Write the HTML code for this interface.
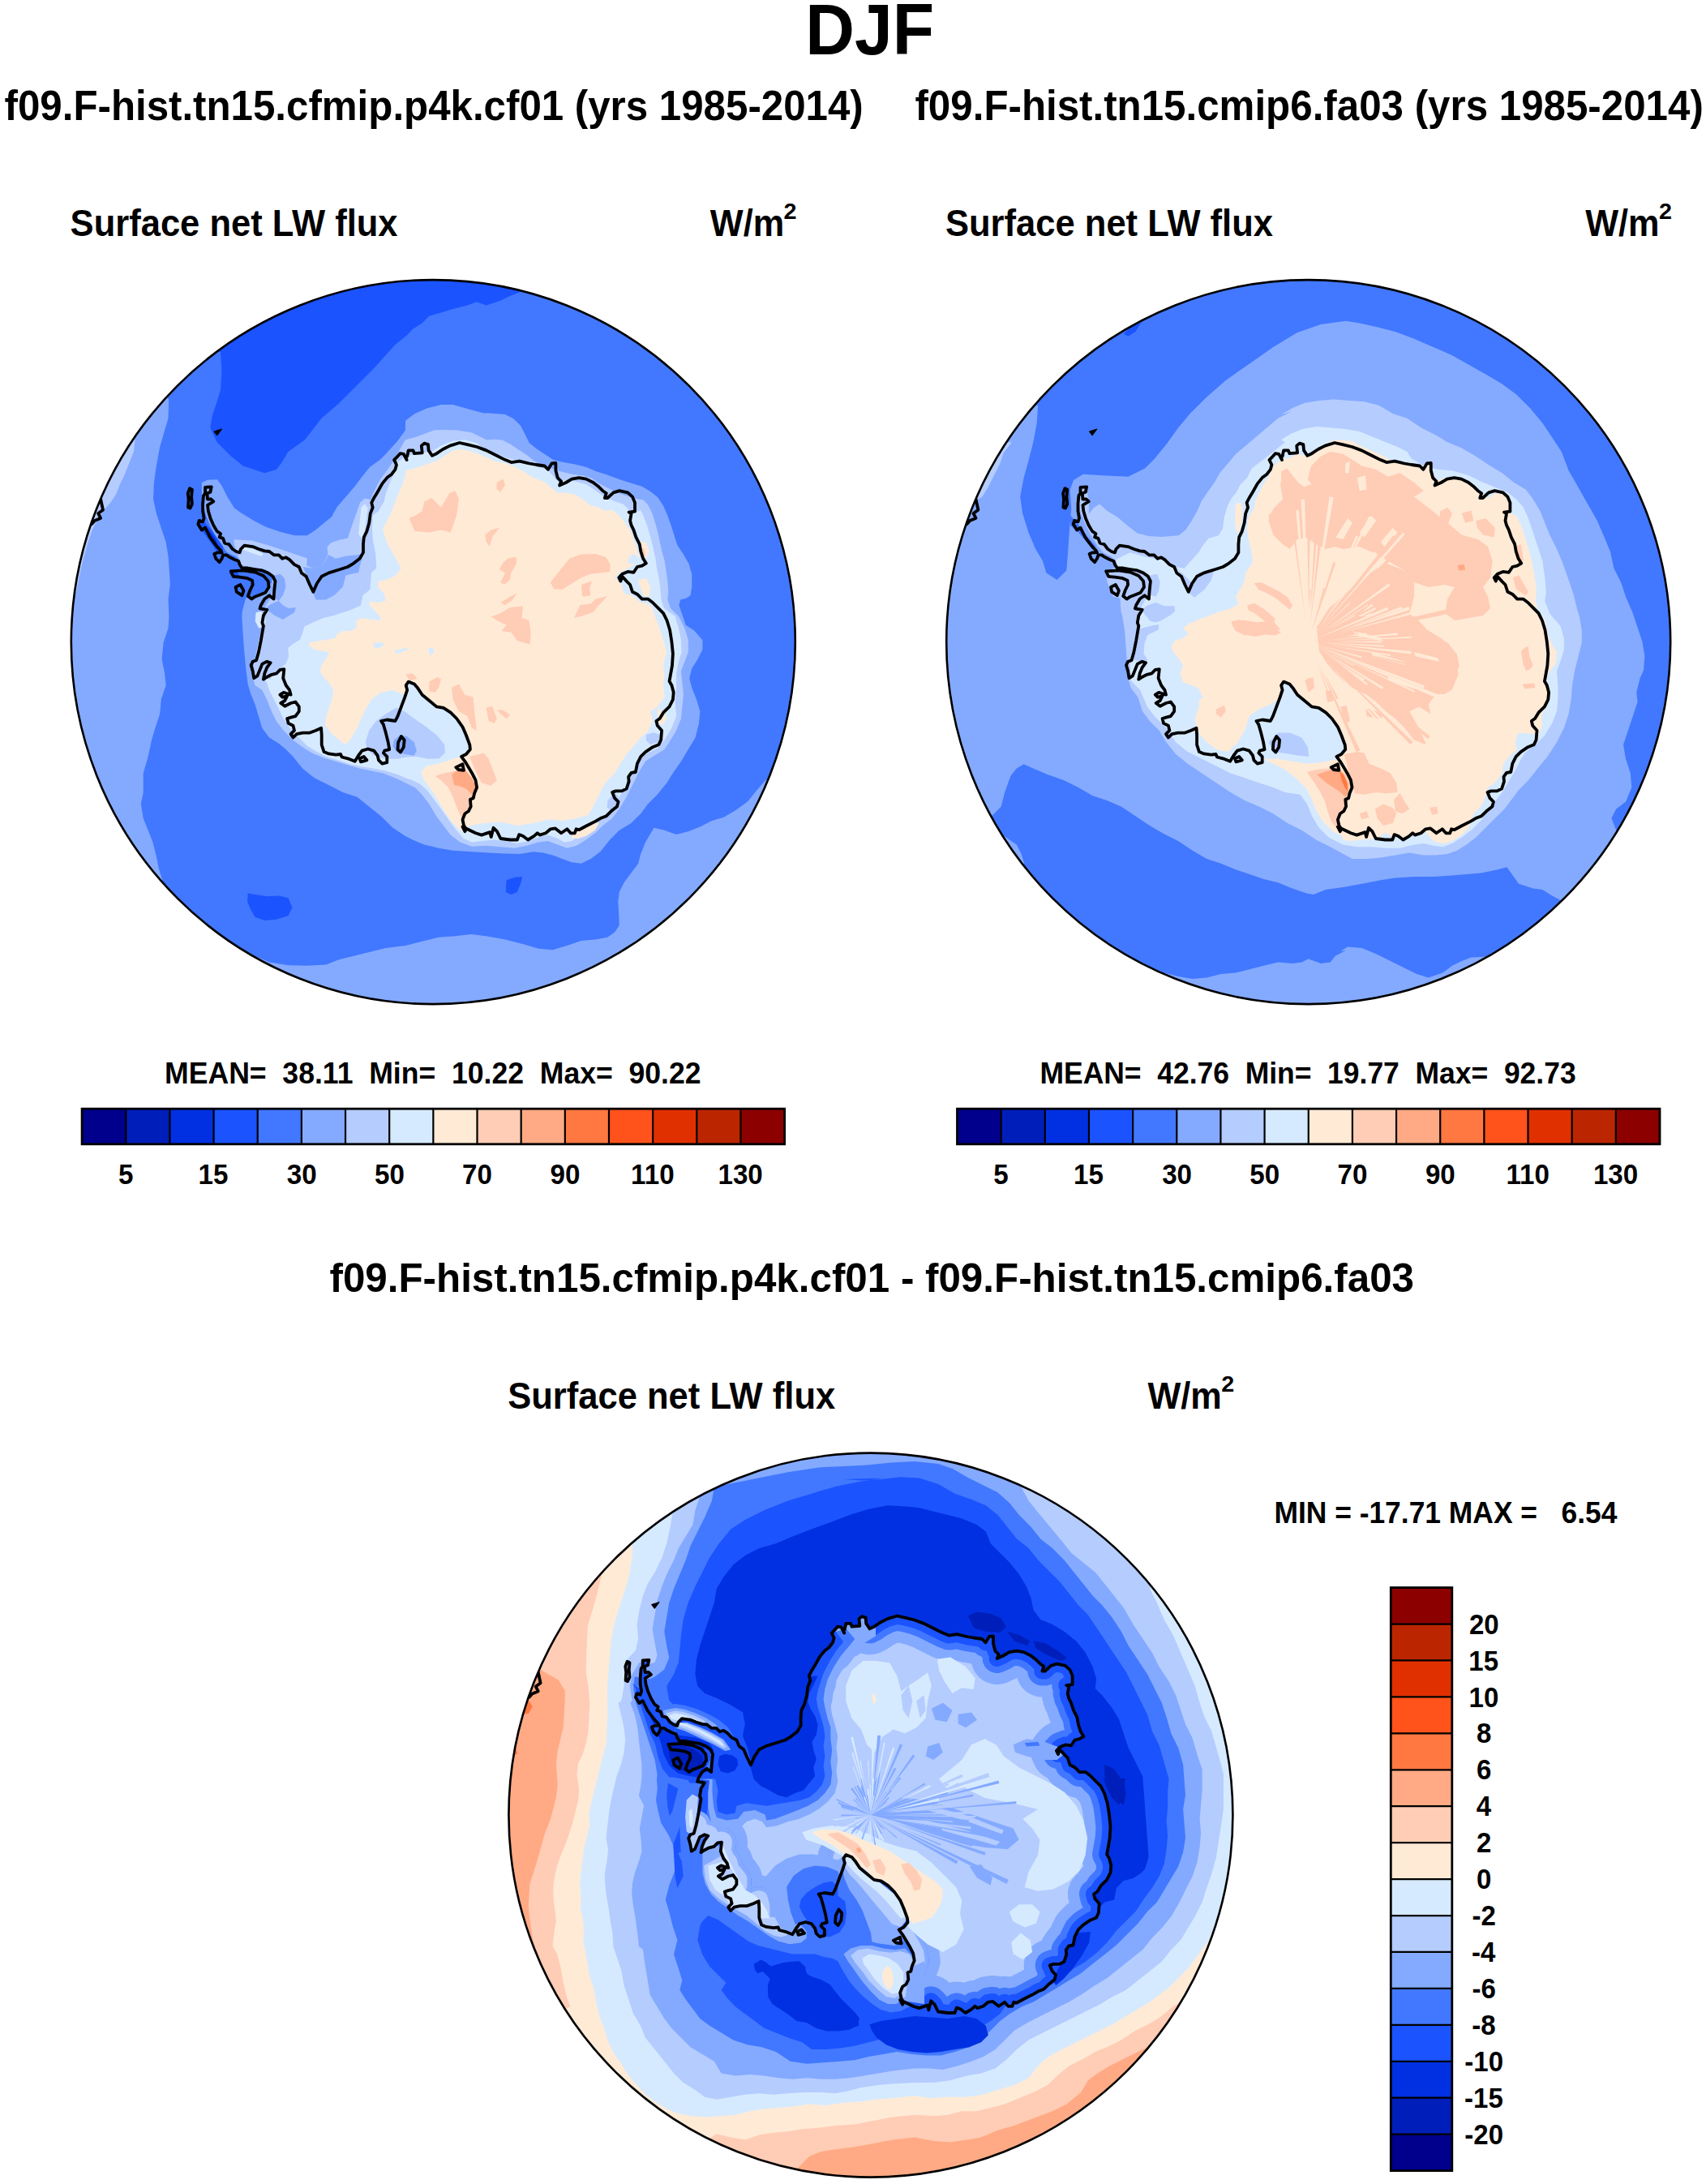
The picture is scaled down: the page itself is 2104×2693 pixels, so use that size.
<!DOCTYPE html>
<html><head><meta charset="utf-8"><title>DJF Surface net LW flux</title>
<style>html,body{margin:0;padding:0;background:#fff}svg{display:block}</style></head>
<body>
<svg width="2104" height="2693" viewBox="0 0 2104 2693" font-family="'Liberation Sans', Arial, Helvetica, sans-serif" font-weight="bold" fill="#000">
<defs>
<clipPath id="clip1"><circle cx="534.3" cy="791.6" r="446.5"/></clipPath>
<clipPath id="clip2"><circle cx="1613.7" cy="791.6" r="446.5"/></clipPath>
<clipPath id="clip3"><circle cx="1073.9" cy="2238.1" r="446.5"/></clipPath>
<clipPath id="coast1"><path d="M500.1,562.7 501.6,567.1 497.8,559.8 493.4,559.2 489.0,564.2 486.1,567.1 489.0,573.0 487.5,578.9 483.1,584.7 477.3,589.1 471.4,596.4 465.6,606.7 461.2,614.0 458.2,619.9 459.7,625.8 456.8,633.1 455.3,644.8 452.4,655.1 448.8,662.4 448.0,671.2 448.0,681.4 443.6,688.8 436.2,694.6 428.9,699.0 417.2,702.8 405.5,706.4 396.7,710.8 390.8,719.5 386.4,729.8 382.0,721.0 377.6,710.8 371.8,706.4 368.8,699.0 363.0,696.1 357.1,690.2 352.7,687.3 348.3,688.8 343.9,684.4 338.1,684.4 332.2,680.0 326.3,679.4 319.0,677.0 311.7,674.1 301.4,672.6 297.0,677.0 295.6,681.4 291.2,680.0 286.8,677.0 282.4,671.2 277.1,669.7 275.1,663.9 270.7,662.4 272.1,658.0 267.7,655.1 263.3,647.7 259.5,638.9 256.9,630.2 256.0,622.8 263.3,618.4 260.4,615.5 256.0,615.5 255.4,608.2 259.5,606.7 260.7,600.3 253.1,600.8 253.1,608.2 251.0,611.1 250.1,621.4 250.1,630.2 251.6,638.9 250.1,643.3 245.7,641.9 244.3,646.3 248.7,653.6 253.1,650.7 256.0,656.5 258.9,662.4 263.3,668.3 267.7,674.1 272.1,678.5 273.6,681.4 267.7,681.4 264.2,682.9 266.3,688.8 270.7,693.2 273.6,688.8 275.1,684.4 279.4,684.4 283.8,687.3 289.7,690.2 294.1,691.7 295.6,696.1 298.5,700.5 305.8,700.5 314.6,702.0 323.4,703.4 330.7,706.4 336.6,710.8 339.5,716.6 338.1,729.8 337.5,738.6 332.2,734.2 326.3,738.6 321.9,745.9 320.5,750.3 329.3,751.8 324.9,759.1 323.4,767.9 324.9,771.7 321.9,789.3 319.0,804.0 316.1,814.2 311.7,815.7 309.6,820.1 311.7,827.4 313.2,836.2 317.5,833.3 320.5,825.9 323.4,818.6 329.3,815.7 333.7,817.2 329.3,823.0 326.3,830.3 324.9,837.7 329.3,834.7 335.1,831.8 341.0,830.3 345.4,825.9 350.4,825.1 349.2,836.2 352.7,845.0 357.1,850.9 358.6,856.7 354.2,855.3 349.8,853.8 345.4,856.7 348.3,859.6 354.2,858.2 351.3,864.0 346.3,867.0 351.3,870.8 358.6,867.0 364.4,865.5 368.8,871.4 368.8,877.2 364.4,883.1 358.6,884.6 354.2,886.0 355.6,891.9 361.5,894.8 363.0,900.7 358.6,905.1 361.5,909.5 365.9,905.1 373.2,903.6 382.0,903.6 389.4,900.7 396.1,897.7 396.7,906.5 396.7,918.3 399.6,927.1 405.5,929.4 414.3,930.6 420.1,930.0 421.6,933.5 428.9,935.3 437.7,938.8 442.1,931.5 446.5,925.6 453.8,923.5 461.2,925.6 465.6,931.5 467.0,937.3 471.4,941.7 477.3,940.2 477.3,932.9 472.9,928.5 474.3,925.6 480.2,924.1 478.7,915.3 475.8,903.6 472.9,893.4 470.0,889.0 477.3,887.5 487.5,889.0 490.5,883.1 494.9,871.4 499.3,859.6 502.2,850.9 500.7,845.0 503.7,840.6 511.0,843.5 514.8,847.9 520.7,856.7 529.5,864.0 538.3,871.4 547.0,872.8 555.8,878.7 563.2,886.0 570.5,896.3 574.9,906.5 579.3,918.3 579.9,924.1 574.9,930.0 569.0,932.9 573.4,938.8 577.8,946.1 582.2,953.4 586.6,962.2 588.1,971.0 585.1,978.3 583.7,984.2 579.9,985.7 580.7,994.5 577.8,1000.3 573.4,1003.3 570.5,1010.6 572.0,1017.9 574.9,1022.3 573.4,1025.2 570.5,1019.4 579.3,1023.8 586.6,1027.3 593.9,1029.6 604.2,1026.1 605.7,1032.0 608.6,1020.8 613.0,1025.2 617.4,1034.0 629.1,1035.5 637.9,1035.5 640.2,1029.1 645.2,1031.1 651.1,1035.5 658.4,1031.1 662.8,1027.3 665.7,1029.6 673.1,1027.3 678.9,1022.3 684.8,1021.4 692.1,1027.3 699.4,1022.3 703.8,1027.3 708.8,1027.3 710.6,1022.3 714.1,1023.2 722.9,1018.5 734.6,1012.6 740.5,1009.1 747.8,1006.2 753.7,1000.3 761.0,994.5 762.5,988.6 758.1,984.2 755.1,976.9 759.5,975.4 766.9,975.4 772.7,972.5 775.6,963.7 775.1,957.8 778.6,952.8 783.9,952.0 785.9,941.7 790.3,932.9 796.2,927.1 805.0,921.2 812.3,918.3 815.2,912.4 816.1,900.7 810.8,894.8 809.4,889.0 813.7,886.0 818.1,878.7 825.5,871.4 829.9,862.6 830.7,853.8 828.4,845.0 825.5,840.0 826.9,832.4 829.0,820.7 829.9,806.0 828.4,791.3 826.1,776.7 822.5,765.0 818.1,756.2 810.8,748.9 805.0,743.0 799.1,738.6 791.8,738.6 785.9,732.7 780.0,729.8 777.1,721.0 772.7,716.6 767.4,710.8 765.4,716.6 763.3,712.2 767.4,707.8 774.2,704.9 781.5,705.8 785.9,699.0 791.8,697.6 796.8,694.6 793.2,688.8 790.3,680.0 788.8,671.2 784.4,662.4 781.5,653.6 778.6,647.7 777.1,641.9 778.6,633.1 775.6,631.6 783.0,630.7 783.0,619.9 780.0,612.6 774.2,607.3 763.9,605.2 756.6,607.3 749.3,614.0 745.8,614.0 747.8,608.2 743.4,605.2 737.5,599.4 731.7,595.0 722.9,590.6 714.1,589.1 705.3,590.6 698.0,595.0 690.1,598.5 692.1,593.5 687.7,589.1 685.4,580.3 685.4,570.9 680.4,571.5 676.0,578.9 671.6,574.5 661.3,573.0 652.6,571.5 640.8,568.6 630.6,570.1 623.2,567.1 611.5,561.3 599.8,555.4 588.1,551.0 576.3,548.1 566.7,546.0 554.9,549.6 546.2,554.0 537.4,559.8 533.0,561.9 528.6,555.4 528.0,548.1 523.3,546.6 519.8,549.6 520.7,558.3 511.0,559.2 509.5,555.4 503.7,555.4 502.2,562.7Z"/></clipPath>
<clipPath id="coast2"><path d="M1579.5,562.7 1581.0,567.1 1577.2,559.8 1572.8,559.2 1568.4,564.2 1565.5,567.1 1568.4,573.0 1566.9,578.9 1562.5,584.7 1556.7,589.1 1550.8,596.4 1545.0,606.7 1540.6,614.0 1537.6,619.9 1539.1,625.8 1536.2,633.1 1534.7,644.8 1531.8,655.1 1528.2,662.4 1527.4,671.2 1527.4,681.4 1523.0,688.8 1515.6,694.6 1508.3,699.0 1496.6,702.8 1484.9,706.4 1476.1,710.8 1470.2,719.5 1465.8,729.8 1461.4,721.0 1457.0,710.8 1451.2,706.4 1448.2,699.0 1442.4,696.1 1436.5,690.2 1432.1,687.3 1427.7,688.8 1423.3,684.4 1417.5,684.4 1411.6,680.0 1405.7,679.4 1398.4,677.0 1391.1,674.1 1380.8,672.6 1376.4,677.0 1375.0,681.4 1370.6,680.0 1366.2,677.0 1361.8,671.2 1356.5,669.7 1354.5,663.9 1350.1,662.4 1351.5,658.0 1347.1,655.1 1342.7,647.7 1338.9,638.9 1336.3,630.2 1335.4,622.8 1342.7,618.4 1339.8,615.5 1335.4,615.5 1334.8,608.2 1338.9,606.7 1340.1,600.3 1332.5,600.8 1332.5,608.2 1330.4,611.1 1329.5,621.4 1329.5,630.2 1331.0,638.9 1329.5,643.3 1325.1,641.9 1323.7,646.3 1328.1,653.6 1332.5,650.7 1335.4,656.5 1338.3,662.4 1342.7,668.3 1347.1,674.1 1351.5,678.5 1353.0,681.4 1347.1,681.4 1343.6,682.9 1345.7,688.8 1350.1,693.2 1353.0,688.8 1354.5,684.4 1358.8,684.4 1363.2,687.3 1369.1,690.2 1373.5,691.7 1375.0,696.1 1377.9,700.5 1385.2,700.5 1394.0,702.0 1402.8,703.4 1410.1,706.4 1416.0,710.8 1418.9,716.6 1417.5,729.8 1416.9,738.6 1411.6,734.2 1405.7,738.6 1401.3,745.9 1399.9,750.3 1408.7,751.8 1404.3,759.1 1402.8,767.9 1404.3,771.7 1401.3,789.3 1398.4,804.0 1395.5,814.2 1391.1,815.7 1389.0,820.1 1391.1,827.4 1392.6,836.2 1396.9,833.3 1399.9,825.9 1402.8,818.6 1408.7,815.7 1413.1,817.2 1408.7,823.0 1405.7,830.3 1404.3,837.7 1408.7,834.7 1414.5,831.8 1420.4,830.3 1424.8,825.9 1429.8,825.1 1428.6,836.2 1432.1,845.0 1436.5,850.9 1438.0,856.7 1433.6,855.3 1429.2,853.8 1424.8,856.7 1427.7,859.6 1433.6,858.2 1430.7,864.0 1425.7,867.0 1430.7,870.8 1438.0,867.0 1443.8,865.5 1448.2,871.4 1448.2,877.2 1443.8,883.1 1438.0,884.6 1433.6,886.0 1435.0,891.9 1440.9,894.8 1442.4,900.7 1438.0,905.1 1440.9,909.5 1445.3,905.1 1452.6,903.6 1461.4,903.6 1468.8,900.7 1475.5,897.7 1476.1,906.5 1476.1,918.3 1479.0,927.1 1484.9,929.4 1493.7,930.6 1499.5,930.0 1501.0,933.5 1508.3,935.3 1517.1,938.8 1521.5,931.5 1525.9,925.6 1533.2,923.5 1540.6,925.6 1545.0,931.5 1546.4,937.3 1550.8,941.7 1556.7,940.2 1556.7,932.9 1552.3,928.5 1553.7,925.6 1559.6,924.1 1558.1,915.3 1555.2,903.6 1552.3,893.4 1549.4,889.0 1556.7,887.5 1566.9,889.0 1569.9,883.1 1574.3,871.4 1578.7,859.6 1581.6,850.9 1580.1,845.0 1583.1,840.6 1590.4,843.5 1594.2,847.9 1600.1,856.7 1608.9,864.0 1617.7,871.4 1626.4,872.8 1635.2,878.7 1642.6,886.0 1649.9,896.3 1654.3,906.5 1658.7,918.3 1659.3,924.1 1654.3,930.0 1648.4,932.9 1652.8,938.8 1657.2,946.1 1661.6,953.4 1666.0,962.2 1667.5,971.0 1664.5,978.3 1663.1,984.2 1659.3,985.7 1660.1,994.5 1657.2,1000.3 1652.8,1003.3 1649.9,1010.6 1651.4,1017.9 1654.3,1022.3 1652.8,1025.2 1649.9,1019.4 1658.7,1023.8 1666.0,1027.3 1673.3,1029.6 1683.6,1026.1 1685.1,1032.0 1688.0,1020.8 1692.4,1025.2 1696.8,1034.0 1708.5,1035.5 1717.3,1035.5 1719.6,1029.1 1724.6,1031.1 1730.5,1035.5 1737.8,1031.1 1742.2,1027.3 1745.1,1029.6 1752.5,1027.3 1758.3,1022.3 1764.2,1021.4 1771.5,1027.3 1778.8,1022.3 1783.2,1027.3 1788.2,1027.3 1790.0,1022.3 1793.5,1023.2 1802.3,1018.5 1814.0,1012.6 1819.9,1009.1 1827.2,1006.2 1833.1,1000.3 1840.4,994.5 1841.9,988.6 1837.5,984.2 1834.5,976.9 1838.9,975.4 1846.3,975.4 1852.1,972.5 1855.0,963.7 1854.5,957.8 1858.0,952.8 1863.3,952.0 1865.3,941.7 1869.7,932.9 1875.6,927.1 1884.4,921.2 1891.7,918.3 1894.6,912.4 1895.5,900.7 1890.2,894.8 1888.8,889.0 1893.1,886.0 1897.5,878.7 1904.9,871.4 1909.3,862.6 1910.1,853.8 1907.8,845.0 1904.9,840.0 1906.3,832.4 1908.4,820.7 1909.3,806.0 1907.8,791.3 1905.5,776.7 1901.9,765.0 1897.5,756.2 1890.2,748.9 1884.4,743.0 1878.5,738.6 1871.2,738.6 1865.3,732.7 1859.4,729.8 1856.5,721.0 1852.1,716.6 1846.8,710.8 1844.8,716.6 1842.7,712.2 1846.8,707.8 1853.6,704.9 1860.9,705.8 1865.3,699.0 1871.2,697.6 1876.2,694.6 1872.6,688.8 1869.7,680.0 1868.2,671.2 1863.8,662.4 1860.9,653.6 1858.0,647.7 1856.5,641.9 1858.0,633.1 1855.0,631.6 1862.4,630.7 1862.4,619.9 1859.4,612.6 1853.6,607.3 1843.3,605.2 1836.0,607.3 1828.7,614.0 1825.2,614.0 1827.2,608.2 1822.8,605.2 1816.9,599.4 1811.1,595.0 1802.3,590.6 1793.5,589.1 1784.7,590.6 1777.4,595.0 1769.5,598.5 1771.5,593.5 1767.1,589.1 1764.8,580.3 1764.8,570.9 1759.8,571.5 1755.4,578.9 1751.0,574.5 1740.7,573.0 1732.0,571.5 1720.2,568.6 1710.0,570.1 1702.6,567.1 1690.9,561.3 1679.2,555.4 1667.5,551.0 1655.7,548.1 1646.1,546.0 1634.3,549.6 1625.6,554.0 1616.8,559.8 1612.4,561.9 1608.0,555.4 1607.4,548.1 1602.7,546.6 1599.2,549.6 1600.1,558.3 1590.4,559.2 1588.9,555.4 1583.1,555.4 1581.6,562.7Z"/></clipPath>
<clipPath id="coast3"><path d="M1039.7,2009.2 1041.2,2013.6 1037.4,2006.3 1033.0,2005.7 1028.6,2010.7 1025.7,2013.6 1028.6,2019.5 1027.1,2025.4 1022.7,2031.2 1016.9,2035.6 1011.0,2042.9 1005.2,2053.2 1000.8,2060.5 997.8,2066.4 999.3,2072.3 996.4,2079.6 994.9,2091.3 992.0,2101.6 988.4,2108.9 987.6,2117.7 987.6,2127.9 983.2,2135.3 975.8,2141.1 968.5,2145.5 956.8,2149.3 945.1,2152.9 936.3,2157.3 930.4,2166.0 926.0,2176.3 921.6,2167.5 917.2,2157.3 911.4,2152.9 908.4,2145.5 902.6,2142.6 896.7,2136.7 892.3,2133.8 887.9,2135.3 883.5,2130.9 877.7,2130.9 871.8,2126.5 865.9,2125.9 858.6,2123.5 851.3,2120.6 841.0,2119.1 836.6,2123.5 835.2,2127.9 830.8,2126.5 826.4,2123.5 822.0,2117.7 816.7,2116.2 814.7,2110.4 810.3,2108.9 811.7,2104.5 807.3,2101.6 802.9,2094.2 799.1,2085.4 796.5,2076.7 795.6,2069.3 802.9,2064.9 800.0,2062.0 795.6,2062.0 795.0,2054.7 799.1,2053.2 800.3,2046.8 792.7,2047.3 792.7,2054.7 790.6,2057.6 789.7,2067.9 789.7,2076.7 791.2,2085.4 789.7,2089.8 785.3,2088.4 783.9,2092.8 788.3,2100.1 792.7,2097.2 795.6,2103.0 798.5,2108.9 802.9,2114.8 807.3,2120.6 811.7,2125.0 813.2,2127.9 807.3,2127.9 803.8,2129.4 805.9,2135.3 810.3,2139.7 813.2,2135.3 814.7,2130.9 819.0,2130.9 823.4,2133.8 829.3,2136.7 833.7,2138.2 835.2,2142.6 838.1,2147.0 845.4,2147.0 854.2,2148.5 863.0,2149.9 870.3,2152.9 876.2,2157.3 879.1,2163.1 877.7,2176.3 877.1,2185.1 871.8,2180.7 865.9,2185.1 861.5,2192.4 860.1,2196.8 868.9,2198.3 864.5,2205.6 863.0,2214.4 864.5,2218.2 861.5,2235.8 858.6,2250.5 855.7,2260.7 851.3,2262.2 849.2,2266.6 851.3,2273.9 852.8,2282.7 857.1,2279.8 860.1,2272.4 863.0,2265.1 868.9,2262.2 873.3,2263.7 868.9,2269.5 865.9,2276.8 864.5,2284.2 868.9,2281.2 874.7,2278.3 880.6,2276.8 885.0,2272.4 890.0,2271.6 888.8,2282.7 892.3,2291.5 896.7,2297.4 898.2,2303.2 893.8,2301.8 889.4,2300.3 885.0,2303.2 887.9,2306.1 893.8,2304.7 890.9,2310.5 885.9,2313.5 890.9,2317.3 898.2,2313.5 904.0,2312.0 908.4,2317.9 908.4,2323.7 904.0,2329.6 898.2,2331.1 893.8,2332.5 895.2,2338.4 901.1,2341.3 902.6,2347.2 898.2,2351.6 901.1,2356.0 905.5,2351.6 912.8,2350.1 921.6,2350.1 929.0,2347.2 935.7,2344.2 936.3,2353.0 936.3,2364.8 939.2,2373.6 945.1,2375.9 953.9,2377.1 959.7,2376.5 961.2,2380.0 968.5,2381.8 977.3,2385.3 981.7,2378.0 986.1,2372.1 993.4,2370.0 1000.8,2372.1 1005.2,2378.0 1006.6,2383.8 1011.0,2388.2 1016.9,2386.7 1016.9,2379.4 1012.5,2375.0 1013.9,2372.1 1019.8,2370.6 1018.3,2361.8 1015.4,2350.1 1012.5,2339.9 1009.6,2335.5 1016.9,2334.0 1027.1,2335.5 1030.1,2329.6 1034.5,2317.9 1038.9,2306.1 1041.8,2297.4 1040.3,2291.5 1043.3,2287.1 1050.6,2290.0 1054.4,2294.4 1060.3,2303.2 1069.1,2310.5 1077.9,2317.9 1086.6,2319.3 1095.4,2325.2 1102.8,2332.5 1110.1,2342.8 1114.5,2353.0 1118.9,2364.8 1119.5,2370.6 1114.5,2376.5 1108.6,2379.4 1113.0,2385.3 1117.4,2392.6 1121.8,2399.9 1126.2,2408.7 1127.7,2417.5 1124.7,2424.8 1123.3,2430.7 1119.5,2432.2 1120.3,2441.0 1117.4,2446.8 1113.0,2449.8 1110.1,2457.1 1111.6,2464.4 1114.5,2468.8 1113.0,2471.7 1110.1,2465.9 1118.9,2470.3 1126.2,2473.8 1133.5,2476.1 1143.8,2472.6 1145.3,2478.5 1148.2,2467.3 1152.6,2471.7 1157.0,2480.5 1168.7,2482.0 1177.5,2482.0 1179.8,2475.6 1184.8,2477.6 1190.7,2482.0 1198.0,2477.6 1202.4,2473.8 1205.3,2476.1 1212.7,2473.8 1218.5,2468.8 1224.4,2467.9 1231.7,2473.8 1239.0,2468.8 1243.4,2473.8 1248.4,2473.8 1250.2,2468.8 1253.7,2469.7 1262.5,2465.0 1274.2,2459.1 1280.1,2455.6 1287.4,2452.7 1293.3,2446.8 1300.6,2441.0 1302.1,2435.1 1297.7,2430.7 1294.7,2423.4 1299.1,2421.9 1306.5,2421.9 1312.3,2419.0 1315.2,2410.2 1314.7,2404.3 1318.2,2399.3 1323.5,2398.5 1325.5,2388.2 1329.9,2379.4 1335.8,2373.6 1344.6,2367.7 1351.9,2364.8 1354.8,2358.9 1355.7,2347.2 1350.4,2341.3 1349.0,2335.5 1353.3,2332.5 1357.7,2325.2 1365.1,2317.9 1369.5,2309.1 1370.3,2300.3 1368.0,2291.5 1365.1,2286.5 1366.5,2278.9 1368.6,2267.2 1369.5,2252.5 1368.0,2237.8 1365.7,2223.2 1362.1,2211.5 1357.7,2202.7 1350.4,2195.4 1344.6,2189.5 1338.7,2185.1 1331.4,2185.1 1325.5,2179.2 1319.6,2176.3 1316.7,2167.5 1312.3,2163.1 1307.0,2157.3 1305.0,2163.1 1302.9,2158.7 1307.0,2154.3 1313.8,2151.4 1321.1,2152.3 1325.5,2145.5 1331.4,2144.1 1336.4,2141.1 1332.8,2135.3 1329.9,2126.5 1328.4,2117.7 1324.0,2108.9 1321.1,2100.1 1318.2,2094.2 1316.7,2088.4 1318.2,2079.6 1315.2,2078.1 1322.6,2077.2 1322.6,2066.4 1319.6,2059.1 1313.8,2053.8 1303.5,2051.7 1296.2,2053.8 1288.9,2060.5 1285.4,2060.5 1287.4,2054.7 1283.0,2051.7 1277.1,2045.9 1271.3,2041.5 1262.5,2037.1 1253.7,2035.6 1244.9,2037.1 1237.6,2041.5 1229.7,2045.0 1231.7,2040.0 1227.3,2035.6 1225.0,2026.8 1225.0,2017.4 1220.0,2018.0 1215.6,2025.4 1211.2,2021.0 1200.9,2019.5 1192.2,2018.0 1180.4,2015.1 1170.2,2016.6 1162.8,2013.6 1151.1,2007.8 1139.4,2001.9 1127.7,1997.5 1115.9,1994.6 1106.3,1992.5 1094.5,1996.1 1085.8,2000.5 1077.0,2006.3 1072.6,2008.4 1068.2,2001.9 1067.6,1994.6 1062.9,1993.1 1059.4,1996.1 1060.3,2004.8 1050.6,2005.7 1049.1,2001.9 1043.3,2001.9 1041.8,2009.2Z"/></clipPath>
</defs>
<rect width="2104" height="2693" fill="#fff"/>
<text xml:space="preserve" transform="translate(993.33,67.10) scale(0.9403,1)" font-size="89.42" >DJF</text>
<text xml:space="preserve" transform="translate(5.56,147.90) scale(0.9548,1)" font-size="51.59" >f09.F-hist.tn15.cfmip.p4k.cf01 (yrs 1985-2014)</text>
<text xml:space="preserve" transform="translate(1128.46,147.90) scale(0.9556,1)" font-size="51.59" >f09.F-hist.tn15.cmip6.fa03 (yrs 1985-2014)</text>
<text xml:space="preserve" transform="translate(406.46,1592.50) scale(0.9954,1)" font-size="49.57" >f09.F-hist.tn15.cfmip.p4k.cf01 - f09.F-hist.tn15.cmip6.fa03</text>
<text xml:space="preserve" transform="translate(86.59,290.80) scale(0.9479,1)" font-size="45.94" >Surface net LW flux</text>
<text xml:space="preserve" transform="translate(875.80,290.80) scale(0.9359,1)" font-size="46.23" >W/m</text>
<text xml:space="preserve" transform="translate(966.59,269.70) scale(1.0113,1)" font-size="28.43" >2</text>
<text xml:space="preserve" transform="translate(1165.99,290.80) scale(0.9479,1)" font-size="45.94" >Surface net LW flux</text>
<text xml:space="preserve" transform="translate(1955.20,290.80) scale(0.9359,1)" font-size="46.23" >W/m</text>
<text xml:space="preserve" transform="translate(2045.99,269.70) scale(1.0113,1)" font-size="28.43" >2</text>
<text xml:space="preserve" transform="translate(626.19,1737.30) scale(0.9479,1)" font-size="45.94" >Surface net LW flux</text>
<text xml:space="preserve" transform="translate(1415.40,1737.30) scale(0.9359,1)" font-size="46.23" >W/m</text>
<text xml:space="preserve" transform="translate(1506.19,1716.20) scale(1.0113,1)" font-size="28.43" >2</text>
<text xml:space="preserve" transform="translate(203.09,1336.40) scale(0.9783,1)" font-size="36.38" >MEAN=  38.11  Min=  10.22  Max=  90.22</text>
<text xml:space="preserve" transform="translate(1282.49,1336.40) scale(0.9751,1)" font-size="36.38" >MEAN=  42.76  Min=  19.77  Max=  92.73</text>
<text xml:space="preserve" transform="translate(1571.40,1877.80) scale(0.9580,1)" font-size="36.96" >MIN = -17.71 MAX =   6.54</text>
<g clip-path="url(#clip1)">
<rect x="85.79999999999995" y="343.1" width="897.0" height="897.0" fill="#4278ff"/>
<path d="M226.5,433.8 272.0,433.8 273.4,457.2 272.0,480.7 267.6,495.3 261.7,512.9 259.4,527.6 267.6,545.2 285.2,562.7 299.8,574.5 326.2,583.3 340.8,578.9 346.7,571.5 355.5,556.9 376.0,542.2 396.5,515.8 417.0,498.3 440.5,474.8 461.0,454.3 487.4,425.0 502.0,413.3 508.8,405.9 520.5,398.6 529.3,389.8 544.0,385.4 558.6,381.0 576.2,376.6 587.9,372.2 599.6,376.6 617.2,370.8 628.9,364.9 640.7,360.5 651.5,351.7 651.5,310.7 226.5,310.7Z" fill="#1b53ff"/>
<path d="M305.7,1101.4 314.5,1102.9 329.1,1105.3 343.8,1104.4 355.5,1107.3 360.5,1119.0 355.5,1129.3 340.8,1133.7 326.2,1135.1 314.5,1130.8 308.6,1120.5 305.1,1111.7Z" fill="#1b53ff"/>
<path d="M624.6,1085.3 634.8,1081.8 644.2,1080.9 642.1,1089.7 637.7,1100.0 630.4,1102.9 623.7,1100.0Z" fill="#1b53ff"/>
<path d="M191.4,471.9 208.1,492.4 207.5,515.8 203.1,530.5 197.2,551.0 192.8,574.5 189.9,595.0 189.0,615.5 192.8,633.1 198.7,650.7 204.6,668.3 207.5,685.8 209.0,706.4 209.8,721.0 207.5,738.6 208.4,760.0 207.5,774.6 201.6,792.2 199.6,812.7 203.1,830.3 204.6,845.0 198.7,862.6 197.2,880.2 191.4,897.7 187.0,912.4 182.6,932.9 176.7,953.4 176.7,976.9 173.8,991.5 176.7,1009.1 182.6,1023.8 188.4,1038.4 192.8,1056.0 195.8,1070.7 200.2,1085.3 167.9,1131.3 50.7,1131.3 50.7,457.2Z" fill="#84aaff"/>
<path d="M153.3,530.5 166.5,542.2 165.0,556.9 159.1,571.5 153.3,586.2 148.9,595.0 143.0,609.6 137.2,618.4 128.4,628.7 121.0,638.9 113.7,653.6 107.8,671.2 102.0,691.7 97.6,712.2 94.1,729.8 65.3,729.8 65.3,530.5Z" fill="#b5ccff"/>
<path d="M294.8,1170.3 332.1,1186.4 355.5,1190.2 379.0,1190.8 402.4,1189.4 417.1,1183.5 446.4,1176.2 475.7,1168.9 500.0,1165.9 517.6,1161.5 541.0,1155.7 561.5,1154.2 580.6,1152.1 599.6,1154.2 623.1,1158.6 646.5,1164.5 664.1,1169.7 681.7,1171.2 699.3,1165.9 716.9,1160.1 734.5,1158.6 749.1,1155.7 757.9,1149.8 763.8,1141.0 763.2,1126.4 762.3,1111.7 763.8,1100.0 769.6,1088.3 778.4,1076.5 787.2,1064.8 790.2,1053.1 796.0,1038.4 804.8,1023.8 806.3,1020.8 819.5,1023.8 834.1,1029.1 848.8,1025.2 863.4,1019.4 878.1,1012.1 892.7,1007.7 907.4,998.9 922.0,988.6 933.8,974.0 942.6,963.7 947.5,959.3 1012.9,959.3 1012.9,1287.5 294.8,1287.5Z" fill="#84aaff"/>
<path d="M500.0,518.8 511.7,510.0 526.4,503.5 544.0,499.1 558.6,498.9 576.2,504.1 596.7,509.4 600.0,509.2 610.6,510.1 622.9,511.0 633.4,516.3 642.2,525.1 647.5,535.6 652.8,546.2 661.5,553.2 672.1,560.2 682.6,567.3 695.0,569.9 709.0,572.5 723.1,576.1 735.4,581.3 749.5,585.7 763.5,591.0 777.6,595.4 791.7,599.8 802.2,605.9 811.0,613.0 818.0,623.5 823.3,635.8 827.7,648.1 832.1,662.2 835.6,672.8 842.7,683.3 849.7,695.6 853.2,707.9 853.2,723.8 851.5,734.3 846.2,737.8 839.1,739.6 837.4,746.6 845.8,770.8 856.1,777.6 866.4,789.3 866.4,801.0 860.5,812.8 853.2,824.5 850.2,836.2 853.2,847.9 859.0,862.6 863.4,877.2 862.0,891.9 857.6,909.5 848.8,924.1 840.0,938.8 829.7,953.4 822.4,965.2 810.7,979.8 798.9,991.5 790.2,1003.3 778.4,1015.0 763.8,1023.8 752.1,1035.5 740.3,1050.2 728.6,1058.9 716.9,1064.8 705.2,1063.3 693.4,1058.9 681.7,1054.5 670.0,1051.6 658.3,1050.2 640.7,1053.1 623.1,1052.5 602.6,1051.6 582.1,1050.2 558.6,1048.7 541.0,1045.8 523.4,1041.4 508.8,1035.5 500.0,1031.1 484.5,1020.8 469.8,1006.2 455.1,994.5 440.5,982.7 422.9,976.9 405.3,968.1 387.7,959.3 373.1,947.6 361.4,932.9 352.6,924.1 343.8,916.8 332.1,909.5 323.3,897.7 318.9,883.1 314.5,868.4 308.6,853.8 305.7,843.5 303.3,824.5 301.3,804.0 299.8,783.4 298.3,760.0 298.9,753.4 300.7,746.4 303.3,737.6 313.9,735.8 326.2,728.8 335.0,718.3 335.8,709.5 327.9,703.3 310.3,700.7 298.0,698.9 296.3,691.9 291.0,686.6 280.4,681.3 273.4,672.5 266.4,662.0 259.3,647.9 254.1,635.6 250.6,621.5 248.8,609.2 248.8,595.2 255.8,591.7 268.1,591.3 273.4,598.7 280.4,612.8 289.2,626.8 299.8,633.9 313.9,642.6 327.9,649.7 345.5,655.8 363.1,660.2 378.9,660.2 389.5,653.2 400.0,644.4 408.8,637.4 415.8,625.1 426.4,612.8 436.9,600.4 447.5,586.4 456.3,575.8 468.6,567.0 475.6,560.0 490.3,543.7 500.0,530.5Z" fill="#84aaff"/>
<path d="M500.0,542.2 511.7,539.3 523.4,534.9 535.2,530.5 546.9,529.9 564.5,530.5 582.1,533.4 600.0,542.6 608.8,541.8 619.3,542.6 629.9,547.9 640.4,555.0 651.0,562.0 659.8,569.0 670.3,574.3 680.9,577.8 691.4,581.3 705.5,584.8 719.6,586.6 730.1,590.1 740.7,597.2 751.2,602.4 761.8,607.7 772.3,611.2 782.9,614.7 793.4,616.5 798.7,621.8 804.0,632.3 807.5,642.9 811.0,655.2 813.6,667.5 816.3,679.8 819.8,692.1 821.6,704.4 823.3,716.7 824.2,729.0 823.3,739.6 826.8,750.1 837.0,760.0 844.4,774.7 848.8,789.3 848.8,804.0 844.4,815.7 840.0,827.4 841.4,842.1 842.9,856.7 841.4,871.4 840.0,886.0 834.1,900.7 825.3,915.3 819.5,924.1 804.8,932.9 796.0,938.8 788.7,950.5 781.4,965.2 772.6,982.7 763.8,997.4 755.0,1009.1 743.3,1017.9 734.5,1026.7 722.7,1035.5 711.0,1042.8 699.3,1045.8 687.6,1041.4 675.8,1037.0 664.1,1038.4 649.5,1042.8 634.8,1045.8 617.2,1044.3 599.6,1042.8 582.1,1043.7 567.4,1038.4 555.7,1029.6 546.9,1017.9 538.1,1006.2 529.3,991.5 520.5,979.8 511.7,971.0 500.0,965.2 487.4,959.3 472.7,953.4 458.1,950.5 443.4,947.6 428.8,943.2 414.1,938.8 399.5,934.4 384.8,928.5 373.1,921.2 361.4,912.4 349.6,900.7 340.8,889.0 335.0,877.2 329.1,862.6 323.3,850.9 314.5,845.0 311.5,833.3 313.0,818.6 317.4,798.1 321.8,777.6 323.8,760.0 324.4,751.7 327.9,746.4 335.0,735.8 336.7,718.3 335.8,707.7 327.9,702.4 310.3,699.8 298.0,697.2 292.8,683.1 289.2,672.5 288.4,665.2 310.3,666.4 331.4,672.5 352.5,679.6 378.9,688.4 378.0,697.2 385.9,700.7 398.3,697.2 404.4,684.0 403.5,674.3 408.8,669.0 419.4,665.5 429.0,663.7 431.7,655.0 436.1,642.6 440.5,630.3 444.0,619.8 450.1,614.5 457.2,616.3 459.8,609.2 468.6,591.7 479.1,577.6 486.2,567.0 489.7,560.0Z" fill="#b5ccff"/>
<path d="M373.6,698.9 378.9,711.2 385.9,730.6 389.5,739.4 401.8,739.4 412.3,734.1 422.9,723.5 426.4,709.5 433.4,707.7 442.2,705.9 444.0,697.2 448.4,683.1 442.2,684.0 426.4,685.7 414.1,688.7 405.3,684.0 398.3,697.2 385.9,700.7Z" fill="#84aaff"/>
<path d="M338.5,709.5 345.5,707.7 350.8,713.0 352.5,723.5 349.0,734.1 343.7,741.1 338.5,737.6 335.8,727.0Z" fill="#84aaff"/>
<path d="M327.9,750.8 331.4,753.4 338.5,758.7 349.0,764.0 354.3,760.5 363.1,755.2 364.8,749.0 356.1,749.9 349.0,746.4 343.7,741.1 338.5,742.9 331.4,746.4Z" fill="#84aaff"/>
<path d="M500.0,562.7 517.6,558.3 532.2,556.9 544.0,549.6 558.6,543.7 573.3,542.2 587.9,546.6 600.0,555.8 610.6,558.5 622.9,563.7 635.2,567.3 652.8,572.5 675.6,579.6 687.9,593.6 698.5,591.9 709.0,593.6 723.1,597.2 733.6,604.2 745.9,613.0 758.3,618.3 768.8,621.8 775.8,628.8 782.9,632.3 789.9,628.8 793.4,635.8 798.7,649.9 802.2,662.2 805.7,676.3 808.4,688.6 810.1,700.9 812.8,713.2 814.5,727.3 815.4,739.6 818.9,750.1 832.6,760.0 837.0,774.7 840.0,789.3 840.6,804.0 837.0,815.7 834.1,830.3 834.1,847.9 832.6,865.5 834.1,883.1 828.3,897.7 819.5,912.4 810.7,922.7 798.9,928.5 790.2,935.8 782.8,947.6 775.5,962.2 766.7,978.3 757.9,991.5 749.1,1003.3 737.4,1013.5 725.7,1022.3 714.0,1031.1 705.2,1037.0 696.4,1038.4 687.6,1034.0 675.8,1029.6 664.1,1032.6 652.4,1037.0 637.7,1039.9 623.1,1037.0 608.4,1035.5 593.8,1037.0 582.1,1038.4 571.8,1034.0 563.0,1023.8 554.2,1012.1 544.0,997.4 535.2,985.7 526.4,974.0 517.6,966.6 508.8,962.2 500.0,959.3 490.3,954.9 475.7,950.5 461.0,947.6 446.4,945.2 431.7,942.3 417.0,937.3 402.4,932.9 390.7,927.1 378.9,919.7 370.2,910.9 361.4,903.6 355.5,894.8 349.6,886.0 343.8,874.3 337.9,862.6 332.1,850.9 329.1,842.1 326.2,836.2 333.2,837.8 338.5,829.0 345.5,823.8 352.5,818.5 356.1,809.7 355.2,799.1 361.3,793.9 370.1,788.6 372.8,781.6 375.4,772.8 385.9,767.5 398.3,762.2 412.3,758.7 422.9,755.2 433.4,751.7 444.9,746.4 447.5,734.1 456.3,727.0 457.2,718.3 458.0,705.9 464.2,700.7 463.3,683.1 459.8,665.5 458.9,651.4 459.8,635.6 466.8,630.3 473.9,618.0 475.6,609.2 480.9,595.2 486.2,582.9 489.7,570.6Z" fill="#d6eaff"/>
<path d="M298.0,674.3 310.3,676.1 324.4,683.1 322.6,685.7 308.6,681.3 298.9,677.8Z" fill="#d6eaff"/>
<path d="M445.7,625.1 450.1,621.5 453.6,626.8 451.0,647.9 447.5,665.5 442.2,658.5 444.0,639.1Z" fill="#d6eaff"/>
<path d="M315.6,755.2 322.6,753.4 327.9,764.0 326.2,772.8 319.1,774.5 314.7,765.7Z" fill="#d6eaff"/>
<path d="M450.8,915.3 455.1,900.7 463.9,889.0 475.7,880.2 488.9,872.8 499.1,877.2 510.8,886.0 525.5,896.3 538.7,906.5 548.3,918.3 548.9,928.5 541.6,935.3 528.4,935.8 513.8,932.9 502.0,933.5 490.3,935.8 475.7,935.8 461.0,931.5 452.8,924.1Z" fill="#b5ccff"/>
<path d="M485.9,912.4 493.2,906.5 502.0,908.0 510.8,915.3 513.8,925.6 510.8,931.5 499.1,930.0 488.9,927.1 484.5,919.7Z" fill="#84aaff"/>
<path d="M807.7,760.0 804.8,750.3 798.9,744.5 790.2,743.0 781.4,735.7 772.6,729.8 763.8,718.1 757.9,712.2 763.8,706.4 775.5,700.5 781.4,696.1 788.7,688.8 785.8,677.0 781.4,665.3 777.0,653.6 777.6,653.4 775.8,651.7 770.6,644.6 763.5,635.8 754.7,628.8 745.9,629.7 737.2,625.3 728.4,623.5 719.6,616.5 709.0,609.5 698.5,607.7 687.9,607.7 679.1,600.7 670.3,593.6 659.8,590.1 651.0,584.8 642.2,579.6 631.7,574.3 621.1,570.8 610.6,569.0 600.0,563.7 593.8,561.3 582.1,556.9 570.3,554.0 558.6,555.4 546.9,562.7 538.1,568.6 529.3,571.5 520.5,574.5 511.7,577.4 500.0,580.3 500.2,586.4 495.0,600.4 489.7,612.8 484.4,626.8 479.1,639.1 472.1,651.4 475.6,665.5 482.7,679.6 489.7,691.9 495.0,700.7 487.9,709.5 477.4,714.7 466.8,716.5 466.0,723.5 473.9,732.3 475.6,741.1 466.8,742.9 456.3,742.0 455.4,746.4 463.3,753.4 468.6,760.5 469.5,764.9 458.0,764.0 445.7,762.2 438.7,765.7 440.5,772.8 433.4,778.0 422.9,778.0 415.8,781.6 414.1,786.8 405.3,788.6 393.0,790.3 382.4,792.1 380.7,795.6 387.7,800.9 398.3,802.7 406.2,804.4 403.5,809.7 400.0,815.0 396.5,820.2 394.7,827.3 398.3,834.3 405.3,841.3 410.6,850.1 412.3,860.0 412.6,847.9 408.3,865.5 402.4,883.1 400.9,894.8 411.2,906.5 425.8,918.3 431.7,912.4 440.5,897.7 449.3,877.2 458.1,862.6 469.8,853.8 484.5,850.9 499.1,856.7 502.1,850.9 500.6,845.0 503.5,840.6 510.8,843.5 514.7,847.9 520.5,856.7 529.3,864.0 538.1,871.4 546.9,872.8 555.7,878.7 563.0,886.0 570.3,896.3 574.7,906.5 579.1,918.3 579.7,924.1 574.7,930.0 568.9,932.9 558.6,935.8 541.0,941.7 526.4,944.6 519.1,952.0 523.4,962.2 532.2,974.0 541.0,988.6 549.8,1003.3 558.6,1015.0 567.4,1023.8 573.3,1025.2 579.1,1017.9 596.7,1015.0 617.2,1013.5 637.7,1017.9 658.3,1015.0 675.8,1010.6 693.4,1012.1 711.0,1009.1 725.7,1004.7 731.5,994.5 737.4,982.7 743.3,971.0 749.1,962.2 757.9,953.4 765.2,941.7 772.6,930.0 781.4,919.7 790.2,909.5 798.9,902.1 804.8,889.0 801.9,877.2 810.7,871.4 819.5,859.6 818.0,845.0 819.5,833.3 818.0,818.6 822.4,804.0 818.0,789.3 813.6,774.7 807.7,760.0Z" fill="#ffead6"/>
<path d="M789.0,667.5 796.9,669.2 800.5,679.8 796.9,688.6 793.4,686.8Z" fill="#ffead6"/>
<path d="M786.4,715.0 796.9,713.2 802.2,723.8 800.5,736.1 793.4,734.3Z" fill="#ffead6"/>
<path d="M781.1,682.4 789.0,688.6 782.9,695.6 774.1,693.9 775.8,686.8Z" fill="#d6eaff"/>
<path d="M765.3,709.7 775.8,706.2 786.4,709.7 788.1,718.5 779.4,723.8 775.8,734.3 768.8,730.8 767.0,720.2Z" fill="#d6eaff"/>
<path d="M705.5,1023.8 712.5,1023.8 723.1,1018.5 733.6,1013.2 738.9,1015.0 733.6,1023.8 723.1,1030.8 712.5,1034.3 705.5,1033.4Z" fill="#ffead6"/>
<path d="M811.0,872.5 819.8,879.6 822.4,886.6 818.0,893.6 811.9,891.9Z" fill="#ffead6"/>
<path d="M796.9,905.9 805.7,903.3 814.5,905.9 812.8,914.7 802.2,918.3 796.9,913.0Z" fill="#b5ccff"/>
<path d="M749.5,986.8 758.3,978.0 762.7,981.6 760.0,993.9 753.0,999.1 748.6,995.6Z" fill="#b5ccff"/>
<path d="M460.7,793.0 472.1,792.1 473.0,796.5 465.1,800.0 460.7,797.4Z" fill="#d6eaff"/>
<path d="M486.2,802.7 502.0,798.3 502.9,800.9 489.7,806.2Z" fill="#d6eaff"/>
<path d="M528.4,799.1 533.7,798.3 535.4,805.3 530.1,807.9Z" fill="#d6eaff"/>
<path d="M504.4,638.9 511.7,636.0 520.5,630.2 523.4,618.4 532.2,614.0 544.0,625.8 554.2,608.2 561.5,605.2 565.9,615.5 563.0,636.0 555.7,656.5 544.0,653.6 529.3,656.5 511.7,655.1Z" fill="#ffccb5"/>
<path d="M612.8,595.0 620.2,590.6 623.1,597.9 617.2,606.7 612.3,602.3Z" fill="#ffccb5"/>
<path d="M598.2,659.5 605.5,653.6 615.8,650.7 607.0,662.4 604.0,674.1 599.6,668.3Z" fill="#ffccb5"/>
<path d="M626.0,688.8 636.3,686.4 637.2,694.6 630.4,706.4 629.0,715.1 621.6,721.0 617.2,718.1 623.1,706.4 615.8,702.0 620.2,694.6Z" fill="#ffccb5"/>
<path d="M678.8,718.1 690.5,703.4 702.2,688.8 716.9,683.5 734.5,682.9 747.7,687.3 752.6,696.1 752.1,704.9 740.3,706.4 728.6,707.8 716.9,712.2 705.2,719.5 693.4,726.9 683.2,726.3Z" fill="#ffccb5"/>
<path d="M716.9,721.0 730.1,716.6 727.1,725.4 728.6,734.2 718.3,735.7Z" fill="#ffccb5"/>
<path d="M715.4,745.9 728.6,744.5 734.5,738.6 749.1,735.1 737.4,747.4 731.5,754.7 719.8,759.1 708.1,762.0Z" fill="#ffccb5"/>
<path d="M605.5,760.6 617.2,756.2 629.0,748.9 645.1,747.4 643.6,762.0 652.4,765.0 654.7,779.6 653.9,794.3 646.5,792.8 637.7,789.9 630.4,779.6 618.7,778.2 624.6,770.8 615.8,766.4Z" fill="#ffccb5"/>
<path d="M617.2,743.0 629.0,735.7 637.7,731.3 631.9,740.1 623.1,745.9Z" fill="#ffccb5"/>
<path d="M790.7,675.6 794.5,677.0 796.0,685.8 792.5,684.4Z" fill="#ffccb5"/>
<path d="M500.0,831.8 508.8,830.3 514.7,836.8 505.9,839.1Z" fill="#ffccb5"/>
<path d="M529.3,840.6 539.6,834.7 544.0,837.7 541.0,847.9 536.6,853.8 529.3,852.3Z" fill="#ffccb5"/>
<path d="M557.2,847.9 565.9,843.5 573.3,856.7 583.5,859.6 585.0,877.2 587.9,900.7 582.1,897.7 576.2,883.1 565.9,877.2 558.6,862.6Z" fill="#ffccb5"/>
<path d="M599.6,872.8 607.0,870.8 612.8,886.0 609.9,891.9 602.6,889.0Z" fill="#ffccb5"/>
<path d="M612.8,874.9 620.2,875.8 629.0,881.6 624.6,886.0 617.2,880.2Z" fill="#ffccb5"/>
<path d="M579.1,932.9 596.7,928.5 602.6,935.8 608.4,950.5 612.8,962.2 605.5,968.7 593.8,965.2 587.9,953.4Z" fill="#ffccb5"/>
<path d="M536.6,957.0 546.9,953.4 563.0,950.5 573.3,947.6 583.5,962.2 587.9,971.0 583.5,984.2 579.7,994.5 573.3,1003.3 568.9,1009.1 563.0,994.5 558.6,982.7 552.8,971.0 544.0,962.2Z" fill="#ffccb5"/>
<path d="M557.2,954.9 563.0,950.5 573.3,949.0 582.1,959.3 587.3,971.0 582.1,979.8 574.7,972.5 567.4,969.6 560.1,968.1Z" fill="#ffaa84"/>
<path d="M243.5,640.9 250.6,642.6 259.3,651.4 268.1,663.7 275.2,674.3 275.2,683.1 268.1,681.3 261.1,670.8 252.3,658.5 245.3,649.7Z" fill="#1b53ff"/>
<path d="M252.3,647.9 259.3,655.0 266.4,665.5 269.9,676.1 264.6,672.5 257.6,662.0Z" fill="#0030e1"/>
<path d="M282.2,705.9 292.8,705.9 296.3,711.2 287.5,713.0Z" fill="#1b53ff"/>
<path d="M500.1,562.7 501.6,567.1 497.8,559.8 493.4,559.2 489.0,564.2 486.1,567.1 489.0,573.0 487.5,578.9 483.1,584.7 477.3,589.1 471.4,596.4 465.6,606.7 461.2,614.0 458.2,619.9 459.7,625.8 456.8,633.1 455.3,644.8 452.4,655.1 448.8,662.4 448.0,671.2 448.0,681.4 443.6,688.8 436.2,694.6 428.9,699.0 417.2,702.8 405.5,706.4 396.7,710.8 390.8,719.5 386.4,729.8 382.0,721.0 377.6,710.8 371.8,706.4 368.8,699.0 363.0,696.1 357.1,690.2 352.7,687.3 348.3,688.8 343.9,684.4 338.1,684.4 332.2,680.0 326.3,679.4 319.0,677.0 311.7,674.1 301.4,672.6 297.0,677.0 295.6,681.4 291.2,680.0 286.8,677.0 282.4,671.2 277.1,669.7 275.1,663.9 270.7,662.4 272.1,658.0 267.7,655.1 263.3,647.7 259.5,638.9 256.9,630.2 256.0,622.8 263.3,618.4 260.4,615.5 256.0,615.5 255.4,608.2 259.5,606.7 260.7,600.3 253.1,600.8 253.1,608.2 251.0,611.1 250.1,621.4 250.1,630.2 251.6,638.9 250.1,643.3 245.7,641.9 244.3,646.3 248.7,653.6 253.1,650.7 256.0,656.5 258.9,662.4 263.3,668.3 267.7,674.1 272.1,678.5 273.6,681.4 267.7,681.4 264.2,682.9 266.3,688.8 270.7,693.2 273.6,688.8 275.1,684.4 279.4,684.4 283.8,687.3 289.7,690.2 294.1,691.7 295.6,696.1 298.5,700.5 305.8,700.5 314.6,702.0 323.4,703.4 330.7,706.4 336.6,710.8 339.5,716.6 338.1,729.8 337.5,738.6 332.2,734.2 326.3,738.6 321.9,745.9 320.5,750.3 329.3,751.8 324.9,759.1 323.4,767.9 324.9,771.7 321.9,789.3 319.0,804.0 316.1,814.2 311.7,815.7 309.6,820.1 311.7,827.4 313.2,836.2 317.5,833.3 320.5,825.9 323.4,818.6 329.3,815.7 333.7,817.2 329.3,823.0 326.3,830.3 324.9,837.7 329.3,834.7 335.1,831.8 341.0,830.3 345.4,825.9 350.4,825.1 349.2,836.2 352.7,845.0 357.1,850.9 358.6,856.7 354.2,855.3 349.8,853.8 345.4,856.7 348.3,859.6 354.2,858.2 351.3,864.0 346.3,867.0 351.3,870.8 358.6,867.0 364.4,865.5 368.8,871.4 368.8,877.2 364.4,883.1 358.6,884.6 354.2,886.0 355.6,891.9 361.5,894.8 363.0,900.7 358.6,905.1 361.5,909.5 365.9,905.1 373.2,903.6 382.0,903.6 389.4,900.7 396.1,897.7 396.7,906.5 396.7,918.3 399.6,927.1 405.5,929.4 414.3,930.6 420.1,930.0 421.6,933.5 428.9,935.3 437.7,938.8 442.1,931.5 446.5,925.6 453.8,923.5 461.2,925.6 465.6,931.5 467.0,937.3 471.4,941.7 477.3,940.2 477.3,932.9 472.9,928.5 474.3,925.6 480.2,924.1 478.7,915.3 475.8,903.6 472.9,893.4 470.0,889.0 477.3,887.5 487.5,889.0 490.5,883.1 494.9,871.4 499.3,859.6 502.2,850.9 500.7,845.0 503.7,840.6 511.0,843.5 514.8,847.9 520.7,856.7 529.5,864.0 538.3,871.4 547.0,872.8 555.8,878.7 563.2,886.0 570.5,896.3 574.9,906.5 579.3,918.3 579.9,924.1 574.9,930.0 569.0,932.9 573.4,938.8 577.8,946.1 582.2,953.4 586.6,962.2 588.1,971.0 585.1,978.3 583.7,984.2 579.9,985.7 580.7,994.5 577.8,1000.3 573.4,1003.3 570.5,1010.6 572.0,1017.9 574.9,1022.3 573.4,1025.2 570.5,1019.4 579.3,1023.8 586.6,1027.3 593.9,1029.6 604.2,1026.1 605.7,1032.0 608.6,1020.8 613.0,1025.2 617.4,1034.0 629.1,1035.5 637.9,1035.5 640.2,1029.1 645.2,1031.1 651.1,1035.5 658.4,1031.1 662.8,1027.3 665.7,1029.6 673.1,1027.3 678.9,1022.3 684.8,1021.4 692.1,1027.3 699.4,1022.3 703.8,1027.3 708.8,1027.3 710.6,1022.3 714.1,1023.2 722.9,1018.5 734.6,1012.6 740.5,1009.1 747.8,1006.2 753.7,1000.3 761.0,994.5 762.5,988.6 758.1,984.2 755.1,976.9 759.5,975.4 766.9,975.4 772.7,972.5 775.6,963.7 775.1,957.8 778.6,952.8 783.9,952.0 785.9,941.7 790.3,932.9 796.2,927.1 805.0,921.2 812.3,918.3 815.2,912.4 816.1,900.7 810.8,894.8 809.4,889.0 813.7,886.0 818.1,878.7 825.5,871.4 829.9,862.6 830.7,853.8 828.4,845.0 825.5,840.0 826.9,832.4 829.0,820.7 829.9,806.0 828.4,791.3 826.1,776.7 822.5,765.0 818.1,756.2 810.8,748.9 805.0,743.0 799.1,738.6 791.8,738.6 785.9,732.7 780.0,729.8 777.1,721.0 772.7,716.6 767.4,710.8 765.4,716.6 763.3,712.2 767.4,707.8 774.2,704.9 781.5,705.8 785.9,699.0 791.8,697.6 796.8,694.6 793.2,688.8 790.3,680.0 788.8,671.2 784.4,662.4 781.5,653.6 778.6,647.7 777.1,641.9 778.6,633.1 775.6,631.6 783.0,630.7 783.0,619.9 780.0,612.6 774.2,607.3 763.9,605.2 756.6,607.3 749.3,614.0 745.8,614.0 747.8,608.2 743.4,605.2 737.5,599.4 731.7,595.0 722.9,590.6 714.1,589.1 705.3,590.6 698.0,595.0 690.1,598.5 692.1,593.5 687.7,589.1 685.4,580.3 685.4,570.9 680.4,571.5 676.0,578.9 671.6,574.5 661.3,573.0 652.6,571.5 640.8,568.6 630.6,570.1 623.2,567.1 611.5,561.3 599.8,555.4 588.1,551.0 576.3,548.1 566.7,546.0 554.9,549.6 546.2,554.0 537.4,559.8 533.0,561.9 528.6,555.4 528.0,548.1 523.3,546.6 519.8,549.6 520.7,558.3 511.0,559.2 509.5,555.4 503.7,555.4 502.2,562.7ZM284.7,704.3 300.0,703.4 314.6,705.5 324.9,709.9 330.7,716.6 331.6,723.9 327.2,730.7 321.1,733.3 314.6,735.7 310.2,738.6 305.8,735.1 308.2,728.3 311.7,721.0 311.1,715.7 304.4,712.8 295.6,711.6 287.7,710.8ZM290.6,723.9 296.4,721.0 300.5,728.3 298.5,734.2 291.8,729.8ZM234.0,602.3 236.9,603.8 236.1,612.6 236.9,621.4 234.6,626.6 232.0,625.8 232.6,615.5 231.7,608.2ZM494.9,908.0 498.7,912.4 497.8,921.2 494.0,927.6 490.5,924.1 491.1,915.3ZM443.6,935.3 448.8,932.9 452.4,937.3 445.0,939.4ZM562.3,946.1 570.5,942.3 572.0,949.9 565.2,949.0ZM124.1,615.5 127.0,628.7 121.2,633.1 124.1,638.9 116.8,641.9 113.0,646.3" fill="none" stroke="#000" stroke-width="3.8" stroke-linejoin="round" stroke-linecap="round"/>
<path d="M263.9,532.0 273.6,529.0 267.7,537.0Z" fill="#000" stroke="#000" stroke-width="1"/>
</g>
<circle cx="534.3" cy="791.6" r="446.5" fill="none" stroke="#000" stroke-width="2.6"/>
<g clip-path="url(#clip2)">
<rect x="1165.2" y="343.1" width="897.0" height="897.0" fill="#84aaff"/>
<path d="M1280.2,499.7 1278.7,521.7 1274.3,545.2 1268.4,568.6 1262.6,589.1 1258.2,612.6 1261.1,633.1 1268.4,656.5 1277.2,677.0 1286.0,691.7 1290.4,706.4 1303.6,715.1 1315.3,703.4 1316.8,685.8 1318.3,662.4 1319.7,644.8 1321.2,627.2 1319.7,603.8 1324.1,592.1 1335.8,584.7 1359.3,586.2 1391.5,587.7 1412.1,577.4 1423.8,565.7 1438.4,548.1 1453.1,527.6 1467.7,510.0 1488.3,489.5 1511.7,469.0 1541.0,448.4 1570.3,427.9 1599.6,410.3 1628.9,400.1 1660.0,395.7 1676.7,398.6 1697.2,403.0 1720.7,408.9 1744.1,417.7 1767.6,427.9 1791.0,438.2 1814.5,451.4 1835.0,463.1 1852.6,473.4 1870.2,486.5 1887.7,504.1 1902.4,521.7 1914.1,539.3 1925.8,556.9 1934.6,580.3 1946.4,600.8 1958.1,621.4 1969.8,641.9 1978.6,662.4 1985.9,680.0 1990.3,700.5 1999.1,718.1 2005.0,735.7 2013.8,756.2 2019.6,773.8 2025.5,791.4 2028.4,808.9 2027.0,826.5 2022.6,836.2 2018.2,853.8 2019.6,865.5 2013.8,883.1 2007.9,900.7 2002.0,918.3 2005.0,935.8 2010.8,953.4 2012.3,971.0 2005.0,988.6 1993.2,997.4 1987.4,1009.1 1993.2,1023.8 2019.6,1038.4 2107.5,1023.8 2107.5,291.1 1599.6,281.4 1218.6,281.4 1218.6,499.7Z" fill="#4278ff"/>
<path d="M1385.7,411.8 1394.5,403.0 1407.7,397.2 1400.3,408.9 1391.5,414.7Z" fill="#1b53ff"/>
<path d="M1204.0,1023.8 1224.5,1004.7 1234.7,994.5 1239.1,976.9 1246.5,956.4 1253.8,947.6 1262.6,942.3 1274.3,947.6 1291.9,954.9 1312.4,962.2 1330.0,971.0 1347.6,981.3 1365.2,987.1 1382.7,994.5 1400.3,1006.2 1417.9,1017.9 1435.5,1028.2 1453.1,1037.0 1470.7,1048.7 1488.3,1058.9 1505.8,1064.8 1523.4,1072.1 1541.0,1078.0 1558.6,1083.9 1576.2,1088.3 1593.8,1095.6 1611.3,1101.4 1620.1,1102.9 1634.8,1097.0 1656.2,1094.1 1679.6,1089.7 1703.1,1085.3 1720.7,1082.4 1744.1,1080.9 1767.6,1080.9 1791.0,1079.5 1808.6,1078.0 1826.2,1076.5 1843.8,1073.0 1858.4,1069.2 1865.8,1079.5 1873.1,1089.7 1890.7,1095.6 1902.4,1097.0 1914.1,1104.4 1925.3,1110.2 1961.0,1141.0 1843.8,1199.6 1832.1,1179.7 1814.5,1180.6 1802.7,1185.0 1791.0,1190.8 1779.3,1199.6 1761.7,1205.5 1747.1,1201.1 1732.4,1193.8 1714.8,1185.0 1697.2,1176.2 1679.6,1168.9 1662.1,1167.4 1647.4,1176.2 1638.6,1186.4 1629.8,1187.9 1612.2,1182.0 1606.4,1183.5 1594.7,1186.4 1580.0,1185.0 1660.0,1171.8 1646.5,1179.1 1640.7,1186.4 1628.9,1187.9 1614.3,1182.0 1605.5,1186.4 1593.8,1187.9 1576.2,1186.4 1558.6,1190.8 1541.0,1195.2 1523.4,1199.6 1505.8,1201.1 1488.3,1205.5 1470.7,1207.0 1453.1,1204.0 1435.5,1199.6 1394.5,1228.9 1189.3,1111.7Z" fill="#4278ff"/>
<path d="M1218.6,1017.9 1240.6,1032.6 1253.8,1041.4 1259.6,1053.1 1263.2,1064.8 1247.9,1082.4 1204.0,1023.8Z" fill="#84aaff"/>
<path d="M1247.9,545.2 1237.7,558.3 1233.3,571.5 1225.9,586.2 1218.6,600.8 1211.3,612.6 1204.0,617.0 1189.3,617.0 1189.3,545.2Z" fill="#b5ccff"/>
<path d="M1320.0,635.6 1327.0,642.6 1334.1,653.2 1342.9,663.7 1351.7,674.3 1346.4,676.1 1337.6,665.5 1328.8,655.0 1320.0,647.9Z" fill="#4278ff"/>
<path d="M1580.0,511.5 1594.7,502.7 1609.3,496.8 1626.9,493.9 1644.5,492.4 1665.0,493.9 1682.6,495.3 1700.2,499.7 1717.7,510.0 1735.3,515.8 1752.9,527.6 1770.5,536.4 1785.2,545.2 1802.7,552.5 1820.3,562.7 1837.9,574.5 1852.6,583.3 1867.2,595.0 1881.9,603.8 1890.7,615.5 1899.5,630.2 1905.3,644.8 1911.2,659.5 1920.0,677.0 1927.3,694.6 1934.6,715.1 1940.5,732.7 1944.9,750.3 1947.8,760.0 1950.8,777.6 1950.8,792.2 1946.4,809.8 1942.0,827.4 1939.0,845.0 1937.6,862.6 1934.6,880.2 1928.8,897.7 1920.0,915.3 1908.3,932.9 1896.5,947.6 1884.8,962.2 1873.1,974.0 1864.3,985.7 1855.5,997.4 1843.8,1009.1 1832.1,1020.8 1820.3,1032.6 1808.6,1041.4 1796.9,1048.7 1785.2,1053.1 1770.5,1054.5 1755.8,1054.5 1738.3,1051.6 1720.7,1054.5 1703.1,1057.5 1685.5,1058.9 1667.9,1058.9 1640.7,1044.3 1623.1,1035.5 1605.5,1023.8 1587.9,1015.0 1570.3,1003.3 1552.7,994.5 1535.1,987.1 1517.6,976.9 1500.0,965.2 1482.4,953.4 1464.8,941.7 1450.2,930.0 1438.4,915.3 1429.6,900.7 1417.9,889.0 1409.1,877.2 1403.3,859.6 1394.5,847.9 1391.5,836.2 1390.1,818.6 1388.6,798.1 1387.1,777.6 1384.2,760.0 1382.4,753.4 1381.5,737.6 1372.8,735.8 1365.7,718.3 1364.0,705.9 1372.8,700.7 1378.0,698.9 1374.5,691.9 1371.0,686.6 1360.4,681.3 1353.4,672.5 1344.6,658.5 1337.6,644.4 1332.3,630.3 1330.6,618.0 1330.6,605.7 1334.1,602.2 1340.2,604.0 1342.9,618.0 1342.9,633.9 1348.1,626.8 1356.0,621.5 1365.7,630.3 1378.0,637.4 1390.3,647.9 1402.6,657.6 1416.7,661.1 1432.5,662.0 1453.6,660.2 1462.4,653.2 1469.5,642.6 1476.5,630.3 1481.8,618.0 1488.8,607.5 1497.6,595.2 1504.6,582.9 1515.2,570.6 1524.0,560.0 1576.2,515.8 1593.8,507.1Z" fill="#b5ccff"/>
<path d="M1580.0,542.2 1591.7,534.9 1606.4,529.0 1624.0,526.1 1641.5,527.6 1659.1,529.0 1676.7,532.0 1694.3,539.3 1709.0,545.2 1723.6,551.0 1735.3,556.9 1741.2,565.7 1755.8,574.5 1773.4,578.9 1791.0,580.3 1811.5,586.2 1829.1,595.0 1843.8,600.8 1858.4,606.7 1870.2,615.5 1878.9,625.8 1884.8,638.9 1890.7,656.5 1896.5,674.1 1902.4,691.7 1905.3,712.2 1906.8,729.8 1905.3,741.5 1911.2,756.2 1914.1,760.0 1924.4,771.7 1928.8,786.4 1928.8,801.0 1924.4,815.7 1920.0,827.4 1921.4,845.0 1921.4,862.6 1920.0,877.2 1914.1,891.9 1905.3,906.5 1893.6,918.3 1881.9,927.1 1876.0,935.8 1870.2,947.6 1861.4,962.2 1852.6,976.9 1843.8,988.6 1835.0,1000.3 1826.2,1012.1 1814.5,1023.8 1802.7,1032.6 1791.0,1039.9 1779.3,1044.3 1767.6,1042.8 1755.8,1039.9 1744.1,1041.4 1726.5,1045.8 1709.0,1045.8 1691.4,1044.3 1673.8,1044.3 1656.2,1041.4 1638.6,1032.6 1626.9,1020.8 1618.1,1006.2 1612.2,991.5 1603.4,979.8 1585.0,976.9 1570.3,971.0 1552.7,965.2 1535.1,959.3 1517.6,953.4 1500.0,944.6 1482.4,935.8 1464.8,927.1 1450.2,915.3 1438.4,897.7 1423.8,883.1 1415.0,871.4 1406.2,850.9 1394.5,839.1 1393.9,815.0 1402.6,776.3 1404.4,753.4 1415.0,735.8 1416.7,718.3 1415.8,707.7 1407.9,702.4 1390.3,700.7 1378.0,698.9 1376.3,690.1 1393.9,681.3 1411.4,686.6 1432.5,690.1 1450.1,698.9 1460.7,700.7 1474.7,684.8 1478.3,681.3 1483.5,672.5 1490.6,663.7 1502.9,660.2 1508.1,651.4 1509.9,637.4 1513.4,625.1 1518.7,614.5 1525.7,605.7 1529.3,597.9 1538.1,589.1 1543.9,577.4 1555.7,568.6 1570.3,556.9 1585.0,545.2Z" fill="#d6eaff"/>
<path d="M1450.1,698.9 1458.9,711.2 1465.1,730.6 1473.0,736.7 1485.3,727.0 1493.2,716.5 1496.7,705.9 1495.8,700.7 1478.3,705.9 1469.5,718.3Z" fill="#b5ccff"/>
<path d="M1407.9,751.7 1415.0,746.4 1425.5,742.9 1436.1,747.3 1448.4,747.3 1449.2,753.4 1443.1,758.7 1432.5,764.9 1425.5,767.5 1418.5,765.7 1411.4,756.9Z" fill="#b5ccff"/>
<path d="M1418.5,709.5 1427.3,707.7 1430.8,718.3 1429.0,728.8 1425.5,735.8 1418.5,734.1 1415.8,723.5Z" fill="#b5ccff"/>
<path d="M1402.6,776.3 1415.0,772.8 1429.0,770.1 1429.0,776.3 1415.0,783.3 1411.4,793.9 1410.6,806.2 1415.0,813.2 1411.4,820.2 1404.4,815.0 1397.4,813.2 1400.9,788.6Z" fill="#b5ccff"/>
<path d="M1564.5,915.3 1576.2,903.6 1590.8,903.6 1605.5,909.5 1612.8,921.2 1614.3,932.9 1599.6,931.5 1582.0,928.5 1570.3,927.1Z" fill="#b5ccff"/>
<path d="M1902.4,762.0 1890.7,747.4 1896.5,750.3 1893.6,741.5 1895.1,726.9 1892.1,706.4 1887.7,685.8 1881.9,665.3 1876.0,647.7 1870.2,636.0 1862.8,633.1 1861.4,621.4 1855.5,609.6 1843.8,608.2 1835.0,614.0 1826.2,609.6 1814.5,597.9 1799.8,590.6 1785.2,589.1 1770.5,592.1 1767.6,583.3 1761.7,571.5 1752.9,574.5 1738.3,573.0 1717.7,568.6 1697.2,558.3 1676.7,549.6 1667.9,543.7 1647.4,542.2 1635.7,546.6 1624.0,555.4 1612.2,562.7 1600.5,559.8 1591.7,564.2 1580.0,567.1 1569.7,575.8 1566.2,584.6 1559.1,595.2 1553.9,605.7 1548.6,616.3 1546.8,626.8 1539.8,637.4 1538.0,651.4 1539.8,665.5 1543.3,679.6 1545.1,693.6 1536.3,705.9 1534.5,718.3 1529.2,727.0 1524.0,735.8 1527.5,744.6 1518.7,749.9 1506.4,753.4 1492.3,758.7 1478.3,764.0 1465.9,769.2 1458.9,774.5 1465.9,781.6 1458.9,786.8 1448.4,790.3 1444.8,797.4 1448.4,806.2 1453.6,811.5 1458.9,820.2 1455.4,830.8 1458.9,841.3 1469.5,844.9 1478.3,848.4 1483.5,860.0 1479.5,862.6 1478.0,874.3 1473.6,886.0 1476.5,900.7 1485.3,912.4 1500.0,924.1 1514.6,927.1 1526.4,915.3 1535.1,900.7 1541.0,883.1 1552.7,874.3 1567.4,868.4 1576.2,862.6 1582.1,850.9 1580.6,845.0 1583.5,840.6 1590.8,843.5 1594.7,847.9 1600.5,856.7 1609.3,864.0 1618.1,871.4 1626.9,872.8 1635.7,878.7 1643.0,886.0 1650.3,896.3 1654.7,906.5 1659.1,918.3 1659.7,924.1 1654.7,930.0 1648.9,932.9 1653.3,938.8 1657.7,946.1 1662.1,953.4 1666.5,962.2 1667.9,971.0 1665.0,978.3 1663.5,984.2 1659.7,985.7 1660.6,994.5 1657.7,1000.3 1653.3,1003.3 1650.3,1010.6 1651.8,1017.9 1654.7,1025.2 1656.2,1035.5 1665.0,1037.0 1679.6,1035.5 1697.2,1034.0 1709.0,1026.7 1717.7,1032.6 1732.4,1032.6 1744.1,1028.2 1755.8,1023.8 1761.7,1029.6 1767.6,1037.0 1779.3,1039.9 1791.0,1037.0 1802.7,1029.6 1811.5,1020.8 1814.5,1012.1 1817.4,1003.3 1826.2,994.5 1832.1,982.7 1835.0,971.0 1843.8,965.2 1852.6,953.4 1854.0,941.7 1861.4,932.9 1870.2,924.1 1868.7,912.4 1873.1,903.6 1890.7,905.1 1898.0,903.6 1902.4,894.8 1900.9,883.1 1908.3,868.4 1909.7,853.8 1906.8,836.2 1911.2,827.4 1918.5,818.6 1920.0,804.0 1911.2,789.3 1908.3,777.6 1903.9,760.0Z" fill="#ffead6"/>
<path d="M1558.6,935.8 1576.2,935.8 1593.8,938.8 1611.3,941.7 1628.9,940.2 1643.6,937.3 1658.2,933.5 1661.2,924.1 1670.0,935.8 1675.8,959.3 1670.0,988.6 1655.3,1017.9 1660.0,1032.6 1643.6,1025.2 1631.9,1013.5 1623.1,998.9 1617.2,984.2 1611.3,972.5 1599.6,960.8 1585.0,949.0 1570.3,941.7Z" fill="#ffead6"/>
<path d="M1524.0,621.5 1530.1,619.8 1532.8,630.3 1531.0,644.4 1527.5,658.5 1524.0,651.4 1523.1,637.4Z" fill="#ffead6"/>
<path d="M1640.7,556.9 1656.2,559.8 1667.9,567.1 1679.6,574.5 1697.2,578.9 1711.9,587.7 1726.5,583.3 1744.1,595.0 1755.8,605.2 1744.1,612.6 1755.8,621.4 1770.5,633.1 1785.2,644.8 1802.7,659.5 1823.3,665.3 1835.0,674.1 1840.8,691.7 1837.9,712.2 1829.1,723.9 1835.0,735.7 1837.9,750.3 1829.1,759.1 1811.5,762.0 1794.0,765.0 1782.2,756.2 1785.2,738.6 1794.0,723.9 1782.2,721.0 1761.7,723.9 1744.1,718.1 1732.4,703.4 1711.9,691.7 1697.2,682.9 1676.7,674.1 1656.2,677.0 1646.5,674.1 1634.8,677.0 1623.1,671.2 1611.4,662.4 1599.6,665.3 1590.8,677.0 1582.1,671.2 1570.3,659.5 1564.5,641.9 1570.3,627.2 1582.1,615.5 1579.1,597.9 1582.1,583.3 1590.8,586.2 1599.6,597.9 1611.4,595.0 1617.2,574.5 1628.9,562.7Z" fill="#ffccb5"/>
<path d="M1624.0,773.8 1638.6,750.3 1662.1,729.8 1685.5,709.3 1709.0,694.6 1732.4,703.4 1744.1,718.1 1744.1,735.7 1738.3,756.2 1755.8,773.8 1779.3,788.4 1796.9,808.9 1798.3,832.4 1791.0,850.0 1782.2,855.8 1767.6,855.8 1755.8,840.0 1744.1,823.6 1720.7,808.9 1703.1,797.2 1679.6,797.2 1656.2,808.9 1638.6,820.7 1626.9,803.1Z" fill="#ffccb5"/>
<path d="M1776.4,630.2 1785.2,625.8 1791.0,633.1 1785.2,647.7 1774.9,644.8Z" fill="#ffccb5"/>
<path d="M1802.7,633.1 1814.5,629.6 1817.4,641.9 1807.1,644.8Z" fill="#ffccb5"/>
<path d="M1820.3,641.9 1832.1,638.9 1843.8,650.7 1842.3,662.4 1829.1,659.5 1821.8,650.7Z" fill="#ffccb5"/>
<path d="M1868.7,674.1 1876.0,671.2 1878.9,691.7 1871.6,690.2Z" fill="#ffccb5"/>
<path d="M1865.8,712.2 1873.1,709.3 1884.8,729.8 1881.9,734.2 1870.2,726.9Z" fill="#ffccb5"/>
<path d="M1876.0,803.1 1881.9,797.2 1890.7,820.7 1884.8,826.5 1878.9,820.7Z" fill="#ffccb5"/>
<path d="M1597.6,583.3 1609.3,586.2 1618.1,597.9 1609.3,603.8 1599.1,597.9Z" fill="#ffead6"/>
<path d="M1659.1,571.5 1665.0,568.6 1663.5,583.3 1659.1,583.3Z" fill="#ffead6"/>
<path d="M1673.8,589.1 1684.0,586.2 1685.5,603.8 1676.7,605.2Z" fill="#ffead6"/>
<path d="M1647.4,662.4 1662.1,638.9 1667.9,644.8 1656.2,665.3Z" fill="#ffead6"/>
<path d="M1676.7,656.5 1691.4,636.0 1697.2,641.9 1682.6,662.4Z" fill="#ffead6"/>
<path d="M1703.1,668.3 1717.7,650.7 1723.6,656.5 1709.0,677.0Z" fill="#ffead6"/>
<path d="M1667.9,765.0 1691.4,744.5 1697.2,750.3 1676.7,770.8Z" fill="#ffead6"/>
<path d="M1691.4,779.6 1717.7,759.1 1723.6,765.0 1700.2,785.5Z" fill="#ffead6"/>
<path d="M1744.1,806.0 1770.5,797.2 1773.4,803.1 1750.0,811.9Z" fill="#ffead6"/>
<path d="M1752.9,817.7 1779.3,811.9 1782.2,817.7 1755.8,826.5Z" fill="#ffead6"/>
<path d="M1797.5,697.0 1805.7,696.1 1807.1,702.8 1799.2,703.4Z" fill="#ffaa84"/>
<path d="M1519.0,768.8 1532.2,764.4 1549.8,767.3 1570.3,765.9 1579.1,776.1 1564.5,782.0 1549.8,780.5 1535.1,783.4 1523.4,777.6Z" fill="#ffccb5"/>
<path d="M1500.0,874.3 1510.2,869.9 1511.7,877.2 1505.8,884.6 1500.0,880.2Z" fill="#ffccb5"/>
<path d="M1611.3,836.8 1619.6,835.6 1620.7,844.4 1612.8,845.6Z" fill="#ffccb5"/>
<path d="M1634.8,852.3 1642.1,850.9 1644.2,864.0 1637.1,866.1Z" fill="#ffccb5"/>
<path d="M1546.8,719.1 1555.6,718.3 1566.2,723.5 1576.7,728.8 1587.3,735.8 1594.3,746.4 1590.8,751.7 1582.0,744.6 1573.2,737.6 1562.7,731.4 1552.1,727.0Z" fill="#ffccb5"/>
<path d="M1538.0,746.4 1546.8,743.8 1557.4,749.9 1566.2,756.9 1573.2,764.0 1566.2,771.0 1557.4,764.0 1548.6,756.9 1539.8,752.5Z" fill="#ffccb5"/>
<path d="M1518.7,766.6 1527.5,764.0 1539.8,767.5 1552.1,771.0 1566.2,772.8 1580.2,779.8 1573.2,783.3 1559.1,782.4 1548.6,785.1 1538.0,783.3 1527.5,778.0 1520.5,772.8Z" fill="#ffccb5"/>
<path d="M1580.2,581.1 1587.3,577.6 1594.3,586.4 1601.3,595.2 1608.4,600.4 1617.2,596.9 1620.0,600.4 1620.0,658.5 1611.9,663.7 1604.9,660.2 1594.3,665.5 1590.8,676.1 1587.3,665.5 1580.2,663.7 1573.2,655.0 1566.2,644.4 1564.4,635.6 1573.2,626.8 1582.0,618.0 1583.8,605.7 1580.2,593.4Z" fill="#ffccb5"/>
<path d="M1624.0,771.7 1638.6,765.9 1656.2,760.0 1744.1,760.0 1755.8,771.7 1767.6,786.4 1785.2,792.2 1796.9,806.9 1799.8,821.5 1791.0,836.2 1785.2,850.9 1770.5,856.7 1761.7,868.4 1764.6,880.2 1750.0,871.4 1738.3,877.2 1750.0,897.7 1758.8,918.3 1744.1,912.4 1732.4,897.7 1720.7,886.0 1709.0,877.2 1697.2,865.5 1685.5,856.7 1667.9,847.9 1656.2,839.1 1644.5,827.4 1632.8,812.8 1626.9,792.2Z" fill="#ffccb5"/>
<path d="M1609.3,839.1 1618.1,835.6 1621.0,847.9 1613.7,853.8Z" fill="#ffccb5"/>
<path d="M1635.7,853.8 1643.0,852.3 1644.5,864.0 1638.0,865.5Z" fill="#ffccb5"/>
<path d="M1653.3,871.4 1660.6,869.9 1665.0,889.0 1659.1,891.9Z" fill="#ffccb5"/>
<path d="M1684.0,872.8 1694.3,875.8 1706.0,880.2 1703.1,887.5 1691.4,884.6 1685.5,883.1Z" fill="#ffccb5"/>
<path d="M1657.7,930.0 1673.8,927.1 1682.6,928.5 1688.4,941.7 1703.1,947.6 1714.8,953.4 1722.1,965.2 1723.6,976.9 1709.0,978.3 1697.2,976.9 1682.6,979.8 1670.9,978.3 1667.9,965.2 1662.1,947.6Z" fill="#ffccb5"/>
<path d="M1719.2,985.7 1726.5,978.3 1732.4,988.6 1738.3,997.4 1729.5,1003.3 1720.7,1000.3Z" fill="#ffccb5"/>
<path d="M1695.8,997.4 1706.0,991.5 1717.7,995.9 1722.1,1003.3 1717.7,1015.0 1706.0,1017.9 1698.7,1009.1Z" fill="#ffccb5"/>
<path d="M1676.7,1003.3 1685.5,1000.3 1688.4,1007.7 1679.6,1010.6Z" fill="#ffccb5"/>
<path d="M1763.2,995.9 1772.0,994.5 1773.4,1003.3 1766.1,1004.7Z" fill="#ffccb5"/>
<path d="M1876.0,804.0 1884.8,796.6 1886.3,812.8 1889.2,823.0 1881.9,827.4 1878.9,815.7Z" fill="#ffccb5"/>
<path d="M1877.5,843.5 1892.1,842.6 1893.6,847.9 1880.4,849.4Z" fill="#ffccb5"/>
<path d="M1612.2,952.0 1624.0,949.0 1638.6,947.6 1650.3,946.1 1659.1,953.4 1665.0,965.2 1667.3,974.0 1663.5,985.7 1659.7,994.5 1654.7,1003.3 1650.3,1012.1 1648.9,1022.3 1641.5,1012.1 1637.2,1000.3 1634.2,988.6 1628.4,976.9 1621.0,965.2Z" fill="#ffccb5"/>
<path d="M1667.9,777.6 1703.1,786.4 1706.0,790.8 1670.9,783.4Z" fill="#ffead6"/>
<path d="M1691.4,804.0 1732.4,815.7 1733.9,820.1 1692.8,809.8Z" fill="#ffead6"/>
<path d="M1744.1,804.0 1773.4,811.3 1774.9,815.7 1745.6,809.2Z" fill="#ffead6"/>
<path d="M1711.9,833.3 1744.1,845.0 1744.1,849.4 1711.9,839.1Z" fill="#ffead6"/>
<path d="M1624.0,954.9 1638.6,950.5 1650.3,947.6 1657.7,954.9 1662.1,965.2 1663.5,976.9 1659.1,982.7 1653.3,976.9 1644.5,971.0 1635.7,965.2Z" fill="#ffaa84"/>
<path d="M1651.8,950.5 1656.8,954.9 1661.5,965.2 1662.1,975.4 1658.5,971.0 1654.7,962.2Z" fill="#ff7842"/>
<path d="M1606.8,752.3 1591.2,674.9 1594.9,674.3Z" fill="#ffead6"/>
<path d="M1610.1,764.3 1589.6,622.2 1592.6,621.8Z" fill="#ffccb5"/>
<path d="M1612.8,781.1 1598.1,629.3 1601.8,628.9Z" fill="#ffead6"/>
<path d="M1612.8,769.4 1604.5,616.1 1609.1,615.9Z" fill="#ffead6"/>
<path d="M1613.8,749.3 1612.0,635.6 1616.2,635.6Z" fill="#ffccb5"/>
<path d="M1614.9,751.8 1614.8,727.0 1616.6,727.0Z" fill="#ffccb5"/>
<path d="M1616.0,758.2 1621.4,655.0 1624.8,655.2Z" fill="#ffccb5"/>
<path d="M1616.2,769.0 1628.0,646.2 1632.1,646.6Z" fill="#ffccb5"/>
<path d="M1616.6,773.3 1639.5,612.3 1644.7,613.2Z" fill="#ffead6"/>
<path d="M1615.4,782.8 1631.1,695.6 1633.5,696.1Z" fill="#ffead6"/>
<path d="M1623.2,749.7 1633.6,695.8 1636.8,696.6Z" fill="#ffead6"/>
<path d="M1625.7,744.0 1634.1,706.8 1636.1,707.3Z" fill="#ffead6"/>
<path d="M1618.4,775.9 1632.4,724.7 1634.4,725.3Z" fill="#ffccb5"/>
<path d="M1616.6,782.6 1644.4,693.0 1647.4,694.0Z" fill="#ffccb5"/>
<path d="M1622.8,766.8 1638.1,722.7 1639.7,723.3Z" fill="#ffead6"/>
<path d="M1628.4,756.9 1646.1,713.6 1647.5,714.1Z" fill="#ffead6"/>
<path d="M1634.5,746.6 1672.5,660.5 1675.4,661.8Z" fill="#ffead6"/>
<path d="M1633.5,751.5 1688.5,636.3 1691.6,637.9Z" fill="#ffead6"/>
<path d="M1617.8,784.0 1665.0,692.9 1667.6,694.3Z" fill="#ffead6"/>
<path d="M1630.6,764.3 1659.3,716.6 1660.3,717.3Z" fill="#ffead6"/>
<path d="M1631.3,766.3 1676.0,700.7 1677.4,701.7Z" fill="#ffead6"/>
<path d="M1619.6,783.7 1695.0,679.9 1698.0,682.2Z" fill="#ffead6"/>
<path d="M1621.6,782.0 1718.6,660.1 1722.8,663.6Z" fill="#ffccb5"/>
<path d="M1622.1,782.0 1730.0,656.7 1732.6,659.0Z" fill="#ffead6"/>
<path d="M1629.0,776.0 1739.1,659.4 1742.8,663.0Z" fill="#ffccb5"/>
<path d="M1617.9,787.6 1664.5,743.1 1665.2,743.9Z" fill="#ffead6"/>
<path d="M1645.9,764.8 1683.0,732.7 1684.2,734.0Z" fill="#ffccb5"/>
<path d="M1652.7,762.1 1691.0,731.1 1692.9,733.7Z" fill="#ffccb5"/>
<path d="M1627.5,781.8 1712.5,719.5 1714.4,722.2Z" fill="#ffead6"/>
<path d="M1633.1,779.4 1686.7,745.2 1687.4,746.3Z" fill="#ffead6"/>
<path d="M1639.9,776.4 1670.5,757.9 1671.2,759.2Z" fill="#ffead6"/>
<path d="M1643.8,775.4 1707.1,739.3 1708.9,742.5Z" fill="#ffccb5"/>
<path d="M1655.7,771.7 1735.8,731.7 1737.3,734.9Z" fill="#ffccb5"/>
<path d="M1618.3,789.7 1711.0,748.4 1712.4,751.8Z" fill="#ffead6"/>
<path d="M1660.6,774.4 1728.4,748.1 1729.3,750.5Z" fill="#ffead6"/>
<path d="M1649.6,779.6 1737.2,748.0 1738.6,752.1Z" fill="#ffead6"/>
<path d="M1647.9,782.0 1770.3,746.0 1771.3,749.4Z" fill="#ffead6"/>
<path d="M1619.0,790.5 1782.3,751.8 1783.6,757.5Z" fill="#ffccb5"/>
<path d="M1618.2,790.8 1674.6,780.4 1674.8,781.7Z" fill="#ffccb5"/>
<path d="M1657.7,785.3 1684.6,780.2 1684.9,782.6Z" fill="#ffead6"/>
<path d="M1638.9,789.3 1723.6,780.3 1723.9,782.9Z" fill="#ffead6"/>
<path d="M1645.3,790.2 1741.0,784.8 1741.0,786.7Z" fill="#ffead6"/>
<path d="M1646.0,791.5 1703.6,790.3 1703.6,792.4Z" fill="#ffead6"/>
<path d="M1624.3,792.2 1706.9,795.8 1706.8,797.8Z" fill="#ffead6"/>
<path d="M1637.9,794.1 1740.6,802.9 1740.2,806.5Z" fill="#ffead6"/>
<path d="M1637.2,795.4 1715.0,807.1 1714.7,808.9Z" fill="#ffead6"/>
<path d="M1643.8,798.2 1788.9,827.8 1788.0,831.6Z" fill="#ffccb5"/>
<path d="M1657.5,802.9 1689.2,810.2 1688.7,811.8Z" fill="#ffccb5"/>
<path d="M1622.5,794.1 1679.7,809.4 1679.1,811.5Z" fill="#ffead6"/>
<path d="M1640.2,800.4 1785.4,846.8 1784.1,850.6Z" fill="#ffccb5"/>
<path d="M1620.6,794.3 1757.0,845.6 1755.7,848.9Z" fill="#ffead6"/>
<path d="M1629.3,798.2 1774.5,856.7 1772.6,861.3Z" fill="#ffead6"/>
<path d="M1623.0,795.9 1744.9,851.9 1744.1,853.7Z" fill="#ffead6"/>
<path d="M1623.0,796.4 1670.1,820.2 1669.5,821.3Z" fill="#ffead6"/>
<path d="M1638.7,805.5 1738.2,859.5 1737.1,861.5Z" fill="#ffccb5"/>
<path d="M1624.9,798.6 1706.2,847.3 1704.6,849.9Z" fill="#ffead6"/>
<path d="M1637.3,807.7 1683.1,837.5 1681.7,839.5Z" fill="#ffead6"/>
<path d="M1652.2,819.5 1686.8,843.1 1685.5,844.9Z" fill="#ffead6"/>
<path d="M1645.4,816.7 1763.6,907.7 1761.0,911.0Z" fill="#ffccb5"/>
<path d="M1632.3,808.1 1667.4,838.6 1666.6,839.5Z" fill="#ffccb5"/>
<path d="M1638.0,815.4 1742.6,914.8 1739.4,918.1Z" fill="#ffccb5"/>
<path d="M1636.9,816.4 1728.8,911.9 1725.9,914.6Z" fill="#ffead6"/>
<path d="M1643.6,825.8 1716.0,906.5 1713.8,908.4Z" fill="#ffead6"/>
<path d="M1642.4,828.7 1730.6,937.7 1725.5,941.6Z" fill="#ffead6"/>
<path d="M1618.3,797.9 1704.4,915.3 1701.8,917.2Z" fill="#ffead6"/>
<path d="M1616.6,796.0 1687.2,900.7 1684.5,902.4Z" fill="#ffead6"/>
<path d="M1623.5,808.4 1648.5,850.4 1647.5,851.0Z" fill="#ffead6"/>
<path d="M1634.4,832.0 1650.5,860.7 1648.1,861.9Z" fill="#ffccb5"/>
<path d="M1624.8,815.9 1677.5,925.3 1672.9,927.4Z" fill="#ffccb5"/>
<path d="M1624.4,819.3 1640.1,857.7 1638.6,858.3Z" fill="#ffccb5"/>
<path d="M1579.5,562.7 1581.0,567.1 1577.2,559.8 1572.8,559.2 1568.4,564.2 1565.5,567.1 1568.4,573.0 1566.9,578.9 1562.5,584.7 1556.7,589.1 1550.8,596.4 1545.0,606.7 1540.6,614.0 1537.6,619.9 1539.1,625.8 1536.2,633.1 1534.7,644.8 1531.8,655.1 1528.2,662.4 1527.4,671.2 1527.4,681.4 1523.0,688.8 1515.6,694.6 1508.3,699.0 1496.6,702.8 1484.9,706.4 1476.1,710.8 1470.2,719.5 1465.8,729.8 1461.4,721.0 1457.0,710.8 1451.2,706.4 1448.2,699.0 1442.4,696.1 1436.5,690.2 1432.1,687.3 1427.7,688.8 1423.3,684.4 1417.5,684.4 1411.6,680.0 1405.7,679.4 1398.4,677.0 1391.1,674.1 1380.8,672.6 1376.4,677.0 1375.0,681.4 1370.6,680.0 1366.2,677.0 1361.8,671.2 1356.5,669.7 1354.5,663.9 1350.1,662.4 1351.5,658.0 1347.1,655.1 1342.7,647.7 1338.9,638.9 1336.3,630.2 1335.4,622.8 1342.7,618.4 1339.8,615.5 1335.4,615.5 1334.8,608.2 1338.9,606.7 1340.1,600.3 1332.5,600.8 1332.5,608.2 1330.4,611.1 1329.5,621.4 1329.5,630.2 1331.0,638.9 1329.5,643.3 1325.1,641.9 1323.7,646.3 1328.1,653.6 1332.5,650.7 1335.4,656.5 1338.3,662.4 1342.7,668.3 1347.1,674.1 1351.5,678.5 1353.0,681.4 1347.1,681.4 1343.6,682.9 1345.7,688.8 1350.1,693.2 1353.0,688.8 1354.5,684.4 1358.8,684.4 1363.2,687.3 1369.1,690.2 1373.5,691.7 1375.0,696.1 1377.9,700.5 1385.2,700.5 1394.0,702.0 1402.8,703.4 1410.1,706.4 1416.0,710.8 1418.9,716.6 1417.5,729.8 1416.9,738.6 1411.6,734.2 1405.7,738.6 1401.3,745.9 1399.9,750.3 1408.7,751.8 1404.3,759.1 1402.8,767.9 1404.3,771.7 1401.3,789.3 1398.4,804.0 1395.5,814.2 1391.1,815.7 1389.0,820.1 1391.1,827.4 1392.6,836.2 1396.9,833.3 1399.9,825.9 1402.8,818.6 1408.7,815.7 1413.1,817.2 1408.7,823.0 1405.7,830.3 1404.3,837.7 1408.7,834.7 1414.5,831.8 1420.4,830.3 1424.8,825.9 1429.8,825.1 1428.6,836.2 1432.1,845.0 1436.5,850.9 1438.0,856.7 1433.6,855.3 1429.2,853.8 1424.8,856.7 1427.7,859.6 1433.6,858.2 1430.7,864.0 1425.7,867.0 1430.7,870.8 1438.0,867.0 1443.8,865.5 1448.2,871.4 1448.2,877.2 1443.8,883.1 1438.0,884.6 1433.6,886.0 1435.0,891.9 1440.9,894.8 1442.4,900.7 1438.0,905.1 1440.9,909.5 1445.3,905.1 1452.6,903.6 1461.4,903.6 1468.8,900.7 1475.5,897.7 1476.1,906.5 1476.1,918.3 1479.0,927.1 1484.9,929.4 1493.7,930.6 1499.5,930.0 1501.0,933.5 1508.3,935.3 1517.1,938.8 1521.5,931.5 1525.9,925.6 1533.2,923.5 1540.6,925.6 1545.0,931.5 1546.4,937.3 1550.8,941.7 1556.7,940.2 1556.7,932.9 1552.3,928.5 1553.7,925.6 1559.6,924.1 1558.1,915.3 1555.2,903.6 1552.3,893.4 1549.4,889.0 1556.7,887.5 1566.9,889.0 1569.9,883.1 1574.3,871.4 1578.7,859.6 1581.6,850.9 1580.1,845.0 1583.1,840.6 1590.4,843.5 1594.2,847.9 1600.1,856.7 1608.9,864.0 1617.7,871.4 1626.4,872.8 1635.2,878.7 1642.6,886.0 1649.9,896.3 1654.3,906.5 1658.7,918.3 1659.3,924.1 1654.3,930.0 1648.4,932.9 1652.8,938.8 1657.2,946.1 1661.6,953.4 1666.0,962.2 1667.5,971.0 1664.5,978.3 1663.1,984.2 1659.3,985.7 1660.1,994.5 1657.2,1000.3 1652.8,1003.3 1649.9,1010.6 1651.4,1017.9 1654.3,1022.3 1652.8,1025.2 1649.9,1019.4 1658.7,1023.8 1666.0,1027.3 1673.3,1029.6 1683.6,1026.1 1685.1,1032.0 1688.0,1020.8 1692.4,1025.2 1696.8,1034.0 1708.5,1035.5 1717.3,1035.5 1719.6,1029.1 1724.6,1031.1 1730.5,1035.5 1737.8,1031.1 1742.2,1027.3 1745.1,1029.6 1752.5,1027.3 1758.3,1022.3 1764.2,1021.4 1771.5,1027.3 1778.8,1022.3 1783.2,1027.3 1788.2,1027.3 1790.0,1022.3 1793.5,1023.2 1802.3,1018.5 1814.0,1012.6 1819.9,1009.1 1827.2,1006.2 1833.1,1000.3 1840.4,994.5 1841.9,988.6 1837.5,984.2 1834.5,976.9 1838.9,975.4 1846.3,975.4 1852.1,972.5 1855.0,963.7 1854.5,957.8 1858.0,952.8 1863.3,952.0 1865.3,941.7 1869.7,932.9 1875.6,927.1 1884.4,921.2 1891.7,918.3 1894.6,912.4 1895.5,900.7 1890.2,894.8 1888.8,889.0 1893.1,886.0 1897.5,878.7 1904.9,871.4 1909.3,862.6 1910.1,853.8 1907.8,845.0 1904.9,840.0 1906.3,832.4 1908.4,820.7 1909.3,806.0 1907.8,791.3 1905.5,776.7 1901.9,765.0 1897.5,756.2 1890.2,748.9 1884.4,743.0 1878.5,738.6 1871.2,738.6 1865.3,732.7 1859.4,729.8 1856.5,721.0 1852.1,716.6 1846.8,710.8 1844.8,716.6 1842.7,712.2 1846.8,707.8 1853.6,704.9 1860.9,705.8 1865.3,699.0 1871.2,697.6 1876.2,694.6 1872.6,688.8 1869.7,680.0 1868.2,671.2 1863.8,662.4 1860.9,653.6 1858.0,647.7 1856.5,641.9 1858.0,633.1 1855.0,631.6 1862.4,630.7 1862.4,619.9 1859.4,612.6 1853.6,607.3 1843.3,605.2 1836.0,607.3 1828.7,614.0 1825.2,614.0 1827.2,608.2 1822.8,605.2 1816.9,599.4 1811.1,595.0 1802.3,590.6 1793.5,589.1 1784.7,590.6 1777.4,595.0 1769.5,598.5 1771.5,593.5 1767.1,589.1 1764.8,580.3 1764.8,570.9 1759.8,571.5 1755.4,578.9 1751.0,574.5 1740.7,573.0 1732.0,571.5 1720.2,568.6 1710.0,570.1 1702.6,567.1 1690.9,561.3 1679.2,555.4 1667.5,551.0 1655.7,548.1 1646.1,546.0 1634.3,549.6 1625.6,554.0 1616.8,559.8 1612.4,561.9 1608.0,555.4 1607.4,548.1 1602.7,546.6 1599.2,549.6 1600.1,558.3 1590.4,559.2 1588.9,555.4 1583.1,555.4 1581.6,562.7ZM1364.1,704.3 1379.4,703.4 1394.0,705.5 1404.3,709.9 1410.1,716.6 1411.0,723.9 1406.6,730.7 1400.5,733.3 1394.0,735.7 1389.6,738.6 1385.2,735.1 1387.6,728.3 1391.1,721.0 1390.5,715.7 1383.8,712.8 1375.0,711.6 1367.1,710.8ZM1370.0,723.9 1375.8,721.0 1379.9,728.3 1377.9,734.2 1371.2,729.8ZM1313.4,602.3 1316.3,603.8 1315.5,612.6 1316.3,621.4 1314.0,626.6 1311.4,625.8 1312.0,615.5 1311.1,608.2ZM1574.3,908.0 1578.1,912.4 1577.2,921.2 1573.4,927.6 1569.9,924.1 1570.5,915.3ZM1523.0,935.3 1528.2,932.9 1531.8,937.3 1524.4,939.4ZM1641.7,946.1 1649.9,942.3 1651.4,949.9 1644.6,949.0ZM1203.5,615.5 1206.4,628.7 1200.6,633.1 1203.5,638.9 1196.2,641.9 1192.4,646.3" fill="none" stroke="#000" stroke-width="3.8" stroke-linejoin="round" stroke-linecap="round"/>
<path d="M1343.3,532.0 1353.0,529.0 1347.1,537.0Z" fill="#000" stroke="#000" stroke-width="1"/>
</g>
<circle cx="1613.7" cy="791.6" r="446.5" fill="none" stroke="#000" stroke-width="2.6"/>
<g clip-path="url(#clip3)">
<rect x="625.4000000000001" y="1789.6" width="897.0" height="897.0" fill="#d6eaff"/>
<path d="M779.7,1901.8 779.7,1917.9 776.8,1938.4 772.4,1956.0 766.5,1973.6 760.7,1991.2 756.3,2008.7 753.4,2026.3 751.9,2043.9 750.4,2061.5 749.0,2079.1 749.0,2096.7 749.2,2100.0 749.2,2117.6 748.4,2135.2 747.5,2151.0 743.1,2166.8 739.6,2180.9 736.1,2195.0 732.5,2209.0 729.0,2223.1 726.4,2237.2 727.3,2251.2 723.7,2265.3 720.2,2279.4 718.5,2293.4 716.7,2307.5 715.0,2323.3 716.7,2337.4 715.8,2351.5 718.5,2365.5 720.2,2379.6 719.3,2390.1 720.2,2400.0 721.1,2401.1 724.0,2418.7 727.0,2436.3 732.8,2453.8 735.8,2471.4 740.2,2489.0 746.0,2503.7 750.4,2518.3 757.7,2533.0 766.5,2544.7 775.3,2559.4 785.6,2571.1 795.8,2582.8 807.6,2591.6 822.2,2600.4 836.9,2606.2 854.5,2609.2 872.1,2610.6 889.6,2609.2 907.2,2607.7 924.8,2603.3 942.4,2600.4 960.0,2598.9 977.6,2597.5 998.1,2594.5 1018.6,2596.0 1039.1,2593.1 1059.6,2591.6 1080.1,2588.7 1100.7,2587.2 1127.9,2584.3 1148.4,2587.2 1169.0,2585.7 1192.4,2585.7 1212.9,2582.8 1230.5,2576.9 1251.0,2571.1 1268.6,2562.3 1277.4,2550.6 1289.1,2538.8 1303.8,2530.0 1321.4,2521.3 1338.9,2512.5 1356.5,2503.7 1374.1,2494.9 1388.8,2486.1 1403.4,2477.3 1418.1,2468.5 1429.8,2459.7 1441.5,2450.9 1453.2,2439.2 1465.0,2427.5 1473.8,2415.7 1482.6,2404.0 1491.3,2392.3 1500.1,2371.8 1538.2,2339.5 1596.9,2749.9 532.1,2749.9 532.1,1873.9 779.7,1873.9Z" fill="#ffead6"/>
<path d="M741.6,1944.3 735.8,1967.7 729.9,1988.2 724.9,2004.3 724.0,2020.5 723.2,2041.0 722.6,2061.5 725.5,2079.1 727.0,2096.7 727.3,2100.0 726.4,2117.6 725.5,2135.2 722.9,2149.2 718.5,2163.3 713.2,2173.9 711.4,2187.9 714.1,2205.5 713.2,2219.6 709.7,2233.6 706.2,2247.7 701.8,2261.8 697.4,2274.1 692.1,2286.4 687.7,2298.7 684.2,2312.8 682.4,2326.8 682.4,2340.9 684.2,2355.0 685.9,2369.0 683.3,2383.1 681.5,2400.0 687.4,2409.9 691.8,2427.5 694.7,2445.1 699.1,2462.6 703.5,2474.4 678.6,2486.1 532.1,2456.8 532.1,1903.2 741.6,1917.9Z" fill="#ffccb5"/>
<path d="M854.5,2650.2 883.8,2631.2 901.4,2635.6 918.9,2638.5 936.5,2632.6 954.1,2629.7 971.7,2628.2 989.3,2625.3 1009.8,2623.8 1030.3,2620.9 1053.8,2619.4 1077.2,2615.0 1100.7,2610.6 1127.9,2607.7 1151.4,2609.2 1169.0,2607.7 1186.5,2603.3 1204.1,2603.3 1221.7,2598.9 1239.3,2594.5 1256.9,2587.2 1274.5,2579.9 1292.1,2571.1 1303.8,2559.4 1318.4,2547.6 1336.0,2538.8 1350.7,2530.0 1365.3,2524.2 1382.9,2515.4 1400.5,2503.7 1418.1,2494.9 1432.7,2486.1 1445.9,2474.4 1479.6,2456.8 1538.2,2749.9 825.2,2749.9Z" fill="#ffccb5"/>
<path d="M649.3,2043.9 668.4,2060.0 688.9,2071.8 696.8,2084.9 696.5,2100.0 695.6,2114.1 694.7,2129.9 691.2,2144.0 687.7,2159.8 685.9,2173.9 686.8,2187.9 687.7,2202.0 685.9,2216.1 682.4,2230.1 678.0,2245.9 672.8,2258.3 670.1,2267.0 665.7,2282.9 662.2,2295.2 657.8,2309.2 653.4,2323.3 652.5,2337.4 651.7,2351.5 653.4,2365.5 655.2,2379.6 657.8,2395.4 664.0,2409.9 532.1,2398.2 532.1,2020.5Z" fill="#ffaa84"/>
<path d="M957.0,2691.2 984.9,2672.2 998.1,2659.0 1012.7,2653.1 1030.3,2650.2 1053.8,2647.3 1077.2,2642.9 1100.7,2638.5 1127.9,2635.6 1151.4,2640.0 1171.9,2641.4 1192.4,2638.5 1210.0,2635.6 1230.5,2626.8 1251.0,2620.9 1274.5,2612.1 1297.9,2603.3 1315.5,2594.5 1333.1,2579.9 1341.9,2565.2 1353.6,2556.4 1368.3,2547.6 1385.8,2538.8 1403.4,2530.0 1418.1,2522.7 1450.3,2515.4 1479.6,2749.9 942.4,2749.9Z" fill="#ffaa84"/>
<path d="M643.4,2093.7 650.8,2095.2 656.6,2104.0 652.2,2112.8 643.4,2114.3Z" fill="#ff7842"/>
<path d="M628.8,2153.8 636.1,2155.3 638.2,2162.6 630.3,2165.5Z" fill="#ff7842"/>
<path d="M829.6,1865.1 826.6,1882.7 822.2,1903.2 816.4,1920.8 807.6,1938.4 798.8,1953.1 792.9,1967.7 788.5,1985.3 785.6,2002.9 787.1,2020.5 784.1,2035.1 775.3,2043.9 770.9,2058.6 769.5,2079.1 766.5,2096.7 762.4,2100.0 765.9,2114.1 769.5,2129.9 771.2,2145.7 769.5,2161.5 765.9,2175.6 760.7,2189.7 757.2,2203.7 753.6,2219.6 751.0,2235.4 749.2,2251.2 747.5,2267.0 750.1,2281.1 748.4,2295.2 745.7,2311.0 746.6,2326.8 748.4,2340.9 751.0,2355.0 752.8,2369.0 755.4,2383.1 756.3,2400.0 760.7,2412.8 766.5,2430.4 769.5,2448.0 775.3,2465.6 781.2,2483.2 790.0,2497.8 795.8,2512.5 807.6,2527.1 819.3,2541.8 831.0,2556.4 842.7,2568.1 857.4,2576.9 869.1,2585.7 883.8,2588.7 901.4,2585.7 918.9,2582.8 936.5,2581.3 954.1,2582.8 971.7,2581.3 992.2,2579.9 1012.7,2579.9 1030.3,2581.3 1045.0,2578.4 1062.6,2574.0 1083.1,2571.1 1100.7,2569.6 1127.9,2568.1 1151.4,2568.1 1171.9,2565.2 1192.4,2559.4 1210.0,2556.4 1227.6,2550.6 1242.2,2538.8 1254.0,2527.1 1268.6,2515.4 1286.2,2506.6 1303.8,2497.8 1321.4,2489.0 1338.9,2480.2 1356.5,2471.4 1371.2,2462.6 1388.8,2453.8 1403.4,2442.1 1418.1,2430.4 1432.7,2418.7 1444.5,2404.0 1456.2,2392.3 1465.0,2377.6 1473.8,2363.0 1482.6,2345.4 1488.4,2327.8 1494.3,2310.2 1500.1,2289.7 1503.1,2269.2 1506.0,2251.6 1508.9,2231.1 1508.9,2210.6 1508.9,2187.5 1506.0,2175.8 1500.1,2155.3 1494.3,2134.8 1485.5,2117.2 1479.6,2099.6 1473.8,2079.1 1465.0,2058.6 1456.2,2038.1 1447.4,2017.5 1435.7,1997.0 1426.9,1976.5 1418.1,1958.9 1450.3,1873.9 1215.8,1698.1 795.8,1698.1Z" fill="#b5ccff"/>
<path d="M863.3,1844.6 857.4,1862.2 854.5,1879.8 845.7,1894.4 836.9,1909.1 831.0,1923.7 822.2,1941.3 816.4,1956.0 810.5,1973.6 807.6,1991.2 804.6,2008.7 807.6,2026.3 810.5,2041.0 807.6,2049.8 798.8,2052.7 788.5,2049.8 779.7,2064.4 776.8,2079.1 779.7,2096.7 777.4,2100.0 782.7,2114.1 786.2,2129.9 787.9,2145.7 789.7,2161.5 791.4,2175.6 791.4,2191.4 789.7,2205.5 787.9,2214.3 794.1,2226.6 791.4,2240.7 788.8,2254.7 790.6,2268.8 791.4,2282.9 787.9,2295.2 783.5,2307.5 780.0,2321.6 779.1,2335.6 780.9,2349.7 783.5,2363.8 785.3,2377.8 787.0,2390.1 787.9,2400.0 792.9,2404.0 795.8,2424.5 798.8,2442.1 801.7,2459.7 810.5,2474.4 819.3,2489.0 828.1,2500.7 839.8,2512.5 851.5,2524.2 866.2,2533.0 880.8,2541.8 889.6,2556.4 907.2,2559.4 924.8,2557.9 942.4,2559.4 960.0,2562.3 977.6,2563.8 995.1,2562.3 1012.7,2563.8 1030.3,2563.8 1047.9,2562.3 1065.5,2559.4 1083.1,2556.4 1100.7,2553.5 1127.9,2550.6 1145.5,2550.6 1163.1,2552.0 1180.7,2547.6 1198.3,2541.8 1212.9,2535.9 1227.6,2527.1 1239.3,2515.4 1251.0,2503.7 1265.7,2494.9 1283.3,2486.1 1300.8,2477.3 1318.4,2468.5 1333.1,2459.7 1350.7,2448.0 1365.3,2439.2 1380.0,2427.5 1394.6,2415.7 1409.3,2404.0 1421.0,2389.4 1432.7,2377.6 1444.5,2363.0 1453.2,2348.3 1462.0,2330.7 1470.8,2313.2 1476.7,2295.6 1479.6,2278.0 1481.1,2260.4 1479.6,2242.8 1481.1,2225.2 1482.6,2207.7 1482.6,2181.7 1476.7,2164.1 1470.8,2143.6 1462.0,2126.0 1456.2,2108.4 1450.3,2090.8 1441.5,2073.2 1429.8,2055.6 1421.0,2038.1 1409.3,2020.5 1397.6,2002.9 1385.8,1982.4 1374.1,1967.7 1362.4,1953.1 1350.7,1938.4 1336.0,1926.7 1321.4,1915.0 1309.6,1900.3 1295.0,1882.7 1280.3,1865.1 1268.6,1850.5 1258.3,1831.4 1245.2,1727.4 854.5,1727.4Z" fill="#84aaff"/>
<path d="M880.8,1834.4 877.9,1850.5 869.1,1871.0 860.3,1888.6 851.5,1906.2 845.7,1923.7 838.3,1941.3 831.0,1958.9 825.2,1976.5 822.2,1994.1 819.3,2011.7 822.2,2029.3 825.2,2043.9 819.3,2058.6 807.6,2067.4 801.7,2070.3 782.7,2067.4 781.2,2082.0 784.1,2099.6 790.0,2117.2 795.8,2134.8 801.7,2152.4 807.6,2169.9 810.5,2187.5 810.5,2193.0 812.0,2210.6 813.4,2228.2 819.3,2245.8 828.1,2266.3 831.0,2275.1 836.9,2289.7 831.0,2310.2 825.2,2324.9 820.8,2342.5 825.2,2357.1 829.6,2374.7 835.4,2392.3 831.0,2409.9 836.9,2427.5 841.3,2442.1 838.3,2453.8 845.7,2465.6 854.5,2477.3 863.3,2489.0 875.0,2497.8 889.6,2506.6 904.3,2515.4 921.9,2521.3 939.5,2524.2 957.0,2530.0 974.6,2541.8 995.1,2544.7 1015.7,2543.2 1036.2,2541.8 1053.8,2540.3 1071.3,2535.9 1088.9,2533.0 1106.5,2530.0 1125.0,2533.0 1142.6,2534.4 1160.2,2534.4 1177.7,2530.0 1195.3,2524.2 1210.0,2515.4 1221.7,2503.7 1233.4,2491.9 1245.2,2483.2 1259.8,2474.4 1274.5,2468.5 1289.1,2459.7 1303.8,2450.9 1318.4,2442.1 1333.1,2433.3 1347.7,2421.6 1362.4,2409.9 1377.0,2398.2 1391.7,2383.5 1403.4,2371.8 1415.1,2357.1 1426.9,2345.4 1435.7,2330.7 1444.5,2316.1 1453.2,2301.4 1459.1,2283.9 1462.0,2266.3 1460.6,2248.7 1459.1,2231.1 1462.0,2213.5 1459.1,2175.8 1453.2,2155.3 1444.5,2137.7 1438.6,2117.2 1432.7,2099.6 1423.9,2082.0 1415.1,2064.4 1403.4,2046.8 1391.7,2029.3 1382.9,2011.7 1371.2,1994.1 1359.5,1979.4 1347.7,1967.7 1336.0,1953.1 1324.3,1938.4 1312.6,1923.7 1297.9,1909.1 1283.3,1897.4 1271.5,1882.7 1256.9,1868.1 1245.2,1853.4 1230.5,1840.2 1210.0,1830.0 1192.4,1821.2 1174.8,1810.9 1157.2,1805.1 1127.9,1802.1 1098.6,1803.6 1069.3,1806.5 1040.0,1808.0 1009.8,1809.4 971.7,1815.3 927.7,1824.1 898.4,1830.0Z" fill="#4278ff"/>
<path d="M1088.9,1822.6 1059.6,1827.0 1030.3,1832.9 1001.0,1841.7 971.7,1850.5 942.4,1862.2 918.9,1873.9 901.4,1885.6 886.7,1903.2 875.0,1920.8 866.2,1938.4 857.4,1956.0 848.6,1976.5 842.7,1997.0 839.8,2017.5 838.3,2035.1 836.9,2049.8 831.0,2064.4 822.2,2079.1 825.2,2096.7 836.9,2108.4 854.5,2117.2 872.1,2126.0 889.6,2137.7 913.1,2167.0 913.1,2324.9 869.1,2363.0 863.3,2374.7 860.3,2392.3 866.2,2409.9 875.0,2424.5 886.7,2436.3 895.5,2445.1 889.6,2453.8 898.4,2465.6 907.2,2474.4 918.9,2483.2 930.7,2491.9 942.4,2500.7 957.0,2506.6 971.7,2512.5 989.3,2518.3 1001.0,2527.1 1018.6,2527.1 1036.2,2525.6 1053.8,2522.7 1071.3,2518.3 1088.9,2513.9 1106.5,2509.5 1119.1,2516.9 1139.6,2516.9 1157.2,2515.4 1174.8,2512.5 1192.4,2508.1 1207.1,2500.7 1221.7,2491.9 1233.4,2483.2 1239.3,2474.4 1251.0,2468.5 1265.7,2462.6 1280.3,2456.8 1295.0,2448.0 1309.6,2439.2 1324.3,2427.5 1338.9,2418.7 1353.6,2407.0 1365.3,2395.2 1377.0,2380.6 1388.8,2368.8 1400.5,2357.1 1412.2,2339.5 1421.0,2327.8 1429.8,2313.2 1435.7,2298.5 1438.6,2280.9 1440.1,2263.3 1438.6,2245.8 1440.1,2228.2 1440.1,2210.6 1441.5,2193.4 1435.7,2172.9 1429.8,2152.4 1421.0,2134.8 1415.1,2114.3 1406.4,2096.7 1397.6,2079.1 1388.8,2061.5 1377.0,2043.9 1365.3,2026.3 1353.6,2008.7 1341.9,1991.2 1330.2,1979.4 1318.4,1964.8 1306.7,1950.1 1295.0,1938.4 1280.3,1923.7 1268.6,1909.1 1254.0,1897.4 1242.2,1882.7 1230.5,1868.1 1215.8,1856.3 1198.3,1849.0 1177.7,1841.7 1157.2,1830.0 1133.8,1822.6 1110.3,1821.2 1086.9,1824.1 1063.4,1825.6 1040.0,1824.1Z" fill="#1b53ff"/>
<path d="M785.6,2082.0 790.0,2102.5 795.8,2120.1 801.7,2137.7 810.5,2155.3 819.3,2172.9 825.2,2190.5 826.6,2208.0 823.7,2225.6 825.2,2243.2 829.6,2266.7 831.0,2286.0 832.5,2313.5 835.4,2328.2 842.7,2313.5 839.8,2286.0 838.3,2254.9 842.7,2225.6 851.5,2196.3 869.1,2181.7 877.9,2167.0 872.1,2152.4 842.7,2146.5 825.2,2126.0 810.5,2108.4 798.8,2093.7 792.9,2079.1Z" fill="#1b53ff"/>
<path d="M926.3,2172.9 921.9,2155.3 916.0,2140.6 918.9,2126.0 916.0,2111.3 901.4,2102.5 883.8,2093.7 869.1,2087.9 860.3,2079.1 857.4,2064.4 858.9,2046.8 863.3,2029.3 869.1,2011.7 875.0,1994.1 880.8,1976.5 883.8,1958.9 892.6,1944.3 904.3,1929.6 918.9,1917.9 936.5,1909.1 957.0,1903.2 977.6,1894.4 1001.0,1885.6 1024.5,1876.9 1047.9,1868.1 1071.3,1860.7 1094.8,1856.3 1120.0,1857.8 1133.8,1859.3 1151.4,1863.7 1169.0,1868.1 1186.5,1872.5 1204.1,1879.8 1215.8,1888.6 1221.7,1903.2 1233.4,1915.0 1245.2,1926.7 1256.9,1941.3 1265.7,1956.0 1271.5,1970.6 1274.5,1985.3 1283.3,1997.0 1297.9,2002.9 1312.6,2011.7 1327.2,2023.4 1338.9,2038.1 1347.7,2055.6 1352.1,2070.3 1350.7,2082.0 1359.5,2090.8 1371.2,2105.5 1380.0,2120.1 1385.8,2137.7 1391.7,2155.3 1400.5,2172.9 1409.3,2190.5 1416.6,2289.7 1412.2,2304.4 1406.4,2310.2 1397.6,2316.1 1385.8,2319.0 1377.0,2327.8 1374.1,2342.5 1362.4,2345.4 1356.5,2351.3 1333.1,2310.2 1157.2,2108.4 1059.6,2108.4 1001.0,2167.0Z" fill="#0030e1"/>
<path d="M930.7,2424.5 939.5,2417.2 951.2,2424.5 965.8,2420.1 983.4,2418.7 992.2,2427.5 998.1,2439.2 1009.8,2445.1 1021.5,2453.8 1033.2,2465.6 1045.0,2474.4 1056.7,2486.1 1059.6,2497.8 1047.9,2500.7 1030.3,2503.7 1012.7,2500.7 998.1,2494.9 986.4,2486.1 971.7,2477.3 957.0,2474.4 948.3,2462.6 946.8,2448.0 951.2,2436.3 942.4,2430.4 933.6,2433.3Z" fill="#0030e1"/>
<path d="M1072.2,2496.3 1086.9,2491.9 1107.4,2489.0 1127.9,2486.1 1148.4,2487.5 1169.0,2489.0 1189.5,2486.1 1204.1,2489.0 1215.8,2497.8 1218.8,2509.5 1210.0,2518.3 1195.3,2524.2 1177.7,2527.1 1160.2,2530.0 1142.6,2531.5 1125.0,2530.0 1107.4,2527.1 1092.8,2521.3 1081.0,2512.5 1075.2,2503.7Z" fill="#0030e1"/>
<path d="M1328.7,2383.5 1344.8,2382.0 1343.3,2395.2 1334.5,2411.3 1322.8,2427.5 1312.6,2439.2 1302.3,2448.0 1297.9,2442.1 1305.2,2427.5 1314.0,2411.3 1319.9,2396.7Z" fill="#0030e1"/>
<path d="M1193.9,1992.6 1204.1,1987.6 1221.7,1989.7 1234.9,1995.6 1240.8,2005.8 1233.4,2013.1 1215.8,2011.7 1201.2,2007.3Z" fill="#001eb9"/>
<path d="M1242.2,2011.7 1256.9,2016.1 1270.1,2023.4 1267.1,2029.3 1251.0,2023.4Z" fill="#001eb9"/>
<path d="M1274.5,2023.4 1289.1,2026.3 1303.8,2035.1 1315.5,2043.9 1309.6,2048.3 1292.1,2041.0 1277.4,2032.2Z" fill="#001eb9"/>
<path d="M1362.4,2175.8 1374.1,2181.7 1384.4,2196.3 1388.8,2211.0 1385.8,2225.6 1377.0,2219.8 1368.3,2205.1 1362.4,2190.5Z" fill="#001eb9"/>
<path d="M1360.9,2193.0 1387.3,2193.0 1387.3,2207.7 1380.0,2225.2 1371.2,2216.4 1365.3,2204.7Z" fill="#001eb9"/>
<path d="M780.0,2075.6 787.0,2087.9 794.1,2103.7 799.3,2119.6 804.6,2135.4 808.1,2151.2 811.7,2167.0 816.9,2181.1 825.7,2191.7 838.0,2196.9 853.9,2198.7 864.4,2198.7 871.4,2175.8 867.9,2149.5 832.8,2137.2 806.4,2114.3 790.6,2084.4Z" fill="#1b53ff"/>
<path d="M783.5,2084.4 790.6,2091.4 797.6,2105.5 802.9,2119.6 809.9,2133.6 815.2,2149.5 818.7,2163.5 825.7,2177.6 836.3,2186.4 850.3,2189.9 862.6,2191.7 871.4,2175.8 867.9,2149.5 832.8,2137.2 806.4,2114.3 792.3,2087.9Z" fill="#0030e1"/>
<path d="M824.0,2154.7 832.8,2151.2 846.8,2153.0 857.4,2158.3 866.2,2165.3 867.9,2175.8 857.4,2182.9 846.8,2184.6 834.5,2181.1 827.5,2172.3Z" fill="#001eb9"/>
<path d="M809.9,2191.4 810.8,2205.5 809.0,2219.6 811.7,2233.6 815.2,2247.7 824.0,2261.8 830.1,2275.0 836.3,2258.3 841.6,2244.2 846.8,2230.1 848.6,2219.6 853.9,2205.5 848.6,2195.0 831.0,2191.4Z" fill="#4278ff"/>
<path d="M824.0,2198.5 836.3,2205.5 832.8,2219.6 829.2,2233.6 825.7,2238.9 823.1,2226.6 822.2,2212.5Z" fill="#1b53ff"/>
<path d="M836.3,2284.6 846.8,2282.9 854.7,2282.9 853.9,2291.7 846.8,2295.2 839.8,2293.4Z" fill="#4278ff"/>
<path d="M846.8,2219.6 853.9,2212.5 860.9,2216.1 860.0,2233.6 857.4,2251.2 853.9,2263.5 846.8,2258.3 845.1,2240.7Z" fill="#b5ccff"/>
<path d="M849.5,2233.6 853.0,2230.1 854.7,2240.7 853.9,2254.7 850.3,2251.2Z" fill="#d6eaff"/>
<path d="M867.9,2296.9 878.5,2290.8 889.0,2293.4 894.3,2302.2 908.4,2316.3 920.0,2328.6 929.5,2346.2 920.0,2349.7 908.4,2346.2 894.3,2342.7 880.2,2333.9 871.5,2321.6 867.1,2309.2Z" fill="#b5ccff"/>
<path d="M875.0,2307.5 883.8,2298.7 890.8,2304.0 901.3,2318.0 908.4,2328.6 901.3,2337.4 889.0,2333.9 878.5,2323.3Z" fill="#d6eaff"/>
<path d="M813.4,2103.7 832.8,2101.1 845.1,2102.9 860.0,2107.6 875.0,2114.3 887.3,2121.3 897.8,2130.1 906.6,2144.2 903.1,2146.8 892.5,2137.2 878.5,2132.8 839.8,2124.8 827.5,2127.5 816.9,2121.3Z" fill="#4278ff"/>
<path d="M817.8,2109.0 832.8,2106.0 843.3,2107.6 857.4,2112.2 871.4,2118.7 882.0,2125.7 889.0,2133.6 885.5,2135.4 875.0,2131.0 862.6,2128.4 839.8,2123.1 829.2,2125.7 821.3,2121.3Z" fill="#84aaff"/>
<path d="M821.3,2112.5 832.8,2109.4 842.4,2110.8 855.6,2115.2 867.9,2121.3 875.0,2127.5 871.4,2129.2 862.6,2126.6 850.3,2123.1 839.8,2121.3 831.0,2124.0 824.0,2119.6Z" fill="#b5ccff"/>
<path d="M824.8,2115.2 832.8,2112.5 841.5,2113.9 853.9,2118.2 864.4,2123.1 862.6,2124.8 850.3,2121.0 841.5,2118.2 834.5,2121.3 828.4,2119.6Z" fill="#d6eaff"/>
<path d="M929.7,2421.8 938.5,2416.5 945.5,2420.0 952.5,2428.8 961.3,2423.5 973.6,2419.1 985.9,2418.3 993.0,2425.3 994.7,2434.1 1001.8,2437.6 1012.3,2441.1 1022.9,2446.4 1029.9,2455.2 1036.9,2464.0 1045.7,2472.8 1054.5,2481.6 1059.8,2488.6 1058.0,2497.4 1047.5,2502.7 1033.4,2504.4 1019.4,2504.4 1007.0,2500.9 994.7,2493.9 982.4,2492.1 973.6,2485.1 963.1,2478.0 952.5,2471.0 947.3,2462.2 947.3,2451.7 950.8,2441.1 943.7,2434.1 938.5,2428.8 931.4,2430.6Z" fill="#0030e1"/>
<path d="M862.9,2372.5 873.4,2362.0 885.7,2367.3 898.0,2376.1 910.3,2384.8 922.6,2393.6 935.0,2398.9 949.0,2402.4 963.1,2405.9 977.2,2409.5 991.2,2409.5 1005.3,2409.5 1015.8,2413.0 1026.4,2414.7 1033.4,2418.3 1038.7,2428.8 1047.5,2442.9 1056.3,2453.4 1065.1,2462.2 1075.6,2471.0 1086.2,2478.0 1098.5,2481.6 1110.8,2479.8 1121.3,2474.5 1131.9,2471.0 1140.0,2469.2 1121.3,2469.2 1138.9,2418.3 1138.9,2312.8 1051.0,2277.6 945.5,2277.6 892.8,2312.8Z" fill="#4278ff"/>
<path d="M866.4,2282.9 866.4,2295.2 866.4,2309.2 869.9,2323.3 876.9,2335.6 885.7,2344.4 898.0,2353.2 910.3,2362.0 922.6,2369.0 935.0,2377.8 947.3,2386.6 959.6,2393.6 973.6,2397.2 987.7,2395.4 994.7,2390.1 994.7,2381.3 980.7,2365.5 927.9,2312.8 892.8,2277.6 875.2,2274.1Z" fill="#84aaff"/>
<path d="M868.1,2300.4 869.9,2316.3 875.2,2330.3 884.0,2339.1 896.3,2347.9 908.6,2355.0 920.9,2362.0 931.4,2370.8 943.7,2381.3 954.3,2386.6 963.1,2388.4 970.1,2386.6 973.6,2383.1 963.1,2365.5 927.9,2321.5 892.8,2286.4Z" fill="#b5ccff"/>
<path d="M873.4,2300.4 875.2,2318.0 882.2,2330.3 892.8,2337.4 898.0,2344.4 900.7,2352.3 910.3,2349.7 919.1,2346.2 933.2,2342.6 910.3,2312.8 892.8,2295.2Z" fill="#d6eaff"/>
<path d="M987.7,2342.6 994.7,2333.9 1005.3,2326.8 1015.8,2321.5 1026.4,2319.8 1033.4,2326.8 1033.4,2337.4 1042.2,2344.4 1044.0,2358.5 1042.2,2372.5 1035.2,2383.1 1022.9,2388.4 1012.3,2386.6 1005.3,2379.6 998.3,2372.5 991.2,2362.0 985.9,2351.4Z" fill="#1b53ff"/>
<path d="M1038.7,2295.2 1044.0,2286.4 1059.8,2300.4 1073.9,2312.8 1091.5,2326.8 1114.3,2344.4 1119.6,2365.5 1109.0,2377.8 1114.3,2393.6 1103.8,2398.9 1089.7,2397.2 1075.6,2395.4 1073.9,2383.1 1068.6,2369.0 1063.3,2355.0 1056.3,2342.6 1047.5,2330.3 1042.2,2318.0 1038.7,2305.7Z" fill="#84aaff"/>
<path d="M1040.5,2293.4 1044.9,2286.4 1059.8,2300.4 1073.9,2312.8 1091.5,2326.8 1114.3,2344.4 1119.6,2365.5 1110.8,2376.1 1100.2,2372.5 1091.5,2362.0 1082.7,2351.4 1073.9,2340.9 1065.1,2330.3 1056.3,2319.8 1047.5,2311.0 1042.2,2302.2Z" fill="#b5ccff"/>
<path d="M1042.2,2289.9 1045.7,2286.4 1059.8,2300.4 1073.9,2312.8 1091.5,2326.8 1114.3,2344.4 1118.7,2363.7 1110.8,2365.5 1102.0,2355.0 1091.5,2342.6 1080.9,2332.1 1070.3,2323.3 1059.8,2314.5 1051.0,2305.7 1044.9,2298.7Z" fill="#d6eaff"/>
<path d="M1033.4,2409.5 1042.2,2398.9 1056.3,2395.4 1072.1,2393.6 1086.2,2397.2 1100.2,2400.7 1114.3,2398.9 1128.4,2413.0 1121.3,2435.8 1114.3,2467.5 1107.3,2476.3 1095.0,2478.0 1082.7,2472.8 1072.1,2464.0 1061.6,2451.7 1051.0,2437.6 1042.2,2425.3 1035.2,2416.5Z" fill="#4278ff"/>
<path d="M1040.5,2409.5 1049.2,2402.4 1061.6,2398.9 1075.6,2398.9 1089.7,2402.4 1103.8,2404.2 1116.1,2402.4 1128.4,2414.7 1121.3,2435.8 1116.1,2462.2 1105.5,2471.0 1095.0,2471.0 1084.4,2465.7 1073.9,2455.2 1063.3,2442.9 1054.5,2430.6 1045.7,2418.3Z" fill="#84aaff"/>
<path d="M1049.2,2411.2 1058.0,2404.2 1070.3,2402.4 1084.4,2405.9 1098.5,2407.7 1110.8,2405.9 1121.3,2409.5 1126.6,2418.3 1119.6,2437.6 1114.3,2456.9 1103.8,2464.0 1093.2,2462.2 1082.7,2453.4 1072.1,2442.9 1063.3,2430.6 1054.5,2420.0Z" fill="#b5ccff"/>
<path d="M1063.3,2414.7 1072.1,2409.5 1084.4,2411.2 1096.7,2414.7 1107.3,2421.8 1114.3,2432.3 1114.3,2446.4 1109.0,2456.9 1100.2,2458.7 1089.7,2451.7 1079.1,2441.1 1070.3,2428.8 1065.1,2421.8Z" fill="#d6eaff"/>
<path d="M1089.7,2428.8 1095.0,2423.5 1100.2,2430.6 1102.0,2439.4 1100.2,2449.9 1095.0,2453.4 1089.7,2444.6 1087.9,2435.8Z" fill="#ffead6"/>
<g clip-path="url(#coast3)">
<path d="M620.0,1786.0 1499.2,1786.0 1499.2,2665.2 620.0,2665.2Z" fill="#1b53ff"/>
<path d="M842.9,2134.3 843.2,2135.0 843.8,2137.0 845.4,2137.0 846.2,2137.0 847.1,2137.1 864.7,2140.1 865.7,2140.3 866.7,2140.6 874.1,2143.6 874.8,2143.9 875.6,2144.4 876.3,2144.9 882.2,2149.3 882.9,2149.8 883.6,2150.5 884.2,2151.2 884.7,2152.0 885.1,2152.8 888.1,2158.6 888.5,2159.5 888.8,2160.4 889.0,2161.4 889.1,2162.3 889.1,2163.3 889.1,2164.2 887.6,2177.2 887.1,2185.8 886.9,2186.8 886.7,2187.7 886.4,2188.7 886.0,2189.6 885.5,2190.5 884.9,2191.3 884.3,2192.0 883.6,2192.7 882.8,2193.3 881.9,2193.8 881.0,2194.3 880.1,2194.6 879.1,2194.9 878.3,2195.0 878.6,2195.9 878.8,2196.9 878.9,2197.8 878.9,2198.8 878.8,2199.8 878.6,2200.7 878.3,2201.7 877.9,2202.6 877.4,2203.4 874.0,2209.1 873.3,2213.4 873.8,2214.6 874.1,2215.6 874.4,2216.7 874.5,2217.7 874.5,2218.8 874.3,2219.9 871.4,2237.5 871.3,2237.8 868.5,2252.2 869.1,2252.2 870.1,2252.3 871.1,2252.4 872.0,2252.7 876.4,2254.2 877.4,2254.5 878.2,2255.0 879.1,2255.5 879.9,2256.1 880.6,2256.8 881.2,2257.6 881.8,2258.4 882.3,2259.3 882.7,2260.2 882.9,2261.1 883.1,2262.1 883.2,2262.6 883.3,2262.6 888.2,2261.7 889.2,2261.6 890.2,2261.6 891.1,2261.6 892.1,2261.8 893.0,2262.0 894.0,2262.4 894.8,2262.8 895.7,2263.3 896.4,2263.9 897.1,2264.6 897.8,2265.3 898.4,2266.1 898.8,2267.0 899.3,2267.8 899.6,2268.8 899.8,2269.7 899.9,2270.7 900.0,2271.6 899.9,2272.6 899.0,2281.3 901.1,2286.6 904.7,2291.4 905.3,2292.2 905.7,2293.1 906.1,2294.0 906.4,2294.9 907.9,2300.8 908.1,2301.7 908.2,2302.7 908.2,2302.9 908.3,2303.0 909.2,2303.4 910.0,2304.0 910.7,2304.6 911.4,2305.3 912.0,2306.0 916.4,2311.9 917.0,2312.6 917.4,2313.4 917.8,2314.3 918.1,2315.1 918.3,2316.0 918.4,2317.0 918.4,2317.9 918.4,2323.7 918.4,2324.7 918.3,2325.6 918.1,2326.5 917.8,2327.3 917.4,2328.2 917.0,2329.0 916.4,2329.7 912.0,2335.6 911.4,2336.3 910.7,2337.0 910.3,2337.4 910.5,2338.0 910.8,2338.9 911.2,2340.3 911.8,2340.2 912.8,2340.1 919.7,2340.1 925.1,2338.0 931.7,2335.1 932.6,2334.7 933.6,2334.5 934.6,2334.3 935.6,2334.2 936.6,2334.3 937.6,2334.4 938.6,2334.7 939.6,2335.0 940.5,2335.5 941.3,2336.0 942.1,2336.6 942.9,2337.3 943.5,2338.0 944.1,2338.8 944.6,2339.7 945.0,2340.6 945.3,2341.6 945.6,2342.6 945.7,2343.6 946.3,2352.4 946.3,2353.0 946.3,2363.1 947.2,2366.0 947.6,2366.2 954.0,2367.0 958.7,2366.5 959.7,2366.5 960.7,2366.5 961.7,2366.7 962.6,2366.9 963.5,2367.2 964.4,2367.7 965.3,2368.2 966.1,2368.7 966.8,2369.4 967.4,2370.1 968.0,2370.9 968.3,2371.4 970.9,2372.0 972.2,2372.5 973.1,2372.8 973.1,2372.8 973.7,2372.0 978.1,2366.1 978.7,2365.4 979.4,2364.7 980.1,2364.1 980.8,2363.6 981.7,2363.1 982.5,2362.8 983.4,2362.5 990.7,2360.4 991.6,2360.2 992.5,2360.1 993.4,2360.0 994.3,2360.1 995.2,2360.2 996.1,2360.4 1003.5,2362.5 1004.3,2362.8 1005.2,2363.1 1006.0,2363.6 1006.8,2364.1 1007.3,2364.6 1008.1,2364.0 1008.5,2363.7 1005.8,2352.7 1003.3,2344.1 1001.2,2341.0 1000.7,2340.2 1000.3,2339.3 1000.0,2338.4 999.7,2337.4 999.6,2336.4 999.6,2335.5 999.6,2334.5 999.7,2333.5 1000.0,2332.6 1000.3,2331.6 1000.7,2330.7 1001.2,2329.9 1001.8,2329.1 1002.5,2328.4 1003.2,2327.7 1004.0,2327.1 1004.8,2326.6 1005.7,2326.2 1006.6,2325.9 1007.6,2325.7 1014.9,2324.2 1016.0,2324.0 1017.2,2324.0 1018.3,2324.1 1021.3,2324.5 1025.1,2314.4 1029.4,2302.8 1031.4,2296.9 1030.6,2293.9 1030.4,2292.9 1030.3,2291.9 1030.4,2290.8 1030.5,2289.8 1030.7,2288.8 1031.0,2287.8 1031.5,2286.8 1032.0,2285.9 1034.9,2281.6 1035.5,2280.8 1036.2,2280.0 1036.9,2279.4 1037.7,2278.8 1038.5,2278.3 1039.4,2277.9 1040.3,2277.5 1041.2,2277.3 1042.2,2277.2 1043.2,2277.1 1044.1,2277.1 1045.1,2277.3 1046.1,2277.5 1047.0,2277.8 1054.3,2280.7 1055.2,2281.1 1056.0,2281.6 1056.8,2282.2 1057.5,2282.8 1058.2,2283.5 1062.0,2287.9 1062.7,2288.9 1067.8,2296.5 1075.5,2302.9 1082.2,2308.5 1088.3,2309.5 1089.3,2309.7 1090.3,2310.0 1091.3,2310.5 1092.2,2311.0 1101.0,2316.9 1101.8,2317.5 1102.5,2318.1 1109.8,2325.5 1110.4,2326.1 1110.9,2326.7 1118.2,2337.0 1118.8,2337.9 1119.3,2338.8 1123.7,2349.1 1123.8,2349.5 1128.2,2361.3 1128.5,2362.1 1128.7,2362.9 1128.8,2363.8 1129.4,2369.6 1129.5,2370.6 1129.4,2371.6 1129.3,2372.6 1129.0,2373.6 1128.7,2374.5 1128.2,2375.5 1127.7,2376.3 1127.1,2377.1 1122.8,2382.1 1126.0,2387.5 1130.4,2394.8 1130.8,2395.5 1135.2,2404.3 1135.6,2405.2 1135.9,2406.1 1136.1,2407.1 1137.5,2415.9 1137.6,2416.8 1137.7,2417.7 1137.6,2418.6 1137.5,2419.5 1137.3,2420.4 1137.0,2421.2 1134.3,2427.9 1133.0,2433.1 1132.7,2434.1 1132.3,2434.9 1131.9,2435.8 1131.4,2436.6 1130.8,2437.3 1130.1,2438.0 1130.3,2440.0 1130.3,2440.9 1130.3,2441.8 1130.2,2442.8 1130.0,2443.7 1129.7,2444.6 1129.3,2445.4 1126.4,2451.3 1125.8,2452.2 1125.2,2453.0 1124.6,2453.8 1123.8,2454.5 1123.0,2455.1 1121.2,2456.4 1120.5,2458.0 1120.9,2460.1 1123.3,2461.3 1129.9,2464.5 1133.4,2465.6 1138.9,2463.7 1139.2,2462.9 1139.7,2462.1 1140.3,2461.2 1140.9,2460.5 1141.6,2459.8 1142.4,2459.2 1143.3,2458.6 1144.2,2458.2 1145.1,2457.8 1146.1,2457.6 1147.1,2457.4 1148.0,2457.3 1149.0,2457.4 1150.0,2457.5 1151.0,2457.7 1152.0,2458.1 1152.9,2458.5 1153.7,2459.0 1154.5,2459.6 1155.3,2460.3 1159.7,2464.7 1160.4,2465.5 1161.0,2466.3 1161.5,2467.3 1163.5,2471.3 1169.3,2472.0 1170.5,2472.0 1170.8,2471.2 1171.3,2470.3 1171.9,2469.5 1172.5,2468.7 1173.3,2468.0 1174.1,2467.4 1174.9,2466.9 1175.8,2466.4 1176.7,2466.0 1177.7,2465.8 1178.7,2465.6 1179.7,2465.6 1180.7,2465.6 1181.7,2465.7 1182.7,2466.0 1183.7,2466.3 1188.6,2468.4 1189.4,2468.7 1190.1,2469.1 1190.8,2469.6 1191.3,2470.0 1192.1,2469.5 1195.9,2466.2 1196.6,2465.6 1197.5,2465.1 1198.4,2464.6 1199.3,2464.3 1200.2,2464.0 1201.2,2463.9 1202.2,2463.8 1203.2,2463.8 1204.2,2464.0 1205.2,2464.2 1206.1,2464.5 1207.0,2464.9 1207.2,2465.0 1207.7,2464.9 1212.1,2461.2 1212.8,2460.6 1213.6,2460.1 1214.4,2459.7 1215.3,2459.4 1216.1,2459.1 1217.0,2458.9 1222.9,2458.0 1223.9,2457.9 1225.0,2457.9 1226.0,2458.1 1227.0,2458.3 1228.0,2458.6 1228.9,2459.0 1229.8,2459.5 1230.6,2460.1 1232.2,2461.4 1233.4,2460.5 1234.2,2460.0 1235.1,2459.6 1236.0,2459.3 1236.9,2459.0 1237.9,2458.9 1238.9,2458.8 1239.8,2458.8 1240.8,2459.0 1241.7,2459.2 1242.6,2459.5 1243.5,2459.9 1244.3,2460.3 1244.6,2460.5 1245.0,2460.2 1245.9,2459.8 1246.8,2459.4 1247.7,2459.1 1248.7,2458.9 1249.7,2458.8 1250.7,2458.8 1251.6,2458.9 1252.4,2459.1 1257.8,2456.2 1258.0,2456.1 1269.4,2450.4 1274.9,2447.0 1275.6,2446.7 1276.4,2446.3 1281.8,2444.2 1286.2,2439.8 1287.0,2439.0 1289.8,2436.8 1289.3,2436.2 1288.8,2435.3 1288.4,2434.4 1285.4,2427.1 1285.1,2426.2 1284.9,2425.3 1284.8,2424.3 1284.7,2423.4 1284.8,2422.4 1284.9,2421.4 1285.2,2420.5 1285.5,2419.6 1285.9,2418.7 1286.4,2417.9 1286.9,2417.1 1287.6,2416.4 1288.3,2415.8 1289.0,2415.2 1289.8,2414.7 1290.7,2414.2 1291.6,2413.9 1296.0,2412.4 1297.0,2412.1 1298.1,2412.0 1299.1,2411.9 1304.1,2411.9 1304.1,2411.9 1305.1,2409.1 1304.7,2405.3 1304.7,2404.3 1304.7,2403.3 1304.9,2402.3 1305.1,2401.3 1305.5,2400.3 1305.9,2399.4 1306.5,2398.6 1310.0,2393.6 1310.6,2392.8 1311.3,2392.1 1312.1,2391.4 1312.9,2390.9 1313.7,2390.4 1314.6,2390.0 1315.0,2389.9 1315.7,2386.3 1315.9,2385.4 1316.2,2384.5 1316.6,2383.7 1321.0,2374.9 1321.5,2374.0 1322.1,2373.1 1322.8,2372.3 1328.7,2366.5 1329.4,2365.8 1330.2,2365.2 1339.0,2359.4 1339.9,2358.8 1340.8,2358.4 1344.6,2356.9 1345.0,2356.2 1345.4,2350.7 1343.0,2348.0 1342.4,2347.3 1341.8,2346.4 1341.4,2345.6 1341.0,2344.7 1340.7,2343.7 1339.3,2337.9 1339.1,2337.0 1339.0,2336.0 1339.0,2335.1 1339.0,2334.1 1339.2,2333.2 1339.5,2332.3 1339.8,2331.4 1340.2,2330.6 1340.7,2329.8 1341.3,2329.0 1341.9,2328.3 1342.6,2327.7 1343.4,2327.1 1345.9,2325.5 1349.2,2320.1 1349.9,2319.0 1350.7,2318.1 1356.9,2311.9 1359.7,2306.3 1360.2,2301.1 1358.7,2295.4 1356.4,2291.6 1356.0,2290.6 1355.6,2289.7 1355.3,2288.7 1355.1,2287.7 1355.1,2286.7 1355.1,2285.6 1355.3,2284.6 1356.7,2277.1 1358.6,2266.0 1359.4,2252.7 1358.1,2239.1 1355.9,2225.4 1352.8,2215.2 1349.5,2208.6 1343.3,2202.4 1338.0,2197.1 1335.4,2195.1 1331.4,2195.1 1330.4,2195.0 1329.4,2194.9 1328.5,2194.7 1327.5,2194.3 1326.7,2193.9 1325.8,2193.4 1325.0,2192.8 1324.3,2192.2 1319.6,2187.5 1315.2,2185.2 1314.3,2184.8 1313.5,2184.2 1312.8,2183.6 1312.1,2182.9 1311.5,2182.1 1311.0,2181.3 1310.5,2180.4 1310.2,2179.5 1308.0,2172.9 1307.8,2172.7 1307.4,2172.8 1306.5,2173.0 1305.5,2173.1 1304.5,2173.1 1303.5,2173.0 1302.6,2172.8 1301.6,2172.5 1300.7,2172.1 1299.8,2171.7 1299.0,2171.1 1298.3,2170.5 1297.6,2169.8 1296.9,2169.0 1296.4,2168.2 1295.9,2167.3 1293.9,2162.9 1293.5,2162.0 1293.2,2161.1 1293.0,2160.1 1292.9,2159.1 1293.0,2158.1 1293.1,2157.2 1293.3,2156.2 1293.6,2155.2 1294.0,2154.3 1294.4,2153.5 1295.0,2152.6 1295.6,2151.9 1299.7,2147.5 1300.5,2146.8 1301.3,2146.2 1302.1,2145.6 1303.1,2145.1 1309.8,2142.2 1310.8,2141.8 1311.8,2141.6 1312.9,2141.4 1313.9,2141.4 1315.0,2141.5 1316.1,2141.6 1317.1,2140.1 1317.7,2139.3 1318.3,2138.6 1319.0,2138.0 1319.7,2137.4 1320.5,2136.9 1321.3,2136.4 1322.2,2136.1 1322.5,2136.0 1320.4,2129.6 1320.2,2128.9 1320.0,2128.1 1318.8,2120.8 1315.1,2113.4 1314.6,2112.1 1311.8,2103.9 1309.2,2098.7 1308.8,2097.7 1308.5,2096.7 1307.0,2090.8 1306.8,2089.8 1306.7,2088.8 1306.7,2087.7 1306.8,2086.7 1307.3,2084.1 1307.1,2083.9 1306.6,2083.1 1306.1,2082.2 1305.8,2081.3 1305.5,2080.3 1305.3,2079.3 1305.3,2078.4 1305.3,2077.4 1305.4,2076.4 1305.6,2075.4 1305.9,2074.5 1306.3,2073.6 1306.8,2072.8 1307.4,2072.0 1308.0,2071.2 1308.7,2070.5 1309.5,2069.9 1310.3,2069.4 1311.2,2069.0 1312.1,2068.6 1312.6,2068.5 1312.6,2068.3 1311.2,2064.9 1309.1,2063.1 1303.9,2062.0 1301.2,2062.8 1295.6,2067.9 1294.9,2068.5 1294.2,2069.0 1293.4,2069.5 1292.5,2069.8 1291.6,2070.1 1290.7,2070.4 1289.8,2070.5 1288.9,2070.5 1285.4,2070.5 1284.4,2070.5 1283.4,2070.3 1282.4,2070.1 1281.4,2069.7 1280.5,2069.3 1279.7,2068.8 1278.9,2068.2 1278.2,2067.5 1277.5,2066.7 1276.9,2065.9 1276.4,2065.0 1276.0,2064.1 1275.7,2063.2 1275.5,2062.2 1275.4,2061.2 1275.4,2060.2 1275.4,2059.2 1275.6,2058.5 1270.6,2053.5 1266.0,2050.0 1259.4,2046.7 1253.7,2045.8 1248.4,2046.6 1242.7,2050.1 1241.6,2050.6 1233.7,2054.1 1232.8,2054.5 1231.8,2054.8 1230.9,2054.9 1229.9,2055.0 1228.9,2055.0 1227.9,2054.8 1226.9,2054.6 1226.0,2054.3 1225.1,2053.9 1224.2,2053.4 1223.4,2052.8 1222.7,2052.2 1222.0,2051.4 1221.4,2050.7 1220.9,2049.8 1220.5,2048.9 1220.1,2048.0 1219.9,2047.0 1219.7,2046.0 1219.7,2045.1 1219.7,2044.1 1219.9,2043.1 1220.0,2042.4 1219.6,2041.9 1218.9,2041.1 1218.4,2040.2 1218.0,2039.2 1217.7,2038.2 1216.9,2035.3 1216.8,2035.3 1215.8,2035.4 1214.8,2035.3 1213.8,2035.2 1212.8,2035.0 1211.9,2034.6 1211.0,2034.2 1210.1,2033.7 1209.3,2033.1 1208.5,2032.4 1206.5,2030.4 1199.5,2029.4 1199.3,2029.4 1190.5,2027.9 1189.7,2027.7 1179.9,2025.3 1171.6,2026.5 1170.5,2026.6 1169.5,2026.5 1168.5,2026.4 1167.4,2026.2 1166.5,2025.9 1159.1,2022.9 1158.4,2022.6 1146.6,2016.7 1135.4,2011.1 1124.7,2007.1 1113.7,2004.3 1106.7,2002.9 1098.2,2005.4 1090.8,2009.1 1082.5,2014.6 1081.9,2015.0 1081.2,2015.4 1076.8,2017.4 1075.9,2017.8 1074.9,2018.1 1073.9,2018.3 1072.9,2018.4 1071.9,2018.3 1070.9,2018.2 1069.9,2018.0 1069.0,2017.7 1068.0,2017.3 1067.2,2016.8 1066.4,2016.2 1065.6,2015.5 1064.9,2014.8 1064.3,2014.0 1064.3,2014.0 1064.0,2014.1 1063.1,2014.4 1062.1,2014.7 1061.2,2014.8 1051.5,2015.7 1051.0,2015.7 1050.8,2016.4 1050.5,2017.3 1050.1,2018.2 1049.6,2019.1 1049.0,2019.9 1048.4,2020.6 1047.6,2021.3 1046.8,2021.9 1046.0,2022.4 1045.1,2022.8 1044.2,2023.2 1043.2,2023.4 1042.2,2023.6 1041.2,2023.6 1040.2,2023.6 1039.3,2023.4 1038.3,2023.2 1038.0,2023.1 1036.8,2027.8 1036.5,2028.7 1036.2,2029.7 1035.7,2030.5 1035.1,2031.4 1030.7,2037.2 1030.1,2038.0 1029.5,2038.6 1028.7,2039.2 1023.9,2042.9 1019.3,2048.6 1013.8,2058.2 1013.7,2058.4 1009.5,2065.3 1008.4,2067.6 1009.0,2069.8 1009.2,2070.9 1009.3,2071.9 1009.3,2072.9 1009.1,2074.0 1008.9,2075.0 1008.6,2076.0 1006.1,2082.1 1004.8,2092.5 1004.7,2093.3 1004.5,2094.1 1001.6,2104.3 1001.3,2105.1 1001.0,2105.9 998.2,2111.6 997.6,2118.2 997.6,2127.9 997.5,2128.8 997.4,2129.7 997.2,2130.6 996.9,2131.5 996.6,2132.3 996.1,2133.1 991.7,2140.4 991.3,2141.2 990.7,2141.8 990.1,2142.5 989.4,2143.1 982.1,2148.9 981.0,2149.7 973.7,2154.1 972.7,2154.6 971.6,2155.0 959.9,2158.8 959.7,2158.9 948.8,2162.2 943.1,2165.0 939.2,2170.8 935.2,2180.2 934.8,2181.1 934.3,2182.0 933.7,2182.8 933.0,2183.5 932.2,2184.1 931.4,2184.7 930.6,2185.2 929.7,2185.6 928.8,2185.9 927.8,2186.1 926.8,2186.3 925.8,2186.3 924.8,2186.2 923.9,2186.1 922.9,2185.8 922.0,2185.5 921.1,2185.0 920.3,2184.5 919.5,2183.9 918.8,2183.2 918.1,2182.4 917.6,2181.6 917.1,2180.8 912.7,2172.0 912.4,2171.4 909.1,2163.6 905.4,2160.9 904.7,2160.3 904.0,2159.6 903.4,2158.9 902.9,2158.2 902.5,2157.4 902.1,2156.6 900.6,2152.8 898.1,2151.5 897.2,2151.0 896.3,2150.4 895.5,2149.7 890.7,2144.9 890.1,2145.0 889.1,2145.2 888.1,2145.3 887.1,2145.2 886.1,2145.1 885.1,2144.9 884.2,2144.5 883.3,2144.1 882.4,2143.6 881.6,2143.0 880.9,2142.3 879.4,2140.9 877.7,2140.9 876.7,2140.8 875.8,2140.7 874.9,2140.5 874.1,2140.2 873.2,2139.8 872.4,2139.4 871.7,2138.9 868.0,2136.1 864.9,2135.8 863.9,2135.7 862.9,2135.4 855.6,2133.1 854.9,2132.8 848.7,2130.3 845.1,2129.8 844.7,2131.1 844.3,2132.0 843.9,2132.9 843.3,2133.7 842.9,2134.3Z" fill="#4278ff"/>
<path d="M897.1,2163.8 897.0,2165.1 895.6,2177.9 895.0,2186.3 894.8,2188.1 894.4,2189.8 893.9,2191.5 893.2,2193.2 892.3,2194.8 891.2,2196.2 890.0,2197.6 888.7,2198.8 887.3,2199.9 886.7,2200.3 886.7,2201.0 886.3,2202.7 885.8,2204.4 885.1,2206.0 884.3,2207.5 881.7,2211.9 881.6,2212.6 881.9,2213.6 882.3,2215.5 882.5,2217.4 882.4,2219.3 882.2,2221.2 879.3,2238.8 879.2,2239.3 877.8,2246.2 879.0,2246.6 880.6,2247.2 882.2,2248.0 883.7,2249.0 885.1,2250.1 886.4,2251.4 887.6,2252.7 888.2,2253.7 888.6,2253.6 890.3,2253.6 892.1,2253.7 893.8,2254.0 895.5,2254.4 897.1,2255.1 898.7,2255.8 900.2,2256.8 901.6,2257.8 902.9,2259.0 904.0,2260.3 905.1,2261.7 905.9,2263.3 906.7,2264.9 907.2,2266.5 907.7,2268.2 907.9,2269.9 908.0,2271.7 907.9,2273.4 907.2,2280.2 908.1,2282.6 911.1,2286.6 912.1,2288.0 913.0,2289.6 913.7,2291.3 914.2,2293.0 915.5,2298.1 916.1,2298.6 917.3,2299.9 918.4,2301.2 922.8,2307.1 923.8,2308.4 924.6,2309.9 925.2,2311.4 925.8,2313.0 926.1,2314.6 926.4,2316.2 926.4,2317.9 926.4,2323.7 926.4,2325.4 926.1,2327.0 925.8,2328.6 925.6,2329.0 928.5,2327.7 930.2,2327.1 932.0,2326.6 933.8,2326.4 935.6,2326.2 937.4,2326.3 939.2,2326.6 940.9,2327.0 942.6,2327.6 944.3,2328.4 945.8,2329.4 947.3,2330.5 948.6,2331.7 949.8,2333.1 950.8,2334.5 951.7,2336.1 952.5,2337.8 953.1,2339.5 953.4,2341.3 953.7,2343.1 954.2,2351.8 954.3,2353.0 954.3,2358.9 957.9,2358.6 959.7,2358.5 961.5,2358.6 963.2,2358.8 964.9,2359.3 966.6,2359.8 968.2,2360.6 969.7,2361.5 970.9,2362.4 971.7,2361.3 972.8,2360.0 974.0,2358.8 975.3,2357.7 976.6,2356.8 978.1,2356.0 979.7,2355.3 981.3,2354.8 988.6,2352.7 990.2,2352.3 991.8,2352.1 993.4,2352.0 995.1,2352.1 996.7,2352.3 997.4,2352.5 995.9,2347.5 994.6,2345.4 993.7,2343.9 992.9,2342.3 992.3,2340.7 991.9,2339.0 991.6,2337.2 991.6,2335.4 991.6,2333.7 991.9,2331.9 992.3,2330.2 992.9,2328.6 993.7,2327.0 994.6,2325.5 995.6,2324.0 996.8,2322.7 998.1,2321.5 999.5,2320.5 1001.1,2319.6 1002.6,2318.8 1004.3,2318.2 1006.0,2317.8 1013.3,2316.3 1015.4,2316.1 1015.9,2316.0 1017.6,2311.6 1021.9,2300.1 1023.1,2296.6 1022.9,2295.9 1022.5,2294.0 1022.3,2292.2 1022.4,2290.3 1022.6,2288.4 1023.0,2286.6 1023.6,2284.8 1024.4,2283.1 1025.4,2281.5 1028.3,2277.1 1029.3,2275.7 1030.5,2274.4 1031.8,2273.2 1033.2,2272.2 1034.7,2271.3 1036.3,2270.5 1037.9,2269.9 1039.6,2269.5 1041.4,2269.2 1043.1,2269.1 1044.9,2269.2 1046.6,2269.4 1048.3,2269.8 1050.0,2270.4 1057.3,2273.3 1058.8,2274.0 1060.3,2274.9 1061.7,2275.9 1063.0,2277.0 1064.2,2278.2 1068.0,2282.6 1069.4,2284.4 1073.8,2291.1 1080.6,2296.7 1085.6,2300.9 1089.6,2301.6 1091.5,2302.0 1093.3,2302.6 1095.0,2303.4 1096.6,2304.4 1105.4,2310.2 1106.8,2311.3 1108.2,2312.5 1115.5,2319.8 1116.5,2320.9 1117.4,2322.1 1124.7,2332.3 1125.8,2334.0 1126.6,2335.7 1131.0,2346.0 1131.3,2346.7 1135.7,2358.4 1136.2,2359.9 1136.6,2361.4 1136.8,2363.0 1137.4,2368.8 1137.5,2370.6 1137.4,2372.4 1137.1,2374.2 1136.7,2376.0 1136.0,2377.7 1135.2,2379.3 1134.3,2380.8 1133.2,2382.3 1132.6,2383.0 1132.9,2383.3 1137.2,2390.7 1137.9,2391.9 1142.3,2400.7 1143.0,2402.3 1143.6,2404.0 1144.0,2405.8 1145.4,2414.6 1145.6,2416.2 1145.7,2417.8 1145.6,2419.5 1145.3,2421.1 1144.9,2422.7 1144.4,2424.2 1141.9,2430.4 1140.7,2435.1 1140.2,2436.7 1139.6,2438.3 1138.8,2439.8 1138.3,2440.5 1138.3,2440.9 1138.3,2442.6 1138.1,2444.2 1137.7,2445.9 1137.1,2447.5 1136.4,2449.0 1133.5,2454.9 1132.6,2456.5 1132.4,2456.8 1132.9,2457.0 1133.3,2457.2 1133.4,2457.2 1133.9,2456.3 1135.1,2455.0 1136.4,2453.7 1137.8,2452.6 1139.3,2451.7 1141.0,2450.9 1142.6,2450.2 1144.4,2449.8 1146.1,2449.5 1147.9,2449.3 1149.7,2449.4 1151.5,2449.7 1153.3,2450.1 1155.0,2450.7 1156.6,2451.4 1158.1,2452.3 1159.6,2453.4 1160.9,2454.6 1165.3,2459.0 1166.6,2460.4 1167.7,2462.0 1167.8,2462.2 1168.0,2462.0 1169.4,2460.9 1171.0,2459.9 1172.6,2459.1 1174.3,2458.4 1176.0,2458.0 1177.8,2457.7 1179.6,2457.6 1181.4,2457.6 1183.2,2457.9 1185.0,2458.3 1186.7,2458.9 1190.4,2460.4 1190.6,2460.2 1192.0,2459.1 1193.5,2458.1 1195.1,2457.3 1196.8,2456.7 1198.5,2456.2 1200.3,2455.9 1202.1,2455.8 1203.8,2455.8 1205.6,2456.1 1205.7,2456.1 1206.9,2455.1 1208.2,2454.1 1209.6,2453.2 1211.1,2452.4 1212.6,2451.8 1214.2,2451.3 1215.9,2451.0 1221.7,2450.1 1223.6,2449.9 1225.4,2450.0 1227.3,2450.2 1229.1,2450.5 1230.8,2451.1 1232.5,2451.9 1232.7,2452.0 1233.6,2451.7 1235.3,2451.2 1237.0,2450.9 1238.7,2450.8 1240.4,2450.9 1242.2,2451.1 1243.8,2451.5 1244.6,2451.7 1245.8,2451.4 1247.5,2451.0 1249.3,2450.8 1250.8,2450.8 1254.0,2449.1 1254.4,2448.9 1265.5,2443.3 1270.8,2440.2 1272.1,2439.5 1273.4,2438.9 1277.3,2437.3 1279.9,2434.7 1278.0,2430.1 1277.5,2428.4 1277.1,2426.8 1276.8,2425.1 1276.7,2423.3 1276.8,2421.6 1277.1,2419.9 1277.5,2418.2 1278.1,2416.6 1278.8,2415.0 1279.7,2413.5 1280.7,2412.1 1281.8,2410.9 1283.1,2409.7 1284.4,2408.6 1285.9,2407.7 1287.4,2406.9 1289.0,2406.3 1293.4,2404.8 1295.3,2404.3 1296.7,2404.1 1296.8,2402.5 1297.0,2400.6 1297.5,2398.9 1298.2,2397.1 1299.0,2395.5 1300.0,2394.0 1303.5,2389.0 1304.6,2387.6 1305.8,2386.3 1307.1,2385.1 1307.9,2384.6 1308.2,2383.1 1308.8,2381.6 1309.4,2380.2 1313.8,2371.4 1314.8,2369.7 1315.9,2368.1 1317.2,2366.7 1323.0,2360.8 1324.4,2359.6 1325.8,2358.6 1334.6,2352.7 1335.9,2351.9 1335.0,2350.5 1334.1,2349.0 1333.5,2347.4 1333.0,2345.7 1331.5,2339.8 1331.2,2338.2 1331.0,2336.5 1331.0,2334.8 1331.1,2333.1 1331.4,2331.4 1331.9,2329.8 1332.5,2328.2 1333.2,2326.7 1334.1,2325.2 1335.2,2323.9 1336.3,2322.6 1337.6,2321.5 1339.0,2320.5 1340.0,2319.8 1342.3,2315.9 1343.6,2314.1 1345.0,2312.5 1350.3,2307.2 1351.9,2304.0 1352.1,2301.8 1351.2,2298.5 1349.5,2295.6 1348.7,2294.0 1348.0,2292.2 1347.5,2290.5 1347.2,2288.6 1347.1,2286.8 1347.1,2284.9 1347.4,2283.1 1348.8,2275.6 1350.7,2265.1 1351.4,2252.9 1350.1,2240.2 1348.1,2227.2 1345.3,2218.1 1343.0,2213.3 1337.7,2208.1 1332.7,2203.1 1332.7,2203.1 1331.4,2203.1 1329.6,2203.0 1327.9,2202.7 1326.1,2202.3 1324.5,2201.7 1322.9,2201.0 1321.4,2200.1 1319.9,2199.0 1318.6,2197.8 1314.8,2194.0 1311.6,2192.4 1310.1,2191.5 1308.6,2190.5 1307.3,2189.4 1306.0,2188.1 1305.0,2186.7 1304.0,2185.2 1303.2,2183.6 1302.6,2182.0 1302.2,2180.9 1300.6,2180.6 1298.9,2180.1 1297.3,2179.4 1295.7,2178.5 1294.2,2177.5 1292.9,2176.4 1291.6,2175.2 1290.5,2173.8 1289.5,2172.3 1288.7,2170.7 1286.6,2166.3 1286.0,2164.7 1285.4,2163.0 1285.1,2161.2 1285.0,2159.4 1285.0,2157.7 1285.2,2155.9 1285.5,2154.2 1286.1,2152.5 1286.8,2150.8 1287.6,2149.3 1288.6,2147.8 1289.8,2146.4 1293.9,2142.0 1295.2,2140.8 1296.7,2139.6 1298.2,2138.6 1299.9,2137.8 1306.6,2134.9 1308.4,2134.2 1310.2,2133.7 1312.1,2133.5 1312.2,2133.5 1312.5,2133.1 1313.0,2132.6 1312.8,2132.2 1312.4,2130.8 1312.1,2129.4 1311.1,2123.3 1307.9,2116.9 1307.0,2114.6 1304.4,2107.0 1302.1,2102.3 1301.3,2100.5 1300.7,2098.6 1299.3,2092.7 1298.9,2090.9 1298.7,2089.1 1298.7,2087.2 1298.9,2085.7 1298.8,2085.4 1298.2,2083.8 1297.7,2082.1 1297.4,2080.3 1297.3,2078.6 1297.3,2076.8 1297.3,2076.4 1296.9,2076.6 1295.4,2077.3 1293.8,2077.8 1292.2,2078.2 1290.5,2078.5 1288.9,2078.5 1285.4,2078.5 1283.5,2078.4 1281.8,2078.2 1280.0,2077.7 1278.3,2077.1 1276.7,2076.3 1275.2,2075.4 1273.7,2074.3 1272.4,2073.0 1271.2,2071.7 1270.2,2070.2 1269.3,2068.6 1268.5,2067.0 1268.0,2065.3 1267.6,2063.5 1267.4,2061.7 1267.4,2061.6 1265.3,2059.5 1261.8,2056.9 1256.9,2054.4 1253.7,2053.9 1251.2,2054.3 1246.8,2056.9 1244.9,2057.9 1237.0,2061.4 1235.3,2062.1 1233.6,2062.6 1231.8,2062.9 1230.1,2063.0 1228.3,2062.9 1226.5,2062.7 1224.8,2062.3 1223.1,2061.7 1221.4,2061.0 1219.9,2060.1 1218.5,2059.1 1217.1,2057.9 1215.9,2056.6 1214.8,2055.2 1213.9,2053.7 1213.1,2052.1 1212.5,2050.4 1212.0,2048.7 1211.8,2046.9 1211.7,2045.1 1211.7,2044.5 1211.3,2043.8 1210.8,2042.7 1210.6,2042.7 1208.9,2042.1 1207.2,2041.3 1205.7,2040.4 1204.2,2039.3 1202.9,2038.1 1202.7,2037.9 1198.4,2037.3 1198.0,2037.3 1189.2,2035.8 1187.8,2035.5 1179.5,2033.4 1172.7,2034.4 1170.8,2034.6 1169.0,2034.5 1167.1,2034.3 1165.3,2033.9 1163.5,2033.3 1156.2,2030.4 1154.8,2029.7 1143.1,2023.9 1132.2,2018.4 1122.3,2014.7 1111.9,2012.1 1107.0,2011.1 1101.2,2012.8 1094.8,2016.0 1086.9,2021.3 1085.8,2022.0 1084.6,2022.6 1080.2,2024.7 1078.5,2025.4 1076.8,2025.9 1075.0,2026.2 1073.2,2026.4 1071.4,2026.3 1069.6,2026.1 1067.8,2025.7 1066.1,2025.2 1064.4,2024.4 1062.9,2023.5 1061.8,2022.8 1056.4,2023.3 1056.3,2023.4 1055.3,2024.9 1054.1,2026.2 1052.8,2027.4 1051.4,2028.5 1049.8,2029.4 1048.2,2030.2 1046.5,2030.8 1044.8,2031.3 1044.1,2031.4 1044.1,2031.4 1043.4,2033.1 1042.5,2034.7 1041.5,2036.2 1037.1,2042.0 1036.1,2043.3 1034.9,2044.5 1033.5,2045.6 1029.5,2048.6 1025.9,2053.1 1020.8,2062.1 1020.6,2062.5 1016.9,2068.6 1017.1,2069.7 1017.3,2071.6 1017.3,2073.5 1017.0,2075.3 1016.6,2077.2 1016.0,2078.9 1013.9,2084.1 1012.8,2093.5 1012.5,2094.9 1012.2,2096.3 1009.3,2106.5 1008.8,2108.0 1008.2,2109.4 1006.0,2113.8 1005.6,2118.6 1005.6,2127.9 1005.5,2129.6 1005.3,2131.2 1004.9,2132.7 1004.4,2134.3 1003.8,2135.8 1003.0,2137.2 998.6,2144.5 997.7,2145.9 996.7,2147.1 995.6,2148.3 994.4,2149.3 987.1,2155.2 985.1,2156.6 977.8,2161.0 976.0,2161.9 974.1,2162.6 962.4,2166.5 962.0,2166.6 951.7,2169.6 948.6,2171.2 946.3,2174.7 942.6,2183.4 941.8,2185.0 940.9,2186.5 939.8,2187.9 938.6,2189.2 937.2,2190.4 935.8,2191.4 934.2,2192.3 932.6,2193.0 930.9,2193.6 929.2,2194.0 927.4,2194.2 925.7,2194.3 923.9,2194.2 922.1,2193.9 920.4,2193.4 918.8,2192.8 917.2,2192.0 915.7,2191.0 914.3,2189.9 913.0,2188.7 911.8,2187.4 910.8,2185.9 909.9,2184.4 905.5,2175.6 905.1,2174.6 902.6,2168.8 900.6,2167.3 899.3,2166.2 898.1,2165.1 897.1,2163.8Z" fill="#84aaff"/>
<path d="M905.1,2200.5 904.1,2202.3 902.2,2204.9 900.1,2207.3 899.3,2208.1 899.0,2209.1 897.8,2212.0 896.3,2214.7 896.3,2214.8 896.4,2216.7 896.4,2220.1 896.0,2223.5 893.5,2238.9 894.4,2239.6 894.7,2240.0 896.8,2240.3 899.8,2241.1 902.7,2242.2 905.5,2243.6 908.2,2245.2 910.6,2247.1 912.9,2249.3 915.0,2251.6 916.8,2254.1 918.4,2256.8 919.7,2259.6 920.7,2262.6 921.4,2265.6 921.8,2268.7 922.0,2271.8 921.8,2274.9 921.6,2277.2 922.3,2278.2 924.1,2280.8 925.6,2283.6 926.8,2286.5 927.8,2289.6 928.1,2290.9 929.6,2292.8 934.0,2298.7 935.7,2301.1 937.1,2303.7 938.3,2306.4 939.2,2309.2 939.9,2312.0 940.0,2312.6 941.9,2312.9 945.0,2313.6 948.0,2314.7 950.9,2316.1 953.7,2317.8 956.3,2319.7 958.6,2321.9 960.8,2324.3 962.6,2327.0 964.2,2329.8 965.5,2332.7 966.6,2335.8 967.2,2338.9 967.6,2342.1 967.9,2345.6 968.1,2345.6 969.3,2344.9 971.9,2343.4 974.6,2342.2 977.5,2341.3 978.1,2341.1 977.7,2338.6 977.6,2335.4 977.7,2332.3 978.2,2329.2 978.9,2326.2 980.0,2323.2 981.3,2320.4 982.9,2317.7 984.8,2315.2 986.9,2312.8 989.2,2310.7 991.8,2308.9 994.4,2307.2 997.3,2305.9 1000.2,2304.8 1003.3,2304.1 1005.6,2303.6 1008.6,2295.6 1008.4,2292.7 1008.4,2289.3 1008.8,2286.0 1009.5,2282.8 1010.6,2279.6 1012.0,2276.6 1013.7,2273.7 1016.6,2269.3 1018.5,2266.8 1020.6,2264.5 1022.9,2262.4 1025.4,2260.6 1028.0,2259.0 1030.8,2257.6 1033.8,2256.5 1036.8,2255.8 1039.9,2255.3 1043.0,2255.1 1046.1,2255.2 1049.2,2255.6 1052.2,2256.4 1055.2,2257.4 1062.5,2260.3 1065.3,2261.6 1067.9,2263.1 1070.4,2264.9 1072.7,2266.9 1074.8,2269.1 1078.6,2273.5 1081.0,2276.7 1084.3,2281.6 1089.5,2286.0 1091.7,2287.7 1091.9,2287.8 1095.2,2288.5 1098.4,2289.6 1101.5,2291.0 1104.4,2292.7 1113.2,2298.6 1115.7,2300.5 1118.1,2302.6 1125.4,2309.9 1127.2,2311.8 1128.8,2313.9 1136.1,2324.2 1138.0,2327.1 1139.5,2330.2 1143.9,2340.4 1144.4,2341.8 1148.8,2353.5 1149.7,2356.2 1150.3,2358.8 1150.7,2361.6 1151.3,2367.4 1151.5,2370.7 1151.3,2373.9 1150.8,2377.0 1150.0,2380.2 1149.0,2383.0 1149.3,2383.5 1150.4,2385.6 1154.8,2394.4 1156.1,2397.3 1157.1,2400.4 1157.8,2403.5 1159.2,2412.3 1159.6,2415.1 1159.7,2418.1 1159.5,2421.0 1159.0,2423.8 1158.3,2426.7 1157.4,2429.4 1155.3,2434.7 1154.9,2436.1 1157.2,2436.6 1160.2,2437.7 1163.1,2439.0 1165.9,2440.7 1168.4,2442.6 1170.8,2444.7 1170.9,2444.8 1173.0,2444.3 1176.2,2443.8 1179.4,2443.6 1182.7,2443.7 1185.9,2444.1 1188.8,2444.8 1189.5,2444.5 1192.4,2443.4 1195.5,2442.5 1198.6,2442.0 1201.4,2441.8 1202.7,2441.0 1205.3,2439.7 1208.0,2438.6 1210.9,2437.7 1213.8,2437.2 1219.6,2436.3 1222.9,2436.0 1226.2,2436.0 1229.5,2436.3 1232.7,2437.0 1233.6,2437.3 1235.4,2437.0 1238.4,2436.8 1241.5,2436.9 1244.6,2437.3 1244.7,2437.3 1245.4,2437.2 1247.0,2437.0 1247.4,2436.8 1248.2,2436.4 1258.8,2431.1 1263.2,2428.4 1262.9,2426.4 1262.7,2423.3 1262.9,2420.2 1263.3,2417.2 1264.1,2414.2 1265.1,2411.3 1266.4,2408.5 1267.9,2405.9 1269.7,2403.4 1271.8,2401.1 1274.0,2399.0 1276.4,2397.1 1279.0,2395.5 1281.8,2394.1 1284.6,2393.0 1284.8,2393.0 1285.3,2391.6 1286.8,2388.6 1288.5,2385.9 1292.0,2380.9 1294.0,2378.4 1295.7,2376.6 1295.7,2376.5 1296.9,2373.9 1301.3,2365.1 1303.0,2362.1 1305.0,2359.3 1307.3,2356.8 1313.1,2350.9 1315.5,2348.8 1318.0,2346.9 1318.7,2346.5 1317.9,2343.2 1317.3,2340.3 1317.0,2337.3 1317.0,2334.2 1317.2,2331.2 1317.8,2328.2 1318.6,2325.3 1319.7,2322.5 1321.0,2319.8 1322.6,2317.3 1324.5,2314.9 1326.5,2312.6 1328.8,2310.6 1329.5,2310.1 1330.3,2308.7 1332.5,2305.5 1335.1,2302.6 1336.6,2301.1 1336.0,2299.8 1334.7,2296.7 1333.9,2293.5 1333.3,2290.3 1333.1,2287.0 1333.2,2283.7 1333.6,2280.5 1335.1,2273.1 1336.8,2263.4 1337.4,2253.1 1336.3,2242.0 1334.4,2230.4 1332.3,2223.3 1331.4,2221.6 1327.8,2218.0 1326.5,2216.7 1325.1,2216.5 1322.1,2215.7 1319.1,2214.7 1316.3,2213.3 1313.6,2211.7 1311.1,2209.8 1308.7,2207.7 1306.6,2205.5 1305.3,2204.9 1302.6,2203.4 1300.0,2201.6 1297.6,2199.5 1295.5,2197.3 1293.5,2194.8 1291.9,2192.3 1291.3,2192.0 1288.5,2190.5 1285.9,2188.8 1283.4,2186.8 1281.2,2184.5 1279.2,2182.1 1277.5,2179.4 1276.0,2176.6 1273.9,2172.2 1272.7,2169.3 1271.8,2166.3 1271.3,2163.2 1271.0,2160.0 1271.0,2156.9 1271.3,2153.7 1272.0,2150.6 1272.9,2147.6 1274.2,2144.7 1275.7,2141.9 1277.5,2139.3 1279.5,2136.9 1283.6,2132.5 1286.0,2130.2 1288.6,2128.2 1291.3,2126.4 1294.3,2125.0 1295.9,2124.3 1295.4,2123.2 1293.7,2119.0 1291.5,2112.4 1289.6,2108.5 1288.2,2105.3 1287.1,2102.0 1285.7,2096.1 1285.0,2092.9 1285.0,2092.5 1282.1,2092.4 1279.0,2091.9 1275.9,2091.1 1272.8,2090.0 1270.0,2088.6 1267.2,2086.9 1264.7,2085.0 1262.3,2082.8 1260.2,2080.3 1258.4,2077.7 1256.8,2074.9 1255.5,2072.0 1254.5,2068.9 1254.5,2068.9 1254.4,2068.8 1254.3,2068.8 1254.0,2068.9 1250.6,2070.7 1242.7,2074.2 1239.7,2075.4 1236.6,2076.2 1233.5,2076.8 1230.4,2077.0 1227.2,2076.9 1224.0,2076.5 1221.0,2075.8 1217.9,2074.8 1215.1,2073.5 1212.3,2071.9 1209.7,2070.0 1207.4,2067.9 1205.2,2065.6 1203.3,2063.1 1201.6,2060.4 1200.2,2057.5 1199.1,2054.6 1198.6,2052.4 1198.0,2052.1 1196.8,2051.2 1196.4,2051.2 1195.7,2051.1 1186.9,2049.6 1184.4,2049.1 1178.8,2047.7 1174.7,2048.2 1171.4,2048.5 1168.0,2048.5 1164.7,2048.1 1161.5,2047.4 1158.3,2046.3 1151.0,2043.4 1148.5,2042.3 1136.8,2036.4 1126.6,2031.3 1118.1,2028.1 1108.7,2025.8 1107.6,2025.5 1106.4,2025.9 1101.8,2028.2 1094.7,2032.9 1092.6,2034.2 1090.5,2035.3 1086.1,2037.4 1083.1,2038.6 1080.0,2039.5 1076.9,2040.1 1073.7,2040.3 1070.4,2040.3 1067.2,2039.9 1064.1,2039.2 1061.5,2038.4 1059.3,2040.1 1056.5,2041.7 1053.7,2043.1 1052.7,2044.6 1048.3,2050.4 1046.4,2052.8 1044.3,2054.9 1041.9,2056.8 1039.3,2058.8 1037.6,2061.0 1032.9,2069.1 1032.6,2069.7 1031.3,2071.9 1031.2,2074.4 1030.8,2077.7 1030.1,2081.0 1029.0,2084.1 1027.6,2087.6 1026.6,2095.3 1026.3,2097.7 1025.7,2100.1 1022.7,2110.4 1021.9,2112.9 1020.8,2115.4 1019.7,2117.7 1019.6,2119.3 1019.6,2127.9 1019.4,2130.8 1019.1,2133.7 1018.4,2136.5 1017.5,2139.2 1016.4,2141.9 1015.0,2144.4 1010.6,2151.7 1009.0,2154.1 1007.3,2156.3 1005.3,2158.4 1003.2,2160.3 995.8,2166.1 992.3,2168.6 985.0,2173.0 981.8,2174.6 978.4,2176.0 966.7,2179.8 966.0,2180.0 958.3,2182.3 955.4,2188.9 954.0,2191.7 952.4,2194.4 950.5,2196.9 948.3,2199.3 945.9,2201.3 943.4,2203.2 940.6,2204.8 937.8,2206.1 934.8,2207.1 931.7,2207.8 928.5,2208.2 925.4,2208.3 922.2,2208.1 919.1,2207.5 916.1,2206.7 913.1,2205.6 910.3,2204.2 907.6,2202.5 905.1,2200.5 905.1,2200.5Z" fill="#b5ccff"/>
<path d="M860.9,2193.4 875.0,2195.2 873.2,2211.0 873.2,2228.6 876.7,2246.2 885.5,2253.2 899.6,2255.0 913.6,2253.2 920.7,2246.2 931.2,2242.7 940.0,2246.2 945.3,2253.2 957.6,2251.5 971.7,2246.2 985.7,2242.7 998.0,2237.4 1010.3,2230.3 1020.9,2221.6 1029.7,2211.0 1033.2,2196.9 1031.5,2182.9 1033.2,2168.8 1031.5,2154.7 1033.2,2140.7 1029.7,2126.6 1026.2,2114.3 1024.4,2102.0 1026.2,2087.9 1029.7,2075.6 1036.7,2061.5 1045.5,2047.5 1054.3,2036.9 1064.9,2026.4 1080.0,2017.6 1080.0,1991.2 1008.6,1991.2 973.4,2105.5 920.7,2158.3 885.5,2123.1 832.8,2105.5 832.8,2140.7 860.9,2175.8Z" fill="#84aaff"/>
<path d="M862.6,2193.4 878.5,2193.4 878.5,2211.0 880.2,2228.6 883.7,2240.9 896.1,2244.4 910.1,2242.7 917.2,2233.9 931.2,2232.1 943.5,2237.4 945.3,2244.4 955.8,2242.7 969.9,2237.4 984.0,2232.1 996.3,2226.8 1008.6,2219.8 1017.4,2211.0 1024.4,2200.5 1026.2,2186.4 1024.4,2172.3 1026.2,2158.3 1024.4,2144.2 1024.4,2130.1 1020.9,2119.6 1017.4,2105.5 1015.6,2095.0 1017.4,2082.6 1020.9,2070.3 1027.9,2056.3 1036.7,2042.2 1045.5,2031.7 1054.3,2021.1 1043.8,2008.8 1008.6,2017.6 973.4,2105.5 920.7,2158.3 885.5,2123.1 832.8,2105.5 832.8,2140.7 860.9,2175.8Z" fill="#4278ff"/>
<path d="M864.4,2193.4 882.0,2193.4 885.5,2207.5 883.7,2221.6 885.5,2233.9 896.1,2237.4 906.6,2235.6 908.4,2226.8 920.7,2223.3 933.0,2225.1 945.3,2226.8 955.8,2225.1 966.4,2223.3 976.9,2221.6 987.5,2219.8 998.0,2216.3 1006.8,2209.2 1013.9,2200.5 1017.4,2189.9 1015.6,2177.6 1017.4,2165.3 1015.6,2153.0 1017.4,2140.7 1015.6,2128.4 1012.1,2116.1 1008.6,2105.5 1006.8,2095.0 1008.6,2084.4 1012.1,2073.9 1015.6,2063.3 1022.7,2049.2 1031.5,2035.2 1040.2,2024.6 1029.7,2010.6 999.8,2035.2 973.4,2105.5 920.7,2158.3 885.5,2123.1 832.8,2105.5 832.8,2140.7 860.9,2175.8Z" fill="#1b53ff"/>
<path d="M925.1,2176.7 927.7,2186.4 929.5,2193.4 938.3,2202.2 948.8,2207.5 959.4,2213.6 969.9,2216.3 980.5,2211.0 991.0,2207.5 998.0,2198.7 1005.1,2189.9 1003.3,2179.4 1006.8,2168.8 1003.3,2158.3 1001.6,2147.7 1006.8,2138.9 1008.6,2126.6 1005.1,2116.1 999.8,2107.3 996.3,2098.5 998.0,2087.9 1003.3,2077.4 1008.6,2066.8 991.0,2066.8 973.4,2123.1 929.5,2158.3Z" fill="#0030e1"/>
<path d="M887.3,2165.3 894.3,2162.7 903.1,2164.4 909.2,2168.8 910.1,2175.8 906.6,2182.9 897.8,2186.4 889.0,2184.6 885.5,2175.8Z" fill="#0030e1"/>
<path d="M832.8,2138.9 857.4,2142.4 875.0,2149.5 880.2,2158.3 878.5,2182.9 864.4,2186.4 850.3,2158.3 838.0,2147.7Z" fill="#0030e1"/>
<path d="M833.6,2124.5 846.8,2123.8 863.5,2129.8 878.5,2136.8 892.5,2145.1 901.3,2157.4 894.3,2159.1 878.5,2150.3 860.0,2141.6 844.7,2134.5 834.2,2131.0Z" fill="#84aaff"/>
<path d="M834.9,2124.1 846.8,2124.8 862.6,2131.0 876.7,2138.0 889.9,2145.6 896.1,2153.9 892.5,2155.6 878.5,2147.4 861.8,2138.9 845.9,2131.9 835.4,2128.4Z" fill="#b5ccff"/>
<path d="M836.3,2124.0 846.8,2125.9 860.9,2131.9 875.0,2138.9 887.3,2146.3 892.5,2151.6 890.8,2152.6 878.5,2144.5 862.6,2136.3 846.8,2129.2 836.6,2125.9Z" fill="#d6eaff"/>
<path d="M840.7,2247.6 839.3,2248.7 838.0,2250.0 836.8,2251.4 835.8,2253.0 835.0,2254.6 832.9,2259.0 832.2,2260.7 831.7,2262.4 831.4,2264.2 831.2,2266.0 831.3,2267.8 831.5,2269.7 831.9,2271.4 833.7,2277.8 835.0,2285.7 835.4,2287.4 835.9,2289.1 836.7,2290.8 837.5,2292.3 838.6,2293.8 839.7,2295.1 841.0,2296.4 842.5,2297.5 844.0,2298.4 845.6,2299.2 847.3,2299.8 849.0,2300.3 850.8,2300.6 852.6,2300.7 854.4,2300.6 856.1,2300.4 856.5,2300.3 857.6,2300.8 859.2,2301.4 860.9,2301.8 862.7,2302.1 864.5,2302.2 866.2,2302.1 867.1,2302.0 867.0,2303.2 867.1,2305.0 867.3,2306.7 867.8,2308.4 868.3,2309.8 868.1,2310.6 867.9,2312.4 867.9,2314.1 868.0,2315.9 868.4,2317.6 868.8,2319.3 869.5,2321.0 870.3,2322.5 871.3,2324.0 872.4,2325.4 873.6,2326.6 874.9,2327.8 876.2,2328.7 876.0,2329.8 875.8,2331.6 875.8,2333.3 876.0,2335.1 876.3,2336.9 877.8,2342.8 878.3,2344.4 878.9,2346.0 879.7,2347.5 880.4,2348.6 880.3,2349.8 880.2,2351.6 880.3,2353.3 880.5,2355.1 880.9,2356.8 881.5,2358.4 882.3,2360.0 883.2,2361.6 886.1,2366.0 887.2,2367.4 888.4,2368.7 889.7,2369.9 891.1,2370.9 892.6,2371.8 894.2,2372.6 895.9,2373.2 897.6,2373.6 899.3,2373.9 901.1,2374.0 902.9,2373.9 904.6,2373.6 906.3,2373.2 908.0,2372.6 909.6,2371.8 911.1,2370.9 912.5,2369.9 913.8,2368.7 914.4,2368.2 914.6,2368.1 918.6,2368.1 918.7,2368.6 919.2,2370.5 922.1,2379.2 922.8,2380.9 923.5,2382.4 924.5,2383.9 925.5,2385.3 926.7,2386.5 928.0,2387.7 929.4,2388.7 930.9,2389.5 932.5,2390.3 938.4,2392.6 939.8,2393.1 941.2,2393.5 942.7,2393.7 951.0,2394.9 952.3,2395.6 953.8,2396.4 955.4,2397.0 957.0,2397.5 963.0,2399.0 970.6,2402.0 972.3,2402.6 974.1,2403.0 975.9,2403.2 977.7,2403.3 979.5,2403.1 981.3,2402.8 983.1,2402.3 984.7,2401.7 986.4,2400.8 987.9,2399.9 989.3,2398.7 990.6,2397.4 991.7,2396.0 992.5,2394.9 992.8,2395.3 993.9,2396.5 998.3,2400.9 999.7,2402.2 1001.2,2403.3 1002.8,2404.2 1004.5,2405.0 1006.2,2405.6 1008.0,2406.0 1009.9,2406.2 1011.7,2406.2 1013.6,2406.0 1015.4,2405.7 1021.2,2404.2 1022.9,2403.7 1024.5,2403.1 1026.0,2402.3 1027.4,2401.4 1028.7,2400.3 1030.0,2399.1 1031.1,2397.8 1032.0,2396.4 1032.9,2395.0 1033.6,2393.4 1034.2,2391.8 1034.6,2390.1 1034.8,2388.4 1034.9,2386.7 1034.9,2380.4 1035.3,2379.7 1036.2,2378.2 1036.8,2376.5 1037.3,2374.8 1037.6,2373.0 1037.8,2371.2 1037.8,2369.4 1037.6,2367.7 1036.1,2358.9 1035.8,2357.5 1034.4,2351.9 1034.7,2351.8 1036.2,2351.0 1037.7,2350.0 1039.0,2349.0 1040.3,2347.8 1041.4,2346.4 1042.4,2345.0 1043.2,2343.5 1046.2,2337.6 1046.9,2335.9 1051.3,2324.2 1052.7,2320.4 1057.5,2324.4 1066.3,2331.7 1067.9,2332.8 1069.5,2333.8 1071.2,2334.6 1073.0,2335.2 1074.9,2335.6 1079.9,2336.5 1084.0,2339.2 1089.0,2344.2 1094.3,2351.7 1097.8,2359.8 1099.4,2364.0 1099.0,2364.2 1097.6,2365.2 1096.3,2366.3 1095.1,2367.6 1094.0,2368.9 1093.0,2370.4 1092.2,2372.0 1091.6,2373.6 1091.1,2375.3 1090.8,2377.0 1090.6,2378.7 1090.7,2380.5 1090.8,2382.2 1091.2,2384.0 1091.7,2385.6 1092.4,2387.2 1093.2,2388.8 1094.2,2390.2 1098.1,2395.3 1102.0,2401.9 1106.0,2408.6 1108.9,2414.4 1109.1,2415.5 1108.0,2418.2 1108.0,2418.3 1107.0,2419.2 1105.7,2420.5 1104.6,2422.0 1103.7,2423.5 1102.9,2425.1 1102.3,2426.8 1101.8,2428.6 1101.6,2430.4 1101.5,2432.2 1101.6,2434.0 1101.7,2435.7 1101.6,2435.8 1100.3,2437.0 1099.1,2438.3 1098.1,2439.7 1097.2,2441.3 1096.4,2442.9 1095.8,2444.5 1095.4,2446.2 1095.1,2448.0 1095.0,2449.7 1095.1,2451.5 1095.4,2453.3 1095.8,2455.0 1096.4,2456.6 1097.1,2458.2 1098.0,2459.7 1099.1,2461.2 1100.3,2462.5 1101.6,2463.7 1103.0,2464.7 1104.5,2465.6 1106.1,2466.4 1107.8,2467.0 1109.5,2467.4 1111.2,2467.7 1113.0,2467.8 1114.8,2467.7 1116.5,2467.4 1118.2,2467.0 1119.9,2466.4 1121.5,2465.6 1123.0,2464.7 1127.4,2461.8 1128.9,2460.7 1130.3,2459.4 1131.5,2458.0 1132.6,2456.5 1133.5,2454.9 1136.4,2449.0 1137.1,2447.5 1137.7,2445.9 1138.1,2444.2 1138.3,2442.6 1138.3,2440.9 1138.3,2440.5 1138.8,2439.8 1139.6,2438.3 1140.2,2436.7 1140.7,2435.1 1141.9,2430.4 1144.4,2424.2 1144.9,2422.7 1145.3,2421.1 1145.6,2419.5 1145.7,2417.8 1145.6,2416.2 1145.4,2414.6 1144.0,2405.8 1143.6,2404.0 1143.0,2402.3 1142.3,2400.7 1137.9,2391.9 1137.2,2390.7 1132.9,2383.3 1132.6,2383.0 1133.2,2382.3 1134.3,2380.8 1135.2,2379.3 1136.0,2377.7 1136.7,2376.0 1137.1,2374.2 1137.4,2372.4 1137.5,2370.6 1137.4,2368.8 1136.8,2363.0 1136.6,2361.4 1136.2,2359.9 1135.7,2358.4 1131.3,2346.7 1131.0,2346.0 1126.6,2335.7 1125.8,2334.0 1124.7,2332.3 1117.4,2322.1 1116.5,2320.9 1115.5,2319.8 1108.2,2312.5 1106.8,2311.3 1105.4,2310.2 1096.6,2304.4 1095.0,2303.4 1093.3,2302.6 1091.5,2302.0 1089.6,2301.6 1085.6,2300.9 1080.6,2296.7 1073.8,2291.1 1069.4,2284.4 1068.0,2282.6 1064.2,2278.2 1063.0,2277.0 1061.7,2275.9 1060.3,2274.9 1058.8,2274.0 1057.3,2273.3 1050.0,2270.4 1048.3,2269.8 1046.6,2269.4 1044.9,2269.2 1043.1,2269.1 1041.4,2269.2 1039.6,2269.5 1037.9,2269.9 1036.3,2270.5 1034.7,2271.3 1033.2,2272.2 1031.8,2273.2 1030.5,2274.4 1029.3,2275.7 1028.3,2277.1 1025.4,2281.5 1024.4,2283.1 1023.6,2284.8 1023.0,2286.6 1022.6,2288.4 1022.4,2290.3 1022.3,2292.2 1022.5,2294.0 1022.9,2295.9 1023.1,2296.6 1021.9,2300.1 1017.6,2311.6 1015.9,2316.0 1015.4,2316.1 1013.3,2316.3 1006.0,2317.8 1004.3,2318.2 1002.6,2318.8 1001.1,2319.6 999.5,2320.5 998.1,2321.5 996.8,2322.7 995.6,2324.0 994.6,2325.5 993.7,2327.0 992.9,2328.6 992.3,2330.2 991.9,2331.9 991.6,2333.7 991.6,2335.4 991.6,2337.2 991.9,2339.0 992.3,2340.7 992.9,2342.3 993.7,2343.9 994.6,2345.4 995.9,2347.5 997.4,2352.5 996.7,2352.3 995.1,2352.1 993.4,2352.0 991.8,2352.1 990.2,2352.3 988.6,2352.7 981.3,2354.8 979.7,2355.3 978.1,2356.0 976.6,2356.8 975.3,2357.7 974.0,2358.8 972.8,2360.0 971.7,2361.3 970.9,2362.4 969.7,2361.5 968.2,2360.6 966.6,2359.8 964.9,2359.3 963.2,2358.8 961.5,2358.6 959.7,2358.5 957.9,2358.6 954.3,2358.9 954.3,2353.0 954.2,2351.8 953.7,2343.1 953.4,2341.3 953.1,2339.5 952.5,2337.8 951.7,2336.1 950.8,2334.5 949.8,2333.1 948.6,2331.7 947.3,2330.5 945.8,2329.4 944.3,2328.4 942.6,2327.6 940.9,2327.0 939.2,2326.6 937.4,2326.3 935.6,2326.2 933.8,2326.4 932.0,2326.6 930.2,2327.1 928.5,2327.7 925.6,2329.0 925.8,2328.6 926.1,2327.0 926.4,2325.4 926.4,2323.7 926.4,2317.9 926.4,2316.2 926.1,2314.6 925.8,2313.0 925.2,2311.4 924.6,2309.9 923.8,2308.4 922.8,2307.1 918.4,2301.2 917.3,2299.9 916.1,2298.6 915.5,2298.1 914.2,2293.0 913.7,2291.3 913.0,2289.6 912.1,2288.0 911.1,2286.6 908.1,2282.6 907.2,2280.2 907.9,2273.4 908.0,2271.7 907.9,2269.9 907.7,2268.2 907.2,2266.5 906.7,2264.9 905.9,2263.3 905.1,2261.7 904.0,2260.3 902.9,2259.0 901.6,2257.8 900.2,2256.8 898.7,2255.8 897.1,2255.1 895.5,2254.4 893.8,2254.0 892.1,2253.7 890.3,2253.6 888.6,2253.6 888.2,2253.7 887.6,2252.7 886.4,2251.4 885.1,2250.1 883.7,2249.0 882.2,2248.0 880.6,2247.2 879.0,2246.6 875.9,2245.6 875.8,2245.0 875.1,2243.3 874.3,2241.7 873.4,2240.2 872.3,2238.8 871.1,2237.5 869.8,2236.4 868.4,2235.3 866.8,2234.5 865.2,2233.7 863.6,2233.2 861.8,2232.8 860.1,2232.5 858.3,2232.5 856.6,2232.6 854.8,2232.9 853.1,2233.3 851.5,2233.9 849.9,2234.7 848.4,2235.7 847.0,2236.7 845.7,2237.9 844.5,2239.3 843.5,2240.7 842.6,2242.2 841.9,2243.8 841.3,2245.5 840.7,2247.6Z" fill="#84aaff"/>
<path d="M845.0,2250.8 844.8,2250.9 843.7,2251.7 842.6,2252.5 841.7,2253.4 840.9,2254.4 840.1,2255.5 839.5,2256.7 837.5,2261.1 837.0,2262.3 836.6,2263.6 836.3,2264.9 836.2,2266.2 836.3,2267.5 836.4,2268.8 836.7,2270.1 838.6,2276.7 839.9,2284.8 840.2,2286.1 840.6,2287.3 841.1,2288.5 841.8,2289.6 842.5,2290.7 843.4,2291.7 844.3,2292.6 845.3,2293.4 846.4,2294.1 847.6,2294.6 848.8,2295.1 850.0,2295.4 851.3,2295.6 852.6,2295.7 853.9,2295.6 855.2,2295.5 856.5,2295.2 857.2,2294.9 857.2,2295.0 858.3,2295.6 859.5,2296.2 860.7,2296.6 861.9,2296.9 863.2,2297.1 864.5,2297.2 865.7,2297.1 867.0,2296.9 868.2,2296.6 869.4,2296.2 870.6,2295.6 871.7,2295.0 875.4,2292.5 878.2,2291.1 878.5,2291.9 877.8,2292.4 876.8,2293.2 875.8,2294.0 874.9,2295.0 874.2,2296.0 873.5,2297.1 873.0,2298.2 872.6,2299.4 872.2,2300.7 872.1,2301.9 872.0,2303.2 872.1,2304.5 872.2,2305.7 872.5,2307.0 873.0,2308.2 873.5,2309.3 873.5,2309.4 873.3,2310.2 873.0,2311.4 872.9,2312.7 872.9,2314.0 873.0,2315.2 873.2,2316.5 873.6,2317.7 874.0,2318.9 874.6,2320.0 875.3,2321.1 876.1,2322.1 877.0,2323.0 878.0,2323.8 882.1,2326.9 881.6,2328.0 881.2,2329.3 880.9,2330.5 880.8,2331.8 880.8,2333.1 880.9,2334.4 881.2,2335.7 882.6,2341.5 883.0,2342.7 883.5,2343.9 884.0,2345.0 884.7,2346.0 885.5,2347.0 885.9,2347.4 885.7,2347.8 885.4,2349.0 885.2,2350.3 885.2,2351.6 885.2,2352.8 885.4,2354.1 885.7,2355.3 886.2,2356.5 886.7,2357.7 887.4,2358.8 890.3,2363.2 891.1,2364.2 891.9,2365.2 892.9,2366.0 893.9,2366.8 895.0,2367.4 896.1,2368.0 897.3,2368.4 898.6,2368.7 899.8,2368.9 901.1,2369.0 902.4,2368.9 903.6,2368.7 904.9,2368.4 906.1,2368.0 907.2,2367.4 908.3,2366.8 909.4,2366.0 910.3,2365.2 911.9,2363.6 914.1,2363.1 921.6,2363.1 922.9,2363.1 923.3,2363.0 923.3,2364.8 923.4,2366.2 923.6,2367.5 923.9,2368.9 926.9,2377.7 927.3,2378.8 927.9,2380.0 928.6,2381.0 929.3,2382.0 930.2,2382.9 931.1,2383.7 932.2,2384.5 933.2,2385.1 934.4,2385.6 940.2,2388.0 941.3,2388.3 942.3,2388.6 943.4,2388.8 952.1,2390.0 952.9,2390.0 953.7,2390.6 954.8,2391.3 955.8,2391.9 957.0,2392.3 958.2,2392.6 964.6,2394.2 972.5,2397.4 973.7,2397.8 975.0,2398.1 976.3,2398.2 977.6,2398.3 978.9,2398.2 980.2,2398.0 981.5,2397.6 982.7,2397.1 983.8,2396.5 984.9,2395.8 986.0,2395.0 986.9,2394.1 987.7,2393.1 988.5,2392.0 992.5,2385.2 993.3,2384.2 994.0,2387.0 994.3,2388.1 994.8,2389.2 995.3,2390.2 995.9,2391.2 996.6,2392.1 997.4,2393.0 1001.8,2397.4 1002.8,2398.3 1003.9,2399.1 1005.1,2399.8 1006.3,2400.3 1007.5,2400.7 1008.9,2401.0 1010.2,2401.2 1011.5,2401.2 1012.9,2401.1 1014.2,2400.8 1020.0,2399.4 1021.2,2399.0 1022.3,2398.5 1023.4,2398.0 1024.5,2397.3 1025.4,2396.5 1026.3,2395.7 1027.1,2394.7 1027.8,2393.7 1028.4,2392.7 1029.0,2391.6 1029.4,2390.4 1029.6,2389.2 1029.8,2388.0 1029.9,2386.7 1029.9,2379.4 1029.9,2378.9 1030.3,2378.3 1031.0,2377.2 1031.6,2376.1 1032.1,2374.9 1032.5,2373.6 1032.7,2372.4 1032.8,2371.1 1032.8,2369.8 1032.6,2368.5 1031.2,2359.7 1031.0,2358.7 1028.4,2348.4 1029.0,2348.3 1030.3,2348.1 1031.5,2347.7 1032.6,2347.2 1033.7,2346.7 1034.8,2346.0 1035.7,2345.2 1036.6,2344.3 1037.4,2343.4 1038.2,2342.4 1038.8,2341.3 1041.7,2335.4 1042.2,2334.2 1046.6,2322.4 1050.6,2311.9 1051.0,2312.4 1051.9,2313.2 1060.7,2320.5 1069.5,2327.9 1070.6,2328.7 1071.8,2329.4 1073.1,2330.0 1074.4,2330.4 1075.7,2330.7 1081.8,2331.7 1087.2,2335.3 1092.8,2341.0 1098.7,2349.2 1102.4,2357.9 1105.6,2366.4 1102.8,2367.8 1101.7,2368.4 1100.7,2369.1 1099.7,2370.0 1098.8,2370.9 1098.1,2371.9 1097.4,2372.9 1096.8,2374.0 1096.3,2375.2 1096.0,2376.4 1095.7,2377.7 1095.6,2378.9 1095.6,2380.2 1095.8,2381.5 1096.0,2382.7 1096.4,2383.9 1096.9,2385.1 1097.5,2386.2 1098.2,2387.2 1102.2,2392.5 1106.3,2399.3 1110.4,2406.2 1113.7,2412.8 1114.3,2416.1 1112.7,2420.0 1112.2,2421.4 1111.4,2422.0 1110.4,2422.8 1109.5,2423.8 1108.8,2424.8 1108.1,2425.9 1107.5,2427.1 1107.1,2428.3 1106.7,2429.6 1106.5,2430.9 1106.5,2432.2 1106.5,2433.5 1107.0,2438.1 1105.8,2438.9 1104.8,2439.7 1103.8,2440.6 1103.0,2441.5 1102.2,2442.5 1101.6,2443.6 1101.0,2444.8 1100.6,2446.0 1100.3,2447.2 1100.1,2448.5 1100.0,2449.7 1100.1,2451.0 1100.3,2452.3 1100.6,2453.5 1101.0,2454.7 1101.5,2455.9 1102.2,2457.0 1103.0,2458.0 1103.8,2458.9 1104.8,2459.8 1105.8,2460.6 1106.9,2461.2 1108.0,2461.8 1109.2,2462.2 1110.5,2462.5 1111.7,2462.7 1113.0,2462.8 1114.3,2462.7 1115.5,2462.5 1116.8,2462.2 1118.0,2461.8 1119.1,2461.2 1120.2,2460.6 1124.6,2457.6 1125.7,2456.8 1126.7,2455.9 1127.6,2454.9 1128.4,2453.8 1129.0,2452.6 1132.0,2446.8 1132.5,2445.7 1132.9,2444.5 1133.1,2443.3 1133.3,2442.1 1133.3,2440.9 1133.3,2439.7 1133.2,2439.1 1133.8,2438.4 1134.5,2437.3 1135.1,2436.2 1135.5,2435.1 1135.9,2433.9 1137.1,2428.9 1139.7,2422.3 1140.1,2421.2 1140.4,2420.1 1140.6,2418.9 1140.7,2417.7 1140.6,2416.6 1140.5,2415.4 1139.0,2406.6 1138.8,2405.3 1138.4,2404.1 1137.8,2402.9 1133.4,2394.1 1133.0,2393.2 1128.6,2385.9 1126.5,2382.4 1129.4,2379.0 1130.2,2378.0 1130.9,2376.9 1131.4,2375.7 1131.9,2374.5 1132.2,2373.2 1132.4,2371.9 1132.5,2370.6 1132.4,2369.3 1131.8,2363.5 1131.7,2362.4 1131.4,2361.3 1131.1,2360.2 1126.7,2348.5 1126.4,2347.9 1122.0,2337.7 1121.4,2336.4 1120.7,2335.2 1113.3,2325.0 1112.7,2324.1 1112.0,2323.3 1104.6,2316.0 1103.7,2315.1 1102.6,2314.4 1093.9,2308.5 1092.7,2307.8 1091.4,2307.2 1090.1,2306.8 1088.8,2306.5 1083.5,2305.6 1077.4,2300.6 1070.0,2294.4 1065.2,2287.2 1064.2,2285.9 1060.4,2281.5 1059.6,2280.6 1058.6,2279.8 1057.6,2279.1 1056.5,2278.5 1055.4,2278.0 1048.1,2275.0 1046.9,2274.6 1045.7,2274.3 1044.4,2274.1 1043.1,2274.1 1041.9,2274.2 1040.6,2274.4 1039.4,2274.7 1038.2,2275.1 1037.1,2275.7 1036.0,2276.3 1035.0,2277.1 1034.1,2277.9 1033.2,2278.9 1032.5,2279.9 1029.5,2284.3 1028.8,2285.4 1028.3,2286.7 1027.8,2288.0 1027.5,2289.3 1027.4,2290.6 1027.3,2292.0 1027.5,2293.3 1027.7,2294.6 1028.3,2296.8 1026.6,2301.8 1022.3,2313.3 1019.3,2321.2 1018.7,2321.1 1017.3,2321.0 1015.8,2321.0 1014.3,2321.2 1007.0,2322.7 1005.8,2323.0 1004.6,2323.5 1003.4,2324.0 1002.3,2324.7 1001.3,2325.4 1000.4,2326.3 999.5,2327.2 998.7,2328.2 998.1,2329.3 997.5,2330.5 997.1,2331.7 996.8,2332.9 996.6,2334.2 996.6,2335.5 996.6,2336.7 996.8,2338.0 997.1,2339.2 997.5,2340.4 998.1,2341.6 998.7,2342.7 1000.5,2345.4 1002.9,2353.5 1004.4,2359.6 1004.3,2359.6 996.9,2357.5 995.8,2357.3 994.6,2357.1 993.4,2357.0 992.2,2357.1 991.1,2357.3 989.9,2357.5 982.6,2359.6 981.4,2360.0 980.3,2360.4 979.3,2361.0 978.3,2361.7 977.3,2362.5 976.5,2363.4 975.7,2364.3 972.0,2369.3 971.6,2369.1 970.2,2368.8 969.8,2368.2 968.9,2367.3 968.0,2366.4 966.9,2365.7 965.8,2365.0 964.7,2364.5 963.5,2364.0 962.2,2363.7 961.0,2363.5 959.7,2363.5 958.4,2363.6 954.1,2364.0 949.5,2363.4 949.3,2362.7 949.3,2353.0 949.3,2352.2 948.7,2343.4 948.5,2342.1 948.2,2340.8 947.8,2339.6 947.3,2338.4 946.6,2337.2 945.9,2336.2 945.0,2335.2 944.1,2334.3 943.0,2333.5 941.9,2332.8 940.7,2332.3 939.5,2331.8 938.2,2331.5 936.9,2331.3 935.6,2331.2 934.3,2331.3 933.0,2331.5 931.7,2331.9 930.5,2332.3 923.9,2335.2 919.1,2337.1 914.7,2337.1 918.8,2331.5 919.5,2330.5 920.1,2329.5 920.6,2328.4 920.9,2327.3 921.2,2326.1 921.4,2324.9 921.4,2323.7 921.4,2317.9 921.4,2316.7 921.2,2315.5 920.9,2314.3 920.6,2313.2 920.1,2312.1 919.5,2311.1 918.8,2310.1 914.4,2304.2 913.6,2303.2 912.7,2302.3 911.7,2301.5 911.0,2301.0 910.8,2300.1 909.3,2294.2 908.9,2293.0 908.5,2291.8 907.8,2290.6 907.1,2289.6 903.7,2285.1 902.1,2280.9 902.9,2272.9 903.0,2271.7 902.9,2270.4 902.7,2269.1 902.4,2267.9 902.0,2266.7 901.5,2265.6 900.9,2264.5 900.1,2263.4 899.3,2262.5 898.4,2261.6 897.4,2260.9 896.3,2260.2 895.2,2259.6 894.0,2259.2 892.7,2258.9 891.5,2258.7 890.2,2258.6 889.0,2258.6 887.7,2258.8 885.5,2259.2 885.0,2258.0 884.3,2256.8 883.6,2255.8 882.8,2254.8 881.8,2253.9 880.8,2253.1 879.7,2252.4 878.6,2251.8 877.4,2251.3 873.0,2249.9 871.8,2249.5 871.6,2249.5 871.5,2249.0 871.3,2247.7 871.0,2246.5 870.5,2245.3 870.0,2244.1 869.3,2243.1 868.5,2242.1 867.7,2241.1 866.7,2240.3 865.7,2239.5 864.6,2238.9 863.4,2238.4 862.2,2238.0 860.9,2237.7 859.7,2237.5 858.4,2237.5 857.1,2237.5 855.9,2237.8 854.6,2238.1 853.4,2238.5 852.3,2239.1 851.2,2239.8 850.2,2240.5 849.3,2241.4 848.4,2242.4 847.7,2243.4 847.0,2244.5 846.5,2245.7 846.1,2246.9 845.0,2250.8Z" fill="#b5ccff"/>
<path d="M889.2,2270.6 899.8,2295.2 908.6,2312.8 913.9,2321.5 919.1,2330.3 931.4,2337.4 938.5,2344.4 945.5,2355.0 949.0,2365.5 938.5,2365.5 935.8,2344.4 899.8,2353.2 892.8,2328.6 906.8,2312.8 891.0,2286.4Z" fill="#d6eaff"/>
<path d="M1121.3,2427.0 1140.0,2418.3 1140.0,2471.0 1116.1,2467.5Z" fill="#84aaff"/>
<path d="M943.7,2314.5 956.1,2300.4 970.1,2291.7 985.9,2286.4 1003.5,2286.4 1019.4,2289.9 1033.4,2293.4 1042.2,2288.1 1038.7,2312.8 1026.4,2335.6 1019.4,2372.5 1015.8,2386.6 1005.3,2383.1 994.7,2369.0 980.7,2377.8 978.9,2384.8 963.1,2377.8 952.5,2358.5 945.5,2335.6Z" fill="#84aaff"/>
<path d="M970.1,2326.8 978.9,2312.8 991.2,2304.0 1005.3,2300.4 1021.1,2302.2 1033.4,2307.5 1036.9,2318.0 1026.4,2335.6 1019.4,2372.5 1015.8,2386.6 1005.3,2383.1 994.7,2369.0 985.9,2372.5 980.7,2372.5 975.4,2358.5 971.9,2342.6Z" fill="#4278ff"/>
<path d="M987.7,2342.6 994.7,2333.9 1005.3,2326.8 1015.8,2321.5 1026.4,2319.8 1033.4,2326.8 1033.4,2337.4 1042.2,2344.4 1044.0,2358.5 1042.2,2372.5 1035.2,2383.1 1022.9,2388.4 1012.3,2386.6 1005.3,2379.6 998.3,2372.5 991.2,2362.0 985.9,2351.4Z" fill="#1b53ff"/>
<path d="M1050.3,2059.9 1064.4,2048.1 1080.8,2048.1 1097.2,2050.5 1106.6,2066.9 1111.3,2085.7 1120.7,2078.6 1134.7,2069.2 1144.1,2062.2 1148.8,2078.6 1144.1,2097.4 1141.8,2118.5 1130.1,2130.2 1116.0,2137.2 1101.9,2132.5 1087.9,2141.9 1078.5,2160.7 1069.1,2151.3 1062.1,2132.5 1050.3,2118.5 1043.3,2097.4 1043.3,2078.6Z" fill="#d6eaff"/>
<path d="M1155.8,2045.8 1172.3,2043.4 1191.0,2055.2 1202.7,2069.2 1200.4,2083.3 1186.3,2081.0 1174.6,2088.0 1165.2,2073.9 1158.2,2059.9Z" fill="#d6eaff"/>
<path d="M1186.3,2170.1 1198.1,2151.3 1214.5,2144.3 1228.5,2151.3 1237.9,2165.4 1256.7,2179.4 1275.4,2188.8 1294.2,2198.2 1312.9,2209.9 1327.0,2226.3 1336.4,2245.1 1341.1,2266.2 1338.7,2287.3 1331.7,2306.0 1317.6,2320.1 1298.9,2329.5 1280.1,2331.8 1263.7,2327.2 1268.4,2308.4 1280.1,2287.3 1282.5,2268.5 1273.1,2254.5 1261.4,2242.7 1280.1,2231.0 1261.4,2226.3 1237.9,2221.6 1214.5,2217.0 1195.7,2207.6 1181.6,2198.2 1167.6,2205.2 1158.2,2193.5 1172.3,2181.8Z" fill="#d6eaff"/>
<path d="M989.4,2259.2 1003.4,2254.5 1026.9,2250.9 1050.3,2253.3 1073.8,2262.7 1092.5,2272.1 1111.3,2277.9 1130.1,2282.6 1148.8,2296.7 1165.2,2313.1 1179.3,2327.2 1186.3,2343.6 1184.0,2360.0 1188.7,2378.7 1179.3,2397.5 1162.9,2406.9 1144.1,2397.5 1130.1,2385.8 1120.7,2376.4 1111.3,2360.0 1092.5,2324.8 1069.1,2310.7 1041.0,2289.6 1015.2,2275.6 994.1,2268.5Z" fill="#d6eaff"/>
<path d="M1244.9,2357.6 1256.7,2348.3 1273.1,2348.3 1282.5,2357.6 1277.8,2371.7 1263.7,2376.4 1249.6,2369.4Z" fill="#d6eaff"/>
<path d="M1247.3,2395.1 1259.0,2383.4 1270.7,2392.8 1273.1,2406.9 1261.4,2416.2 1249.6,2409.2Z" fill="#d6eaff"/>
<path d="M1111.3,2090.3 1120.7,2078.6 1125.4,2097.4 1120.7,2118.5 1113.6,2109.1Z" fill="#b5ccff"/>
<path d="M1090.2,2151.3 1106.6,2141.9 1101.9,2184.1 1090.2,2219.3 1080.8,2184.1Z" fill="#b5ccff"/>
<path d="M1130.1,2097.4 1139.4,2090.3 1141.8,2109.1 1134.7,2118.5Z" fill="#b5ccff"/>
<path d="M1073.8,2238.1 1111.3,2217.0 1144.1,2219.3 1179.3,2231.0 1214.5,2242.7 1249.6,2254.5 1256.7,2268.5 1242.6,2280.3 1214.5,2277.9 1186.3,2273.2 1158.2,2263.8 1130.1,2254.5 1101.9,2245.1Z" fill="#84aaff"/>
<path d="M1092.5,2234.5 1144.1,2226.3 1191.0,2238.1 1237.9,2256.8 1235.6,2261.5 1191.0,2245.1 1144.1,2232.2Z" fill="#b5ccff"/>
<path d="M1097.2,2242.7 1144.1,2245.1 1191.0,2256.8 1233.2,2270.9 1228.5,2275.6 1186.3,2263.8 1144.1,2252.1Z" fill="#b5ccff"/>
<path d="M1148.8,2106.8 1162.9,2099.7 1174.6,2109.1 1167.6,2123.2 1153.5,2120.8Z" fill="#84aaff"/>
<path d="M1181.6,2113.8 1198.1,2111.4 1205.1,2120.8 1191.0,2130.2 1181.6,2125.5Z" fill="#84aaff"/>
<path d="M1144.1,2153.6 1158.2,2149.0 1162.9,2160.7 1151.2,2170.1 1141.8,2165.4Z" fill="#84aaff"/>
<path d="M1073.8,2238.1 1078.5,2198.2 1085.5,2184.1 1083.2,2207.6Z" fill="#84aaff"/>
<path d="M1073.8,2238.1 1059.7,2207.6 1064.4,2198.2 1070.3,2219.3Z" fill="#84aaff"/>
<path d="M1073.8,2238.1 1038.6,2231.0 1036.3,2224.0 1057.4,2228.7Z" fill="#84aaff"/>
<path d="M1195.7,2301.4 1209.8,2299.0 1223.8,2315.4 1221.5,2324.8 1205.1,2315.4Z" fill="#84aaff"/>
<path d="M1249.6,2151.3 1266.0,2144.3 1284.8,2146.6 1303.6,2153.6 1315.3,2160.7 1303.6,2170.1 1284.8,2170.1 1266.0,2165.4 1252.0,2160.7Z" fill="#84aaff"/>
<path d="M1263.7,2149.0 1280.1,2147.8 1282.5,2152.5 1266.0,2153.6Z" fill="#4278ff"/>
<path d="M1075.4,2239.4 1106.3,2265.6 1105.4,2266.6Z" fill="#84aaff"/>
<path d="M1075.3,2239.6 1090.6,2254.8 1089.7,2255.7Z" fill="#84aaff"/>
<path d="M1075.2,2239.6 1087.0,2252.9 1086.3,2253.5Z" fill="#84aaff"/>
<path d="M1075.0,2239.7 1098.5,2271.3 1096.8,2272.5Z" fill="#b5ccff"/>
<path d="M1074.9,2239.8 1088.2,2261.0 1086.8,2261.8Z" fill="#84aaff"/>
<path d="M1074.8,2239.9 1090.3,2269.3 1088.7,2270.1Z" fill="#d6eaff"/>
<path d="M1074.6,2240.0 1086.6,2266.9 1084.6,2267.7Z" fill="#d6eaff"/>
<path d="M1074.5,2240.0 1084.1,2266.9 1083.1,2267.2Z" fill="#84aaff"/>
<path d="M1074.4,2240.0 1078.7,2256.7 1078.1,2256.8Z" fill="#d6eaff"/>
<path d="M1074.2,2240.1 1080.8,2279.2 1079.0,2279.5Z" fill="#84aaff"/>
<path d="M1074.0,2240.1 1076.6,2270.9 1075.6,2271.0Z" fill="#b5ccff"/>
<path d="M1073.9,2240.1 1074.8,2264.2 1073.4,2264.2Z" fill="#d6eaff"/>
<path d="M1073.8,2240.1 1073.0,2277.1 1071.0,2277.0Z" fill="#d6eaff"/>
<path d="M1073.6,2240.1 1070.0,2269.2 1068.6,2269.0Z" fill="#d6eaff"/>
<path d="M1073.4,2240.0 1069.7,2256.3 1068.9,2256.1Z" fill="#b5ccff"/>
<path d="M1073.2,2240.0 1063.8,2269.3 1062.0,2268.7Z" fill="#84aaff"/>
<path d="M1073.1,2239.9 1064.7,2261.8 1063.1,2261.1Z" fill="#b5ccff"/>
<path d="M1073.0,2239.9 1063.6,2258.6 1062.6,2258.1Z" fill="#b5ccff"/>
<path d="M1072.8,2239.7 1050.4,2273.6 1049.0,2272.6Z" fill="#d6eaff"/>
<path d="M1072.6,2239.6 1056.4,2261.0 1054.9,2259.7Z" fill="#b5ccff"/>
<path d="M1072.5,2239.6 1058.5,2255.6 1057.6,2254.7Z" fill="#84aaff"/>
<path d="M1072.5,2239.5 1043.6,2268.5 1042.5,2267.3Z" fill="#84aaff"/>
<path d="M1072.4,2239.4 1051.4,2258.8 1050.3,2257.5Z" fill="#84aaff"/>
<path d="M1072.3,2239.3 1056.9,2251.7 1056.0,2250.5Z" fill="#d6eaff"/>
<path d="M1072.2,2239.1 1040.2,2260.0 1038.8,2257.7Z" fill="#b5ccff"/>
<path d="M1072.1,2238.9 1034.2,2257.7 1033.4,2255.9Z" fill="#d6eaff"/>
<path d="M1072.0,2238.8 1054.3,2245.9 1054.0,2245.0Z" fill="#d6eaff"/>
<path d="M1072.0,2238.7 1028.6,2252.5 1028.1,2250.9Z" fill="#b5ccff"/>
<path d="M1071.9,2238.5 1054.9,2242.8 1054.7,2241.8Z" fill="#84aaff"/>
<path d="M1071.9,2238.3 1027.9,2244.6 1027.7,2243.2Z" fill="#d6eaff"/>
<path d="M1071.9,2238.1 1037.5,2239.5 1037.5,2237.5Z" fill="#84aaff"/>
<path d="M1071.9,2237.9 1038.0,2234.8 1038.1,2233.6Z" fill="#b5ccff"/>
<path d="M1071.9,2237.7 1027.0,2228.8 1027.5,2226.6Z" fill="#b5ccff"/>
<path d="M1072.0,2237.5 1052.4,2232.1 1052.7,2231.2Z" fill="#d6eaff"/>
<path d="M1072.0,2237.4 1033.5,2223.8 1034.2,2221.8Z" fill="#84aaff"/>
<path d="M1072.1,2237.3 1031.3,2219.4 1031.9,2217.9Z" fill="#84aaff"/>
<path d="M1072.2,2237.1 1057.4,2229.1 1057.8,2228.4Z" fill="#d6eaff"/>
<path d="M1072.3,2236.9 1056.7,2226.5 1057.3,2225.7Z" fill="#84aaff"/>
<path d="M1072.4,2236.8 1052.1,2219.4 1053.1,2218.4Z" fill="#84aaff"/>
<path d="M1072.6,2236.6 1054.8,2217.8 1055.9,2216.8Z" fill="#84aaff"/>
<path d="M1072.7,2236.5 1049.1,2205.7 1051.2,2204.3Z" fill="#84aaff"/>
<path d="M1072.9,2236.4 1053.5,2203.4 1054.8,2202.7Z" fill="#84aaff"/>
<path d="M1073.1,2236.3 1056.3,2202.3 1058.5,2201.3Z" fill="#84aaff"/>
<path d="M1073.2,2236.2 1065.2,2215.9 1066.7,2215.4Z" fill="#d6eaff"/>
<path d="M1073.4,2236.2 1060.7,2193.9 1063.7,2193.1Z" fill="#84aaff"/>
<path d="M1073.5,2236.1 1068.9,2214.0 1070.1,2213.8Z" fill="#84aaff"/>
<path d="M1073.7,2236.1 1069.5,2205.9 1071.6,2205.7Z" fill="#d6eaff"/>
<path d="M1073.9,2236.1 1072.6,2200.5 1073.8,2200.5Z" fill="#d6eaff"/>
<path d="M1074.1,2236.1 1076.2,2192.9 1078.9,2193.1Z" fill="#d6eaff"/>
<path d="M1074.2,2236.1 1077.3,2215.0 1078.3,2215.2Z" fill="#d6eaff"/>
<path d="M1074.4,2236.2 1085.6,2192.4 1087.8,2193.0Z" fill="#b5ccff"/>
<path d="M1074.6,2236.2 1081.2,2218.9 1081.8,2219.1Z" fill="#84aaff"/>
<path d="M1074.8,2236.3 1082.9,2217.4 1084.1,2218.0Z" fill="#b5ccff"/>
<path d="M1074.9,2236.3 1093.5,2200.0 1095.6,2201.2Z" fill="#b5ccff"/>
<path d="M1075.0,2236.4 1092.4,2209.0 1093.2,2209.5Z" fill="#84aaff"/>
<path d="M1075.2,2236.6 1098.4,2206.7 1099.9,2208.0Z" fill="#84aaff"/>
<path d="M1075.3,2236.7 1095.6,2215.9 1096.9,2217.3Z" fill="#84aaff"/>
<path d="M1075.4,2236.8 1093.1,2221.2 1093.9,2222.2Z" fill="#84aaff"/>
<path d="M1102.9,2221.3 1140.4,2198.5 1141.5,2200.3Z" fill="#84aaff"/>
<path d="M1081.1,2234.4 1147.0,2199.4 1147.7,2200.7Z" fill="#b5ccff"/>
<path d="M1106.1,2222.3 1146.7,2200.9 1147.9,2203.3Z" fill="#d6eaff"/>
<path d="M1127.7,2215.0 1186.4,2187.8 1187.8,2191.1Z" fill="#b5ccff"/>
<path d="M1105.8,2225.4 1169.3,2198.7 1170.3,2201.1Z" fill="#b5ccff"/>
<path d="M1126.7,2220.1 1218.7,2185.9 1220.4,2191.1Z" fill="#b5ccff"/>
<path d="M1085.1,2234.6 1191.6,2200.0 1192.5,2202.9Z" fill="#d6eaff"/>
<path d="M1090.0,2233.5 1168.7,2210.0 1169.3,2212.0Z" fill="#84aaff"/>
<path d="M1113.0,2228.0 1231.5,2195.4 1232.4,2199.0Z" fill="#84aaff"/>
<path d="M1090.5,2234.3 1157.8,2217.3 1158.5,2220.4Z" fill="#d6eaff"/>
<path d="M1123.8,2228.5 1199.8,2212.6 1200.3,2214.9Z" fill="#84aaff"/>
<path d="M1101.7,2233.7 1203.9,2216.1 1204.4,2219.1Z" fill="#b5ccff"/>
<path d="M1109.1,2233.4 1186.6,2221.7 1187.0,2224.5Z" fill="#b5ccff"/>
<path d="M1095.0,2235.7 1182.8,2223.9 1183.2,2228.0Z" fill="#b5ccff"/>
<path d="M1132.1,2233.1 1253.3,2221.1 1253.6,2224.0Z" fill="#84aaff"/>
<path d="M1093.7,2237.0 1148.5,2233.2 1148.6,2234.5Z" fill="#84aaff"/>
<path d="M1101.2,2237.5 1253.2,2231.6 1253.3,2236.4Z" fill="#b5ccff"/>
<path d="M1083.8,2238.2 1203.3,2238.9 1203.2,2240.9Z" fill="#b5ccff"/>
<path d="M1093.7,2239.2 1194.8,2244.1 1194.7,2245.8Z" fill="#84aaff"/>
<path d="M1125.8,2242.3 1174.9,2245.5 1174.8,2247.0Z" fill="#b5ccff"/>
<path d="M1133.1,2245.8 1197.5,2252.6 1197.1,2255.5Z" fill="#b5ccff"/>
<path d="M1107.3,2244.1 1216.5,2262.3 1216.0,2265.1Z" fill="#84aaff"/>
<path d="M1088.6,2241.1 1161.8,2254.5 1161.1,2257.7Z" fill="#84aaff"/>
<path d="M1094.2,2243.1 1204.1,2268.6 1203.3,2272.0Z" fill="#84aaff"/>
<path d="M1131.4,2254.0 1181.7,2267.1 1181.3,2268.7Z" fill="#84aaff"/>
<path d="M1105.8,2247.7 1199.4,2274.4 1198.7,2276.9Z" fill="#84aaff"/>
<path d="M1101.2,2247.3 1215.6,2284.0 1214.4,2287.7Z" fill="#84aaff"/>
<path d="M1094.3,2246.1 1183.4,2279.8 1182.6,2281.9Z" fill="#b5ccff"/>
<path d="M1115.4,2255.7 1160.6,2274.0 1159.9,2275.5Z" fill="#84aaff"/>
<path d="M1079.1,2240.6 1243.9,2318.0 1241.5,2322.9Z" fill="#84aaff"/>
<path d="M1082.4,2242.7 1181.6,2294.8 1179.5,2298.5Z" fill="#84aaff"/>
<path d="M1106.2,2257.9 1203.3,2314.8 1200.9,2318.8Z" fill="#b5ccff"/>
<path d="M1098.7,2254.1 1151.9,2287.3 1150.9,2288.9Z" fill="#b5ccff"/>
<path d="M1092.4,2251.4 1226.2,2346.1 1224.6,2348.3Z" fill="#b5ccff"/>
<path d="M1067.6,2220.9 1051.8,2179.0 1052.8,2178.6Z" fill="#d6eaff"/>
<path d="M1064.9,2207.2 1050.4,2161.4 1052.3,2160.9Z" fill="#d6eaff"/>
<path d="M1072.4,2231.8 1049.3,2142.2 1052.0,2141.5Z" fill="#d6eaff"/>
<path d="M1066.5,2200.3 1060.2,2171.2 1061.5,2171.0Z" fill="#d6eaff"/>
<path d="M1070.5,2208.1 1066.1,2179.3 1068.4,2179.0Z" fill="#b5ccff"/>
<path d="M1072.3,2203.9 1070.2,2171.2 1071.4,2171.1Z" fill="#d6eaff"/>
<path d="M1075.0,2206.8 1075.2,2150.5 1078.9,2150.6Z" fill="#d6eaff"/>
<path d="M1076.6,2212.8 1082.2,2139.7 1086.2,2140.1Z" fill="#84aaff"/>
<path d="M1075.1,2231.7 1089.9,2148.6 1091.7,2148.9Z" fill="#d6eaff"/>
<path d="M1080.2,2214.4 1099.3,2133.6 1103.5,2134.7Z" fill="#b5ccff"/>
<path d="M1075.6,2233.3 1101.0,2154.8 1103.5,2155.7Z" fill="#d6eaff"/>
<path d="M1076.8,2231.4 1110.0,2150.3 1113.1,2151.7Z" fill="#84aaff"/>
<path d="M1080.0,2226.4 1103.0,2179.8 1105.4,2181.1Z" fill="#84aaff"/>
<path d="M1083.7,2222.5 1107.0,2183.5 1108.7,2184.6Z" fill="#b5ccff"/>
<path d="M1090.0,2215.8 1125.9,2163.4 1128.4,2165.2Z" fill="#84aaff"/>
<path d="M1092.1,2215.2 1109.7,2191.4 1111.3,2192.7Z" fill="#84aaff"/>
<path d="M1083.6,2227.5 1112.7,2195.0 1113.5,2195.7Z" fill="#b5ccff"/>
<path d="M1001.1,2259.2 1015.2,2255.6 1033.9,2256.8 1050.3,2261.5 1064.4,2268.5 1080.8,2275.6 1097.2,2282.6 1111.3,2292.0 1125.4,2301.4 1139.4,2310.7 1153.5,2320.1 1162.9,2329.5 1161.7,2343.6 1155.8,2355.3 1148.8,2364.7 1134.7,2369.4 1125.4,2371.7 1120.7,2364.7 1113.6,2348.3 1104.3,2331.8 1092.5,2320.1 1078.5,2317.8 1069.1,2306.0 1055.0,2296.7 1043.3,2287.3 1026.9,2275.6 1010.5,2266.2Z" fill="#ffead6"/>
<path d="M1019.9,2261.5 1033.9,2259.2 1045.7,2266.2 1057.4,2273.2 1066.8,2284.9 1073.8,2299.0 1069.1,2303.7 1059.7,2292.0 1048.0,2280.3 1033.9,2270.9Z" fill="#ffccb5"/>
<path d="M1076.1,2294.3 1085.5,2292.0 1092.5,2303.7 1090.2,2313.1 1080.8,2308.4Z" fill="#ffccb5"/>
<path d="M1111.3,2299.0 1120.7,2296.7 1130.1,2306.0 1137.1,2317.8 1134.7,2329.5 1127.7,2331.8 1123.0,2320.1 1116.0,2310.7Z" fill="#ffccb5"/>
<path d="M1056.2,2279.1 1060.9,2277.9 1062.1,2283.8 1057.4,2284.5Z" fill="#ffaa84"/>
<path d="M1075.0,2090.3 1078.5,2088.0 1080.8,2097.4 1077.3,2102.1Z" fill="#ffead6"/>
</g>
<path d="M1039.7,2009.2 1041.2,2013.6 1037.4,2006.3 1033.0,2005.7 1028.6,2010.7 1025.7,2013.6 1028.6,2019.5 1027.1,2025.4 1022.7,2031.2 1016.9,2035.6 1011.0,2042.9 1005.2,2053.2 1000.8,2060.5 997.8,2066.4 999.3,2072.3 996.4,2079.6 994.9,2091.3 992.0,2101.6 988.4,2108.9 987.6,2117.7 987.6,2127.9 983.2,2135.3 975.8,2141.1 968.5,2145.5 956.8,2149.3 945.1,2152.9 936.3,2157.3 930.4,2166.0 926.0,2176.3 921.6,2167.5 917.2,2157.3 911.4,2152.9 908.4,2145.5 902.6,2142.6 896.7,2136.7 892.3,2133.8 887.9,2135.3 883.5,2130.9 877.7,2130.9 871.8,2126.5 865.9,2125.9 858.6,2123.5 851.3,2120.6 841.0,2119.1 836.6,2123.5 835.2,2127.9 830.8,2126.5 826.4,2123.5 822.0,2117.7 816.7,2116.2 814.7,2110.4 810.3,2108.9 811.7,2104.5 807.3,2101.6 802.9,2094.2 799.1,2085.4 796.5,2076.7 795.6,2069.3 802.9,2064.9 800.0,2062.0 795.6,2062.0 795.0,2054.7 799.1,2053.2 800.3,2046.8 792.7,2047.3 792.7,2054.7 790.6,2057.6 789.7,2067.9 789.7,2076.7 791.2,2085.4 789.7,2089.8 785.3,2088.4 783.9,2092.8 788.3,2100.1 792.7,2097.2 795.6,2103.0 798.5,2108.9 802.9,2114.8 807.3,2120.6 811.7,2125.0 813.2,2127.9 807.3,2127.9 803.8,2129.4 805.9,2135.3 810.3,2139.7 813.2,2135.3 814.7,2130.9 819.0,2130.9 823.4,2133.8 829.3,2136.7 833.7,2138.2 835.2,2142.6 838.1,2147.0 845.4,2147.0 854.2,2148.5 863.0,2149.9 870.3,2152.9 876.2,2157.3 879.1,2163.1 877.7,2176.3 877.1,2185.1 871.8,2180.7 865.9,2185.1 861.5,2192.4 860.1,2196.8 868.9,2198.3 864.5,2205.6 863.0,2214.4 864.5,2218.2 861.5,2235.8 858.6,2250.5 855.7,2260.7 851.3,2262.2 849.2,2266.6 851.3,2273.9 852.8,2282.7 857.1,2279.8 860.1,2272.4 863.0,2265.1 868.9,2262.2 873.3,2263.7 868.9,2269.5 865.9,2276.8 864.5,2284.2 868.9,2281.2 874.7,2278.3 880.6,2276.8 885.0,2272.4 890.0,2271.6 888.8,2282.7 892.3,2291.5 896.7,2297.4 898.2,2303.2 893.8,2301.8 889.4,2300.3 885.0,2303.2 887.9,2306.1 893.8,2304.7 890.9,2310.5 885.9,2313.5 890.9,2317.3 898.2,2313.5 904.0,2312.0 908.4,2317.9 908.4,2323.7 904.0,2329.6 898.2,2331.1 893.8,2332.5 895.2,2338.4 901.1,2341.3 902.6,2347.2 898.2,2351.6 901.1,2356.0 905.5,2351.6 912.8,2350.1 921.6,2350.1 929.0,2347.2 935.7,2344.2 936.3,2353.0 936.3,2364.8 939.2,2373.6 945.1,2375.9 953.9,2377.1 959.7,2376.5 961.2,2380.0 968.5,2381.8 977.3,2385.3 981.7,2378.0 986.1,2372.1 993.4,2370.0 1000.8,2372.1 1005.2,2378.0 1006.6,2383.8 1011.0,2388.2 1016.9,2386.7 1016.9,2379.4 1012.5,2375.0 1013.9,2372.1 1019.8,2370.6 1018.3,2361.8 1015.4,2350.1 1012.5,2339.9 1009.6,2335.5 1016.9,2334.0 1027.1,2335.5 1030.1,2329.6 1034.5,2317.9 1038.9,2306.1 1041.8,2297.4 1040.3,2291.5 1043.3,2287.1 1050.6,2290.0 1054.4,2294.4 1060.3,2303.2 1069.1,2310.5 1077.9,2317.9 1086.6,2319.3 1095.4,2325.2 1102.8,2332.5 1110.1,2342.8 1114.5,2353.0 1118.9,2364.8 1119.5,2370.6 1114.5,2376.5 1108.6,2379.4 1113.0,2385.3 1117.4,2392.6 1121.8,2399.9 1126.2,2408.7 1127.7,2417.5 1124.7,2424.8 1123.3,2430.7 1119.5,2432.2 1120.3,2441.0 1117.4,2446.8 1113.0,2449.8 1110.1,2457.1 1111.6,2464.4 1114.5,2468.8 1113.0,2471.7 1110.1,2465.9 1118.9,2470.3 1126.2,2473.8 1133.5,2476.1 1143.8,2472.6 1145.3,2478.5 1148.2,2467.3 1152.6,2471.7 1157.0,2480.5 1168.7,2482.0 1177.5,2482.0 1179.8,2475.6 1184.8,2477.6 1190.7,2482.0 1198.0,2477.6 1202.4,2473.8 1205.3,2476.1 1212.7,2473.8 1218.5,2468.8 1224.4,2467.9 1231.7,2473.8 1239.0,2468.8 1243.4,2473.8 1248.4,2473.8 1250.2,2468.8 1253.7,2469.7 1262.5,2465.0 1274.2,2459.1 1280.1,2455.6 1287.4,2452.7 1293.3,2446.8 1300.6,2441.0 1302.1,2435.1 1297.7,2430.7 1294.7,2423.4 1299.1,2421.9 1306.5,2421.9 1312.3,2419.0 1315.2,2410.2 1314.7,2404.3 1318.2,2399.3 1323.5,2398.5 1325.5,2388.2 1329.9,2379.4 1335.8,2373.6 1344.6,2367.7 1351.9,2364.8 1354.8,2358.9 1355.7,2347.2 1350.4,2341.3 1349.0,2335.5 1353.3,2332.5 1357.7,2325.2 1365.1,2317.9 1369.5,2309.1 1370.3,2300.3 1368.0,2291.5 1365.1,2286.5 1366.5,2278.9 1368.6,2267.2 1369.5,2252.5 1368.0,2237.8 1365.7,2223.2 1362.1,2211.5 1357.7,2202.7 1350.4,2195.4 1344.6,2189.5 1338.7,2185.1 1331.4,2185.1 1325.5,2179.2 1319.6,2176.3 1316.7,2167.5 1312.3,2163.1 1307.0,2157.3 1305.0,2163.1 1302.9,2158.7 1307.0,2154.3 1313.8,2151.4 1321.1,2152.3 1325.5,2145.5 1331.4,2144.1 1336.4,2141.1 1332.8,2135.3 1329.9,2126.5 1328.4,2117.7 1324.0,2108.9 1321.1,2100.1 1318.2,2094.2 1316.7,2088.4 1318.2,2079.6 1315.2,2078.1 1322.6,2077.2 1322.6,2066.4 1319.6,2059.1 1313.8,2053.8 1303.5,2051.7 1296.2,2053.8 1288.9,2060.5 1285.4,2060.5 1287.4,2054.7 1283.0,2051.7 1277.1,2045.9 1271.3,2041.5 1262.5,2037.1 1253.7,2035.6 1244.9,2037.1 1237.6,2041.5 1229.7,2045.0 1231.7,2040.0 1227.3,2035.6 1225.0,2026.8 1225.0,2017.4 1220.0,2018.0 1215.6,2025.4 1211.2,2021.0 1200.9,2019.5 1192.2,2018.0 1180.4,2015.1 1170.2,2016.6 1162.8,2013.6 1151.1,2007.8 1139.4,2001.9 1127.7,1997.5 1115.9,1994.6 1106.3,1992.5 1094.5,1996.1 1085.8,2000.5 1077.0,2006.3 1072.6,2008.4 1068.2,2001.9 1067.6,1994.6 1062.9,1993.1 1059.4,1996.1 1060.3,2004.8 1050.6,2005.7 1049.1,2001.9 1043.3,2001.9 1041.8,2009.2ZM824.3,2150.8 839.6,2149.9 854.2,2152.0 864.5,2156.4 870.3,2163.1 871.2,2170.4 866.8,2177.2 860.7,2179.8 854.2,2182.2 849.8,2185.1 845.4,2181.6 847.8,2174.8 851.3,2167.5 850.7,2162.2 844.0,2159.3 835.2,2158.1 827.3,2157.3ZM830.2,2170.4 836.0,2167.5 840.1,2174.8 838.1,2180.7 831.4,2176.3ZM773.6,2048.8 776.5,2050.3 775.7,2059.1 776.5,2067.9 774.2,2073.1 771.6,2072.3 772.2,2062.0 771.3,2054.7ZM1034.5,2354.5 1038.3,2358.9 1037.4,2367.7 1033.6,2374.1 1030.1,2370.6 1030.7,2361.8ZM983.2,2381.8 988.4,2379.4 992.0,2383.8 984.6,2385.9ZM1101.9,2392.6 1110.1,2388.8 1111.6,2396.4 1104.8,2395.5ZM663.7,2062.0 666.6,2075.2 660.8,2079.6 663.7,2085.4 656.4,2088.4 652.6,2092.8" fill="none" stroke="#000" stroke-width="3.8" stroke-linejoin="round" stroke-linecap="round"/>
<path d="M803.5,1978.5 813.2,1975.5 807.3,1983.5Z" fill="#000" stroke="#000" stroke-width="1"/>
</g>
<circle cx="1073.9" cy="2238.1" r="446.5" fill="none" stroke="#000" stroke-width="2.6"/>
<rect x="101.10" y="1367.2" width="54.16" height="43.60" fill="#00008c"/>
<rect x="155.26" y="1367.2" width="54.16" height="43.60" fill="#001eb9"/>
<rect x="209.41" y="1367.2" width="54.16" height="43.60" fill="#0030e1"/>
<rect x="263.57" y="1367.2" width="54.16" height="43.60" fill="#1b53ff"/>
<rect x="317.73" y="1367.2" width="54.16" height="43.60" fill="#4278ff"/>
<rect x="371.88" y="1367.2" width="54.16" height="43.60" fill="#84aaff"/>
<rect x="426.04" y="1367.2" width="54.16" height="43.60" fill="#b5ccff"/>
<rect x="480.19" y="1367.2" width="54.16" height="43.60" fill="#d6eaff"/>
<rect x="534.35" y="1367.2" width="54.16" height="43.60" fill="#ffead6"/>
<rect x="588.51" y="1367.2" width="54.16" height="43.60" fill="#ffccb5"/>
<rect x="642.66" y="1367.2" width="54.16" height="43.60" fill="#ffaa84"/>
<rect x="696.82" y="1367.2" width="54.16" height="43.60" fill="#ff7842"/>
<rect x="750.98" y="1367.2" width="54.16" height="43.60" fill="#ff531b"/>
<rect x="805.13" y="1367.2" width="54.16" height="43.60" fill="#e13000"/>
<rect x="859.29" y="1367.2" width="54.16" height="43.60" fill="#bb2600"/>
<rect x="913.44" y="1367.2" width="54.16" height="43.60" fill="#8c0000"/>
<path d="M155.26,1367.2V1410.8M209.41,1367.2V1410.8M263.57,1367.2V1410.8M317.73,1367.2V1410.8M371.88,1367.2V1410.8M426.04,1367.2V1410.8M480.19,1367.2V1410.8M534.35,1367.2V1410.8M588.51,1367.2V1410.8M642.66,1367.2V1410.8M696.82,1367.2V1410.8M750.98,1367.2V1410.8M805.13,1367.2V1410.8M859.29,1367.2V1410.8M913.44,1367.2V1410.8" stroke="#000" stroke-width="2.2" fill="none"/>
<rect x="101.10" y="1367.2" width="866.50" height="43.60" fill="none" stroke="#000" stroke-width="2.8"/>
<text transform="translate(145.97,1459.8) scale(0.955,1)" font-size="34.71">5</text>
<text transform="translate(244.59,1459.8) scale(0.955,1)" font-size="34.71">15</text>
<text transform="translate(353.73,1459.8) scale(0.955,1)" font-size="34.71">30</text>
<text transform="translate(461.96,1459.8) scale(0.955,1)" font-size="34.71">50</text>
<text transform="translate(570.11,1459.8) scale(0.955,1)" font-size="34.71">70</text>
<text transform="translate(678.50,1459.8) scale(0.955,1)" font-size="34.71">90</text>
<text transform="translate(778.11,1459.8) scale(0.955,1)" font-size="34.71">110</text>
<text transform="translate(885.51,1459.8) scale(0.955,1)" font-size="34.71">130</text>
<rect x="1180.50" y="1367.2" width="54.16" height="43.60" fill="#00008c"/>
<rect x="1234.66" y="1367.2" width="54.16" height="43.60" fill="#001eb9"/>
<rect x="1288.81" y="1367.2" width="54.16" height="43.60" fill="#0030e1"/>
<rect x="1342.97" y="1367.2" width="54.16" height="43.60" fill="#1b53ff"/>
<rect x="1397.12" y="1367.2" width="54.16" height="43.60" fill="#4278ff"/>
<rect x="1451.28" y="1367.2" width="54.16" height="43.60" fill="#84aaff"/>
<rect x="1505.44" y="1367.2" width="54.16" height="43.60" fill="#b5ccff"/>
<rect x="1559.59" y="1367.2" width="54.16" height="43.60" fill="#d6eaff"/>
<rect x="1613.75" y="1367.2" width="54.16" height="43.60" fill="#ffead6"/>
<rect x="1667.91" y="1367.2" width="54.16" height="43.60" fill="#ffccb5"/>
<rect x="1722.06" y="1367.2" width="54.16" height="43.60" fill="#ffaa84"/>
<rect x="1776.22" y="1367.2" width="54.16" height="43.60" fill="#ff7842"/>
<rect x="1830.38" y="1367.2" width="54.16" height="43.60" fill="#ff531b"/>
<rect x="1884.53" y="1367.2" width="54.16" height="43.60" fill="#e13000"/>
<rect x="1938.69" y="1367.2" width="54.16" height="43.60" fill="#bb2600"/>
<rect x="1992.84" y="1367.2" width="54.16" height="43.60" fill="#8c0000"/>
<path d="M1234.66,1367.2V1410.8M1288.81,1367.2V1410.8M1342.97,1367.2V1410.8M1397.12,1367.2V1410.8M1451.28,1367.2V1410.8M1505.44,1367.2V1410.8M1559.59,1367.2V1410.8M1613.75,1367.2V1410.8M1667.91,1367.2V1410.8M1722.06,1367.2V1410.8M1776.22,1367.2V1410.8M1830.38,1367.2V1410.8M1884.53,1367.2V1410.8M1938.69,1367.2V1410.8M1992.84,1367.2V1410.8" stroke="#000" stroke-width="2.2" fill="none"/>
<rect x="1180.50" y="1367.2" width="866.50" height="43.60" fill="none" stroke="#000" stroke-width="2.8"/>
<text transform="translate(1225.37,1459.8) scale(0.955,1)" font-size="34.71">5</text>
<text transform="translate(1323.99,1459.8) scale(0.955,1)" font-size="34.71">15</text>
<text transform="translate(1433.13,1459.8) scale(0.955,1)" font-size="34.71">30</text>
<text transform="translate(1541.36,1459.8) scale(0.955,1)" font-size="34.71">50</text>
<text transform="translate(1649.51,1459.8) scale(0.955,1)" font-size="34.71">70</text>
<text transform="translate(1757.90,1459.8) scale(0.955,1)" font-size="34.71">90</text>
<text transform="translate(1857.51,1459.8) scale(0.955,1)" font-size="34.71">110</text>
<text transform="translate(1964.91,1459.8) scale(0.955,1)" font-size="34.71">130</text>
<rect x="1715.3" y="1957.60" width="75.50" height="44.94" fill="#8c0000"/>
<rect x="1715.3" y="2002.54" width="75.50" height="44.94" fill="#bb2600"/>
<rect x="1715.3" y="2047.47" width="75.50" height="44.94" fill="#e13000"/>
<rect x="1715.3" y="2092.41" width="75.50" height="44.94" fill="#ff531b"/>
<rect x="1715.3" y="2137.35" width="75.50" height="44.94" fill="#ff7842"/>
<rect x="1715.3" y="2182.29" width="75.50" height="44.94" fill="#ffaa84"/>
<rect x="1715.3" y="2227.22" width="75.50" height="44.94" fill="#ffccb5"/>
<rect x="1715.3" y="2272.16" width="75.50" height="44.94" fill="#ffead6"/>
<rect x="1715.3" y="2317.10" width="75.50" height="44.94" fill="#d6eaff"/>
<rect x="1715.3" y="2362.04" width="75.50" height="44.94" fill="#b5ccff"/>
<rect x="1715.3" y="2406.97" width="75.50" height="44.94" fill="#84aaff"/>
<rect x="1715.3" y="2451.91" width="75.50" height="44.94" fill="#4278ff"/>
<rect x="1715.3" y="2496.85" width="75.50" height="44.94" fill="#1b53ff"/>
<rect x="1715.3" y="2541.79" width="75.50" height="44.94" fill="#0030e1"/>
<rect x="1715.3" y="2586.72" width="75.50" height="44.94" fill="#001eb9"/>
<rect x="1715.3" y="2631.66" width="75.50" height="44.94" fill="#00008c"/>
<path d="M1715.3,2002.54H1790.8M1715.3,2047.47H1790.8M1715.3,2092.41H1790.8M1715.3,2137.35H1790.8M1715.3,2182.29H1790.8M1715.3,2227.22H1790.8M1715.3,2272.16H1790.8M1715.3,2317.10H1790.8M1715.3,2362.04H1790.8M1715.3,2406.97H1790.8M1715.3,2451.91H1790.8M1715.3,2496.85H1790.8M1715.3,2541.79H1790.8M1715.3,2586.72H1790.8M1715.3,2631.66H1790.8" stroke="#000" stroke-width="2.2" fill="none"/>
<rect x="1715.3" y="1957.6" width="75.50" height="719.00" fill="none" stroke="#000" stroke-width="2.8"/>
<text transform="translate(1811.96,2014.64) scale(0.955,1)" font-size="34.57">20</text>
<text transform="translate(1811.30,2059.57) scale(0.955,1)" font-size="34.57">15</text>
<text transform="translate(1811.55,2104.51) scale(0.955,1)" font-size="34.57">10</text>
<text transform="translate(1821.04,2149.45) scale(0.955,1)" font-size="34.57">8</text>
<text transform="translate(1821.04,2194.39) scale(0.955,1)" font-size="34.57">6</text>
<text transform="translate(1820.87,2239.32) scale(0.955,1)" font-size="34.57">4</text>
<text transform="translate(1821.12,2284.26) scale(0.955,1)" font-size="34.57">2</text>
<text transform="translate(1821.04,2329.20) scale(0.955,1)" font-size="34.57">0</text>
<text transform="translate(1815.51,2374.14) scale(0.955,1)" font-size="34.57">-2</text>
<text transform="translate(1814.93,2419.07) scale(0.955,1)" font-size="34.57">-4</text>
<text transform="translate(1815.43,2464.01) scale(0.955,1)" font-size="34.57">-6</text>
<text transform="translate(1815.34,2508.95) scale(0.955,1)" font-size="34.57">-8</text>
<text transform="translate(1806.35,2553.89) scale(0.955,1)" font-size="34.57">-10</text>
<text transform="translate(1806.10,2598.82) scale(0.955,1)" font-size="34.57">-15</text>
<text transform="translate(1806.35,2643.76) scale(0.955,1)" font-size="34.57">-20</text>
</svg>
</body></html>
